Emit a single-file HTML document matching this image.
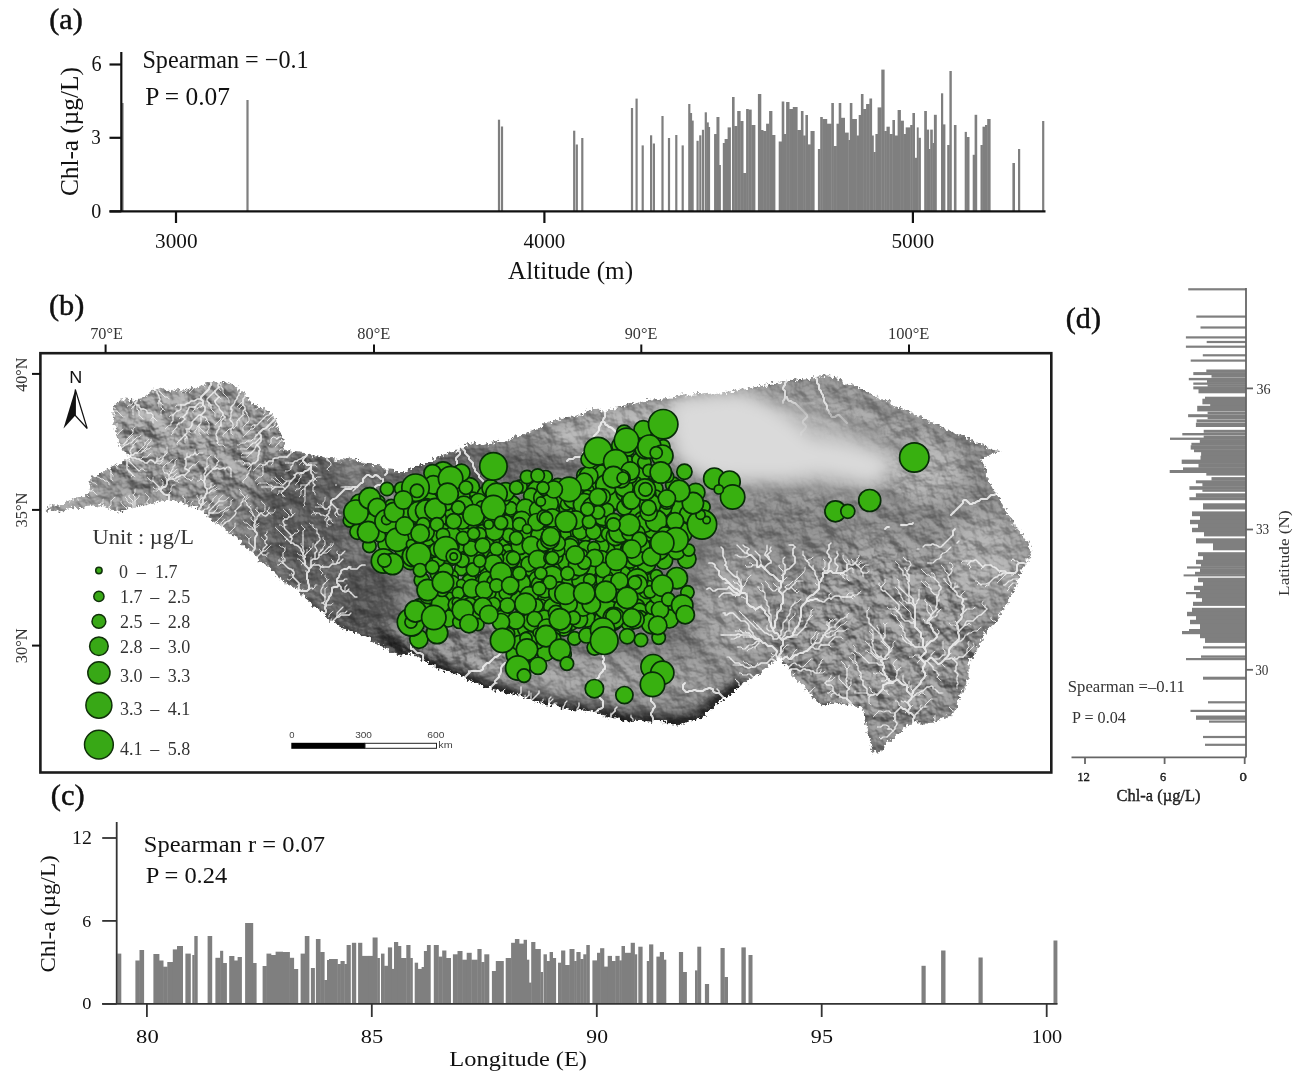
<!DOCTYPE html><html><head><meta charset="utf-8"><title>figure</title><style>html,body{margin:0;padding:0;background:#fff;overflow:hidden;}svg{display:block;will-change:transform;}</style></head><body>
<svg width="1307" height="1080" viewBox="0 0 1307 1080">
<defs>
<filter id="b1" x="-50%" y="-50%" width="200%" height="200%"><feGaussianBlur stdDeviation="1"/></filter>
<filter id="b3" x="-50%" y="-50%" width="200%" height="200%"><feGaussianBlur stdDeviation="3"/></filter>
<filter id="b5" x="-50%" y="-50%" width="200%" height="200%"><feGaussianBlur stdDeviation="5"/></filter>
<filter id="b6" x="-50%" y="-50%" width="200%" height="200%"><feGaussianBlur stdDeviation="6"/></filter>
<filter id="b8" x="-50%" y="-50%" width="200%" height="200%"><feGaussianBlur stdDeviation="8"/></filter>
<filter id="b10" x="-50%" y="-50%" width="200%" height="200%"><feGaussianBlur stdDeviation="10"/></filter>
<filter id="b12" x="-50%" y="-50%" width="200%" height="200%"><feGaussianBlur stdDeviation="12"/></filter>
<filter id="b14" x="-50%" y="-50%" width="200%" height="200%"><feGaussianBlur stdDeviation="14"/></filter>
<filter id="bh" x="-5%" y="-5%" width="110%" height="110%"><feGaussianBlur stdDeviation="0.45"/></filter>
<filter id="relief" x="0" y="0" width="100%" height="100%" color-interpolation-filters="sRGB"><feTurbulence type="fractalNoise" baseFrequency="0.06" numOctaves="4" seed="8" result="n"/><feDiffuseLighting in="n" surfaceScale="6" diffuseConstant="0.9" lighting-color="#fff" result="l"><feDistantLight azimuth="300" elevation="40"/></feDiffuseLighting><feColorMatrix in="l" type="matrix" values="0 0 0 0 0  0 0 0 0 0  0 0 0 0 0  -1.2 0 0 0 0.85"/></filter>
<filter id="hilite" x="0" y="0" width="100%" height="100%" color-interpolation-filters="sRGB"><feTurbulence type="fractalNoise" baseFrequency="0.06" numOctaves="4" seed="8" result="n"/><feDiffuseLighting in="n" surfaceScale="6" diffuseConstant="0.9" lighting-color="#fff" result="l"><feDistantLight azimuth="300" elevation="40"/></feDiffuseLighting><feColorMatrix in="l" type="matrix" values="0 0 0 0 1  0 0 0 0 1  0 0 0 0 1  1.5 0 0 0 -1.0"/></filter>
<filter id="jag" x="-5%" y="-5%" width="110%" height="110%"><feTurbulence type="fractalNoise" baseFrequency="0.06" numOctaves="2" seed="4" result="n"/><feDisplacementMap in="SourceGraphic" in2="n" scale="8" xChannelSelector="R" yChannelSelector="G" result="d1"/><feTurbulence type="fractalNoise" baseFrequency="0.35" numOctaves="2" seed="9" result="n2"/><feDisplacementMap in="d1" in2="n2" scale="7" xChannelSelector="R" yChannelSelector="G"/></filter>
<mask id="mm" maskUnits="userSpaceOnUse" x="0" y="340" width="1100" height="450"><path d="M44.9 509.6 L64.5 502.2 L89 494.9 L91.4 477.7 L103.7 470.4 L120.8 463 L128.1 455.7 L120.8 443.5 L113.5 423.9 L113.5 404.3 L120.8 401.8 L142.8 398.2 L150.2 392 L174.7 388.4 L199.2 385.9 L221.2 381 L235.9 385.9 L248.1 399.4 L265.3 409.2 L277.5 421.4 L281.2 438.6 L284.9 450.8 L304.4 453.3 L328.9 458.1 L353.4 460.6 L382 466 L386 471 L402 473 L413.5 467 L436 459 L465 446 L490.7 441.4 L522.8 435 L538.9 428.6 L555 420.5 L587 412.5 L619.2 406 L651.3 399.6 L683.5 396.4 L715.6 393.2 L747.7 389 L780.3 381.4 L800 378 L825.9 374.7 L840 380 L860.7 389.5 L880 398 L900.9 408.2 L920 418 L941 427 L967.8 437.7 L994.6 449.7 L1000 451 L981.2 459 L988 475 L994.6 488.5 L1000.8 502.2 L1008.8 515.6 L1016.9 529.1 L1027.6 542.5 L1033 555.9 L1022.2 572 L1016.9 582.8 L1011.5 598.9 L995.4 620.4 L982 639.2 L968.5 663.3 L968.5 679.5 L957.8 706.3 L949.7 717 L928.3 722.4 L912.1 722.4 L893.3 738.5 L882.6 749.3 L871.9 752 L866.5 727.8 L861.1 706.3 L842.3 703.6 L820.8 706.3 L802 684.8 L783.2 663.3 L780.6 655.3 L778 658 L747 682.6 L716.6 704 L701 719 L686 722.4 L655 722 L624.8 720 L594.2 713.2 L563.6 708.6 L533 701 L502.4 691.8 L471.8 682.6 L441.2 670.4 L410.6 653.6 L398.9 654.4 L368.3 639.1 L337.7 623.8 L307.1 599.4 L280 579 L268 567 L255 555 L240 541 L225 530 L211.4 519 L199.2 509 L186.9 502.2 L169.8 499.8 L137.9 507.1 L120.8 510.8 L101.2 507.1 L69.4 509.6 L44.9 512 Z" fill="#fff" filter="url(#jag)"/></mask>
<mask id="rm" maskUnits="userSpaceOnUse" x="0" y="340" width="1100" height="450"><rect x="0" y="340" width="1100" height="450" fill="#999"/><g fill="#fff" filter="url(#b14)"><ellipse cx="200" cy="450" rx="110" ry="60"/><ellipse cx="880" cy="640" rx="110" ry="90"/><ellipse cx="420" cy="650" rx="120" ry="25"/></g><g fill="#444" filter="url(#b14)"><ellipse cx="620" cy="540" rx="90" ry="60"/></g><g fill="#000" filter="url(#b8)"><path d="M672 402 L740 394 L767 405 L790 421 L812 440 L840 443 L862 449 L882 456 L893 467 L872 483 L850 478 L820 473 L788 478 L727 478 L700 473 L676 455 Z"/></g></mask>
</defs>
<rect width="1307" height="1080" fill="#fff"/>
<g fill="#7f7f7f">
<rect x="121.4" y="103" width="2.2" height="108"/>
<rect x="246.4" y="100" width="2.2" height="111"/>
<rect x="497.9" y="119.7" width="2.2" height="91.3"/>
<rect x="500.9" y="126.5" width="2.2" height="84.5"/>
<rect x="573.1" y="130.7" width="2.2" height="80.3"/>
<rect x="575.7" y="144.5" width="2.2" height="66.5"/>
<rect x="581.2" y="138" width="2.2" height="73"/>
<rect x="630.9" y="108" width="2.2" height="103"/>
<rect x="635.5" y="98.6" width="2.2" height="112.4"/>
<rect x="641.6" y="145.4" width="2.2" height="65.6"/>
<rect x="650" y="135.3" width="2.2" height="75.7"/>
<rect x="652.8" y="143.5" width="2.2" height="67.5"/>
<rect x="661.4" y="116" width="2.2" height="95"/>
<rect x="667.9" y="138" width="2.2" height="73"/>
<rect x="675.2" y="135" width="2.2" height="76"/>
<rect x="681.6" y="145.4" width="2.2" height="65.6"/>
<rect x="688.2" y="104" width="2.2" height="107"/>
<rect x="689.9" y="113" width="2.2" height="98"/>
<rect x="691.5" y="120.6" width="2.2" height="90.4"/>
<rect x="696.5" y="140.8" width="2.2" height="70.2"/>
<rect x="699.2" y="135.3" width="2.2" height="75.7"/>
<rect x="701.9" y="129.8" width="2.2" height="81.2"/>
<rect x="704.7" y="112.3" width="2.2" height="98.7"/>
<rect x="706.6" y="122.4" width="2.2" height="88.6"/>
<rect x="707.9" y="127" width="2.2" height="84"/>
<rect x="714.3" y="134.4" width="2.2" height="76.6"/>
<rect x="716.9" y="117" width="2.2" height="94"/>
<rect x="1042.1" y="121" width="2.2" height="90"/>
<rect x="714.2" y="134" width="2.7" height="77"/>
<rect x="716.5" y="117" width="2.9" height="94"/>
<rect x="719" y="165" width="1.9" height="46"/>
<rect x="722.8" y="143" width="2.2" height="68"/>
<rect x="724.6" y="139" width="3.4" height="72"/>
<rect x="727.6" y="127.4" width="3.3" height="83.6"/>
<rect x="732" y="97" width="2.6" height="114"/>
<rect x="734.2" y="126" width="3.4" height="85"/>
<rect x="737.2" y="111" width="3.4" height="100"/>
<rect x="740.2" y="121" width="3.3" height="90"/>
<rect x="743.1" y="173" width="3.4" height="38"/>
<rect x="746.1" y="109" width="2.6" height="102"/>
<rect x="748.3" y="109.6" width="3.4" height="101.4"/>
<rect x="751.3" y="125" width="4.1" height="86"/>
<rect x="757.9" y="94" width="3.4" height="117"/>
<rect x="760.9" y="130" width="2.6" height="81"/>
<rect x="763.1" y="131" width="3.4" height="80"/>
<rect x="766.1" y="123.7" width="3.4" height="87.3"/>
<rect x="769.1" y="111" width="3.3" height="100"/>
<rect x="772" y="135" width="3.4" height="76"/>
<rect x="778.7" y="141.5" width="3.4" height="69.5"/>
<rect x="781.7" y="101.5" width="2.6" height="109.5"/>
<rect x="783.9" y="134" width="2.6" height="77"/>
<rect x="786.1" y="102" width="3.4" height="109"/>
<rect x="789.1" y="109" width="4.1" height="102"/>
<rect x="792.8" y="107" width="4.8" height="104"/>
<rect x="797.2" y="130" width="4.1" height="81"/>
<rect x="800.9" y="111" width="2.6" height="100"/>
<rect x="803.1" y="135.5" width="2.7" height="75.5"/>
<rect x="805.4" y="115" width="2.6" height="96"/>
<rect x="807.6" y="144.4" width="3.3" height="66.6"/>
<rect x="810.5" y="131" width="4.1" height="80"/>
<rect x="817.9" y="149" width="2.7" height="62"/>
<rect x="820.2" y="117" width="2.6" height="94"/>
<rect x="822.4" y="119" width="4.8" height="92"/>
<rect x="826.8" y="123.7" width="4.9" height="87.3"/>
<rect x="831.3" y="103" width="2.6" height="108"/>
<rect x="833.5" y="146" width="3.4" height="65"/>
<rect x="836.5" y="123.7" width="2.6" height="87.3"/>
<rect x="838.7" y="103" width="2.6" height="108"/>
<rect x="840.9" y="117.8" width="4.1" height="93.2"/>
<rect x="844.6" y="132.6" width="4.1" height="78.4"/>
<rect x="848.3" y="140" width="1.9" height="71"/>
<rect x="849.8" y="103" width="2.6" height="108"/>
<rect x="852" y="119" width="4.9" height="92"/>
<rect x="856.5" y="135.5" width="2.6" height="75.5"/>
<rect x="858.7" y="115" width="2.6" height="96"/>
<rect x="860.9" y="94" width="2.6" height="117"/>
<rect x="863.1" y="109" width="3.4" height="102"/>
<rect x="866.1" y="104" width="3.7" height="107"/>
<rect x="869.4" y="98.5" width="2.7" height="112.5"/>
<rect x="871.7" y="135.5" width="2.1" height="75.5"/>
<rect x="873.4" y="152" width="2.4" height="59"/>
<rect x="875.4" y="134" width="2.6" height="77"/>
<rect x="877.6" y="107.4" width="4.1" height="103.6"/>
<rect x="881.3" y="69.6" width="3.3" height="141.4"/>
<rect x="884.2" y="131" width="2.7" height="80"/>
<rect x="886.5" y="126.7" width="3.3" height="84.3"/>
<rect x="889.4" y="134" width="3.4" height="77"/>
<rect x="892.4" y="120" width="2.6" height="91"/>
<rect x="894.6" y="135.5" width="3.4" height="75.5"/>
<rect x="897.6" y="110" width="3.3" height="101"/>
<rect x="900.5" y="120.7" width="3.4" height="90.3"/>
<rect x="903.5" y="134" width="2.6" height="77"/>
<rect x="905.7" y="127.4" width="4.9" height="83.6"/>
<rect x="910.2" y="125" width="2.6" height="86"/>
<rect x="912.4" y="113" width="2.6" height="98"/>
<rect x="914.6" y="157.8" width="2.6" height="53.2"/>
<rect x="916.8" y="127.4" width="1.9" height="83.6"/>
<rect x="918.3" y="137.8" width="2.6" height="73.2"/>
<rect x="924.2" y="111" width="2.7" height="100"/>
<rect x="926.5" y="129.6" width="2.6" height="81.4"/>
<rect x="928.7" y="149" width="1.9" height="62"/>
<rect x="930.2" y="129.6" width="2.6" height="81.4"/>
<rect x="932.4" y="143" width="1.9" height="68"/>
<rect x="933.9" y="114.8" width="2.9" height="96.2"/>
<rect x="941" y="93.3" width="2.2" height="117.7"/>
<rect x="942.8" y="124.4" width="2.6" height="86.6"/>
<rect x="947.2" y="145" width="2.6" height="66"/>
<rect x="949.4" y="71" width="2.4" height="140"/>
<rect x="953.9" y="125" width="2.6" height="86"/>
<rect x="964.7" y="131.9" width="2.2" height="79.1"/>
<rect x="966.5" y="137" width="3" height="74"/>
<rect x="972.7" y="154.8" width="2.3" height="56.2"/>
<rect x="974.6" y="114.8" width="2.6" height="96.2"/>
<rect x="980.5" y="145" width="2.4" height="66"/>
<rect x="982.5" y="126.7" width="2.9" height="84.3"/>
<rect x="985" y="125" width="2.6" height="86"/>
<rect x="987.2" y="119" width="3.4" height="92"/>
<rect x="1012.4" y="163" width="2.6" height="48"/>
<rect x="1018" y="149" width="2.2" height="62"/>
</g>
<g stroke="#111" stroke-width="2.2" fill="none">
<path d="M121.3 52 V211.4"/>
<path d="M109.5 211.4 H1045.5"/>
<path d="M109.5 64.5 H121.3"/>
<path d="M109.5 137.8 H121.3"/>
<path d="M109.5 211.4 H121.3"/>
<path d="M176 211.4 V223"/>
<path d="M544.4 211.4 V223"/>
<path d="M912.9 211.4 V223"/>
</g>
<g fill="#111">
<text stroke="currentColor" stroke-width="0.45" x="49.35" y="29.19" font-size="29.34" font-family='"Liberation Serif", serif' textLength="33.41" lengthAdjust="spacingAndGlyphs">(a)</text>
<text x="142.43" y="67.93" font-size="25.45" font-family='"Liberation Serif", serif' textLength="166.16" lengthAdjust="spacingAndGlyphs">Spearman = −0.1</text>
<text x="145.24" y="104.72" font-size="25.44" font-family='"Liberation Serif", serif'>P = 0.07</text>
<text x="91.39" y="71.08" font-size="22.39" font-family='"Liberation Serif", serif' textLength="10.12" lengthAdjust="spacingAndGlyphs">6</text>
<text x="91.14" y="144.29" font-size="20.90" font-family='"Liberation Serif", serif' textLength="9.52" lengthAdjust="spacingAndGlyphs">3</text>
<text x="91.20" y="218.19" font-size="21.48" font-family='"Liberation Serif", serif' textLength="10.00" lengthAdjust="spacingAndGlyphs">0</text>
<text x="155.04" y="247.99" font-size="20.89" font-family='"Liberation Serif", serif' textLength="42.51" lengthAdjust="spacingAndGlyphs">3000</text>
<text x="523.48" y="247.50" font-size="20.44" font-family='"Liberation Serif", serif' textLength="41.86" lengthAdjust="spacingAndGlyphs">4000</text>
<text x="891.42" y="247.50" font-size="20.44" font-family='"Liberation Serif", serif' textLength="42.74" lengthAdjust="spacingAndGlyphs">5000</text>
<text x="508.05" y="279.41" font-size="24.62" font-family='"Liberation Serif", serif' textLength="124.99" lengthAdjust="spacingAndGlyphs">Altitude (m)</text>
<text transform="rotate(-90)" x="-196.01" y="77.97" font-size="25.71" font-family='"Liberation Serif", serif' textLength="128.79" lengthAdjust="spacingAndGlyphs">Chl-a (µg/L)</text>
</g>
<g mask="url(#mm)">
<rect x="40" y="360" width="1012" height="410" fill="#8e8e8e"/>
<g fill="#a4a4a4" filter="url(#b12)"><ellipse cx="200" cy="445" rx="100" ry="55"/></g>
<g fill="#b0b0b0" filter="url(#b10)"><ellipse cx="185" cy="420" rx="70" ry="30"/></g>
<g fill="#acacac" filter="url(#b6)"><ellipse cx="90" cy="500" rx="50" ry="12"/></g>
<g fill="#626262" filter="url(#b12)"><ellipse cx="305" cy="520" rx="50" ry="70"/></g>
<g fill="#585858" filter="url(#b10)"><ellipse cx="365" cy="600" rx="35" ry="45"/></g>
<g fill="#606060" filter="url(#b10)"><ellipse cx="470" cy="468" rx="110" ry="18"/></g>
<g fill="#7a7a7a" filter="url(#b14)"><ellipse cx="620" cy="560" rx="120" ry="110"/></g>
<g fill="#a2a2a2" filter="url(#b8)"><ellipse cx="870" cy="415" rx="100" ry="28"/></g>
<g fill="#b6b6b6" filter="url(#b10)"><ellipse cx="925" cy="470" rx="40" ry="30"/></g>
<g fill="#a2a2a2" filter="url(#b14)"><ellipse cx="880" cy="630" rx="90" ry="90"/></g>
<g fill="#b2b2b2" filter="url(#b12)"><ellipse cx="985" cy="560" rx="40" ry="45"/></g>
<g fill="#8a8a8a" filter="url(#b12)"><ellipse cx="770" cy="520" rx="60" ry="35"/></g>
<g fill="#b4b4b4" filter="url(#b6)"><path d="M540 432 L600 412 L680 400 L720 396 L730 420 L690 440 L620 445 L560 448 Z"/></g>
<g fill="#a4a4a4" filter="url(#b10)"><ellipse cx="735" cy="610" rx="40" ry="60"/></g>
<g fill="#a6a6a6" filter="url(#b10)"><ellipse cx="570" cy="676" rx="150" ry="20"/></g>
<path d="M380 642 L410.6 655 L441.2 672 L471.8 684 L502.4 693.8 L533 703 L563.6 710.6 L594.2 715.2 L624.8 721 L655 723 L686 723 L701 720 L716.6 705 L747 684" fill="none" stroke="#222" stroke-width="18" filter="url(#b5)"/>
<path d="M300 598 L337 627 L368 642 L398 657 L430 672" fill="none" stroke="#484848" stroke-width="10" filter="url(#b5)"/>
<g mask="url(#rm)">
<rect x="40" y="360" width="1012" height="410" filter="url(#relief)" opacity="0.62"/>
<rect x="40" y="360" width="1012" height="410" filter="url(#hilite)" opacity="0.6"/>
</g>
<g fill="none" stroke="#f4f4f4" stroke-linecap="round" stroke-linejoin="round" opacity="0.85" filter="url(#bh)">
<path d="M199 387 L199 387 L199 387 L199 385 L199 385" stroke-width="0.8"/>
<path d="M205 387 L205 387 L205 387 L203 385 L203 385" stroke-width="0.8"/>
<path d="M179 391 L179 391 L179 391 L181 391 L182 391 L183 391 L183 391" stroke-width="0.8"/>
<path d="M183 391 L184 391 L185 391 L187 389 L187 389" stroke-width="1"/>
<path d="M187 389 L187 387" stroke-width="1.1"/>
<path d="M221 391 L221 391 L221 391 L219 389 L219 388 L219 387 L219 387" stroke-width="0.8"/>
<path d="M219 387 L218 386 L218 385 L219 383 L219 383" stroke-width="1.7"/>
<path d="M219 383 L219 381" stroke-width="1.8"/>
<path d="M237 391 L237 391 L237 391 L239 389 L239 389" stroke-width="0.9"/>
<path d="M153 393 L153 393 L153 393 L153 391 L153 391" stroke-width="0.8"/>
<path d="M181 393 L181 393 L181 393 L183 391 L183 391" stroke-width="0.8"/>
<path d="M185 393 L185 393 L185 393 L187 391 L187 391" stroke-width="0.8"/>
<path d="M187 391 L187 389" stroke-width="0.9"/>
<path d="M189 393 L189 393 L189 393 L191 391 L192 390 L193 389 L193 389" stroke-width="0.8"/>
<path d="M193 389 L194 388 L195 387 L195 385 L195 385" stroke-width="0.9"/>
<path d="M147 397 L147 397 L147 397 L145 395 L145 395" stroke-width="0.9"/>
<path d="M169 399 L169 399 L169 399 L167 397 L167 397" stroke-width="0.8"/>
<path d="M167 397 L165 397" stroke-width="0.9"/>
<path d="M165 397 L164 396 L163 395 L161 393 L161 393" stroke-width="1"/>
<path d="M161 393 L160 392 L159 391 L159 389 L159 389" stroke-width="1.1"/>
<path d="M221 399 L221 399 L221 399 L219 397 L219 397" stroke-width="0.8"/>
<path d="M219 397 L218 396 L217 395 L215 393 L215 392 L215 391 L215 391" stroke-width="1.6"/>
<path d="M215 391 L216 390 L217 389 L219 387 L219 387" stroke-width="1.7"/>
<path d="M125 403 L125 403 L125 403 L125 401 L125 401" stroke-width="0.8"/>
<path d="M157 403 L157 403 L157 403 L159 403 L159 403" stroke-width="0.8"/>
<path d="M159 403 L159 401" stroke-width="1.1"/>
<path d="M159 401 L160 400 L160 399 L159 397 L159 396 L158 394 L157 393 L157 391 L157 391" stroke-width="1.4"/>
<path d="M229 403 L229 403 L229 403 L229 401 L229 400 L228 398 L227 397 L227 397" stroke-width="0.8"/>
<path d="M227 397 L225 395" stroke-width="0.9"/>
<path d="M225 395 L224 394 L223 393 L223 391 L223 390 L223 389 L223 389" stroke-width="1"/>
<path d="M223 389 L222 388 L221 387 L221 385 L220 384 L219 383 L219 383" stroke-width="1.1"/>
<path d="M783 403 L783 403 L783 403 L783 401 L784 400 L785 398 L785 397 L785 395 L785 394 L785 392 L785 391 L783 389 L783 388 L784 386 L785 385 L785 383 L786 382 L787 380 L787 379 L787 379" stroke-width="2"/>
<path d="M163 405 L163 405 L163 405 L161 403 L161 403" stroke-width="0.9"/>
<path d="M161 403 L159 401" stroke-width="1.2"/>
<path d="M213 405 L213 405 L213 405 L211 405 L211 405" stroke-width="0.9"/>
<path d="M211 405 L209 403" stroke-width="1.2"/>
<path d="M209 403 L208 402 L207 401 L207 399 L208 398 L210 396 L211 395 L213 393 L213 393" stroke-width="1.3"/>
<path d="M213 393 L215 391" stroke-width="1.4"/>
<path d="M127 407 L127 407 L127 407 L129 405 L130 405 L131 405 L131 405" stroke-width="0.8"/>
<path d="M131 405 L132 404 L133 403 L133 401 L133 400 L133 399 L133 399" stroke-width="0.9"/>
<path d="M159 407 L159 407 L159 407 L159 405 L159 405" stroke-width="0.8"/>
<path d="M159 405 L159 403" stroke-width="0.9"/>
<path d="M175 407 L175 407 L175 407 L177 405 L177 405" stroke-width="0.8"/>
<path d="M177 405 L178 405 L179 405 L181 405 L181 405" stroke-width="0.9"/>
<path d="M181 405 L182 405 L183 405 L185 405 L186 404 L188 403 L189 403 L189 403" stroke-width="1.4"/>
<path d="M189 403 L190 402 L191 401 L193 401 L194 401 L196 400 L197 399 L199 399 L200 399 L201 399 L201 399" stroke-width="1.5"/>
<path d="M201 399 L201 398 L201 397 L203 395 L204 394 L206 392 L207 391 L209 389 L209 388 L210 386 L211 385 L211 383 L211 383" stroke-width="2"/>
<path d="M209 407 L209 407 L209 407 L209 405 L209 405" stroke-width="0.8"/>
<path d="M209 405 L209 403" stroke-width="0.9"/>
<path d="M237 407 L237 407 L237 407 L239 405 L240 404 L241 403 L241 403" stroke-width="0.8"/>
<path d="M241 403 L243 401" stroke-width="0.9"/>
<path d="M243 401 L243 400 L243 399 L245 397 L245 396 L245 395 L245 395" stroke-width="1.5"/>
<path d="M131 409 L131 409 L131 409 L133 407 L133 407" stroke-width="0.8"/>
<path d="M133 407 L134 406 L135 405 L135 403 L135 403" stroke-width="1.1"/>
<path d="M135 403 L136 402 L137 401 L137 399 L137 399" stroke-width="1.6"/>
<path d="M197 409 L197 409 L197 409 L199 407 L200 407 L201 407 L201 407" stroke-width="0.8"/>
<path d="M201 407 L203 405" stroke-width="1"/>
<path d="M203 405 L203 403" stroke-width="1.8"/>
<path d="M203 403 L203 402 L203 401 L201 399 L201 399" stroke-width="1.9"/>
<path d="M239 409 L239 409 L239 409 L241 407 L241 407" stroke-width="0.8"/>
<path d="M241 407 L243 405" stroke-width="0.9"/>
<path d="M243 405 L243 404 L243 403 L243 401 L243 401" stroke-width="1.5"/>
<path d="M255 409 L255 409 L255 409 L257 409 L257 409" stroke-width="0.8"/>
<path d="M257 409 L258 408 L259 407 L259 405 L259 405" stroke-width="1"/>
<path d="M141 411 L141 411 L141 411 L141 409 L141 409" stroke-width="0.8"/>
<path d="M141 409 L140 408 L139 407 L139 405 L138 405 L137 405 L137 405" stroke-width="1.4"/>
<path d="M137 405 L135 403" stroke-width="1.5"/>
<path d="M165 411 L165 411 L165 411 L163 409 L163 409" stroke-width="0.8"/>
<path d="M163 409 L161 407" stroke-width="1"/>
<path d="M161 407 L161 406 L161 405 L161 403 L161 403" stroke-width="1.1"/>
<path d="M193 413 L193 413 L193 413 L193 411 L193 411" stroke-width="0.8"/>
<path d="M193 411 L194 410 L195 409 L195 407 L195 407" stroke-width="0.9"/>
<path d="M195 407 L196 406 L197 405 L199 403 L200 403 L202 403 L203 403 L203 403" stroke-width="1.5"/>
<path d="M133 415 L133 415 L133 415 L133 413 L133 412 L133 411 L133 411" stroke-width="0.9"/>
<path d="M133 411 L133 410 L133 409 L133 407 L133 407" stroke-width="1"/>
<path d="M161 415 L161 415 L161 415 L161 413 L161 412 L161 411 L161 411" stroke-width="0.8"/>
<path d="M161 411 L163 409" stroke-width="0.9"/>
<path d="M245 415 L245 415 L245 415 L243 413 L243 413" stroke-width="0.8"/>
<path d="M243 413 L243 412 L243 411 L245 409 L245 409" stroke-width="1.2"/>
<path d="M245 409 L245 408 L245 407 L243 405 L243 405" stroke-width="1.4"/>
<path d="M263 415 L263 415 L263 415 L265 413 L265 412 L265 411 L265 411" stroke-width="0.8"/>
<path d="M265 411 L265 409" stroke-width="0.9"/>
<path d="M125 417 L125 417 L125 417 L123 417 L122 416 L121 415 L121 415" stroke-width="0.8"/>
<path d="M121 415 L120 414 L119 413 L117 411 L117 411" stroke-width="0.9"/>
<path d="M117 411 L116 411 L115 411 L113 411 L113 411" stroke-width="1"/>
<path d="M169 417 L169 417 L169 417 L171 415 L172 415 L173 415 L173 415" stroke-width="0.8"/>
<path d="M173 415 L174 414 L175 413 L177 411 L178 411 L180 410 L181 409 L181 407 L181 406 L181 405 L181 405" stroke-width="1.3"/>
<path d="M215 417 L215 417 L215 417 L215 415 L215 415" stroke-width="0.8"/>
<path d="M215 415 L215 414 L215 413 L213 411 L213 411" stroke-width="0.9"/>
<path d="M213 411 L212 410 L211 409 L211 407 L211 407" stroke-width="1"/>
<path d="M211 407 L211 405" stroke-width="1.1"/>
<path d="M143 419 L143 419 L143 419 L141 417 L140 416 L139 415 L139 415" stroke-width="0.9"/>
<path d="M139 415 L139 414 L139 413 L139 411 L138 410 L137 409 L137 409" stroke-width="1"/>
<path d="M137 409 L137 408 L137 407 L137 405 L137 405" stroke-width="1.1"/>
<path d="M179 419 L179 419 L179 419 L181 417 L181 417" stroke-width="0.8"/>
<path d="M181 417 L183 417" stroke-width="0.9"/>
<path d="M183 417 L185 415" stroke-width="1.3"/>
<path d="M185 415 L186 414 L187 413 L187 411 L188 410 L189 408 L189 407 L191 407 L192 407 L194 407 L195 407 L195 407" stroke-width="1.4"/>
<path d="M151 421 L151 421 L151 421 L151 419 L152 418 L153 417 L153 417" stroke-width="0.8"/>
<path d="M153 417 L153 416 L153 415 L151 413 L150 413 L148 413 L147 413 L147 411 L146 410 L144 409 L143 409 L143 409" stroke-width="1.3"/>
<path d="M143 409 L141 409" stroke-width="1.4"/>
<path d="M157 421 L157 421 L157 421 L155 419 L154 418 L153 417 L153 417" stroke-width="1"/>
<path d="M205 421 L205 421 L205 421 L207 419 L207 419" stroke-width="0.8"/>
<path d="M207 419 L206 418 L205 417 L203 417 L203 417" stroke-width="1.1"/>
<path d="M203 417 L201 415" stroke-width="1.2"/>
<path d="M201 415 L202 414 L203 413 L205 411 L205 410 L205 408 L205 407 L203 405 L203 405" stroke-width="1.7"/>
<path d="M225 421 L225 421 L225 421 L225 419 L225 418 L225 417 L225 417" stroke-width="0.9"/>
<path d="M225 417 L223 415" stroke-width="1.4"/>
<path d="M223 415 L223 414 L223 413 L221 411 L220 410 L219 408 L219 407 L217 405 L216 404 L215 402 L215 401 L215 401" stroke-width="1.5"/>
<path d="M215 401 L216 400 L217 399 L219 397 L219 397" stroke-width="1.6"/>
<path d="M239 421 L239 421 L239 421 L239 419 L239 419" stroke-width="0.9"/>
<path d="M239 419 L240 418 L241 417 L243 415 L243 415" stroke-width="1.1"/>
<path d="M243 415 L243 413" stroke-width="1.2"/>
<path d="M267 421 L267 421 L267 421 L269 419 L270 418 L271 417 L271 417" stroke-width="0.8"/>
<path d="M271 417 L273 415" stroke-width="0.9"/>
<path d="M117 423 L117 423 L117 423 L117 425 L117 426 L117 427 L117 427" stroke-width="0.8"/>
<path d="M117 427 L115 429" stroke-width="0.9"/>
<path d="M153 423 L153 423 L153 423 L153 421 L153 421" stroke-width="0.8"/>
<path d="M153 421 L153 420 L153 419 L153 417 L153 417" stroke-width="0.9"/>
<path d="M847 423 L847 423 L847 423 L845 421 L844 420 L842 418 L841 417 L839 415 L838 415 L836 416 L835 417 L833 417 L832 417 L831 416 L831 415 L829 413 L829 412 L828 410 L827 409 L827 407 L827 406 L826 404 L825 403 L824 401 L824 400 L824 398 L823 397 L823 395 L822 394 L821 392 L821 391 L819 389 L819 388 L819 386 L819 385 L817 383 L817 382 L817 380 L817 379 L815 377 L815 376 L815 375 L815 375" stroke-width="2"/>
<path d="M179 425 L179 425 L179 425 L179 423 L179 423" stroke-width="0.8"/>
<path d="M179 423 L180 423 L181 423 L183 421 L184 420 L185 419 L185 419" stroke-width="1.2"/>
<path d="M185 419 L183 417" stroke-width="1.3"/>
<path d="M215 425 L215 425 L215 425 L217 423 L217 423" stroke-width="0.8"/>
<path d="M217 423 L219 421" stroke-width="0.9"/>
<path d="M219 421 L220 420 L221 419 L221 417 L222 416 L223 415 L223 415" stroke-width="1"/>
<path d="M135 427 L135 427 L135 427 L133 429 L133 430 L133 431 L133 431" stroke-width="0.8"/>
<path d="M133 431 L133 432 L133 433 L131 435 L130 436 L128 438 L127 439 L127 439" stroke-width="1"/>
<path d="M127 439 L127 441" stroke-width="1.1"/>
<path d="M127 441 L126 442 L125 443 L123 445 L122 445 L121 445 L121 445" stroke-width="1.2"/>
<path d="M221 427 L221 427 L221 427 L221 425 L221 425" stroke-width="0.8"/>
<path d="M221 425 L221 424 L221 423 L221 421 L222 420 L223 419 L223 419" stroke-width="1.3"/>
<path d="M223 419 L225 417" stroke-width="1.4"/>
<path d="M251 427 L251 427 L251 427 L253 425 L254 425 L255 425 L255 425" stroke-width="0.8"/>
<path d="M255 425 L256 425 L257 425 L259 423 L260 422 L262 420 L263 419 L265 417 L266 416 L268 415 L269 415 L269 415" stroke-width="1.2"/>
<path d="M269 415 L271 413" stroke-width="1.3"/>
<path d="M123 429 L123 429 L123 429 L121 431 L121 431" stroke-width="0.8"/>
<path d="M121 431 L119 433" stroke-width="0.9"/>
<path d="M119 433 L117 435" stroke-width="1"/>
<path d="M131 429 L131 429 L131 429 L133 431 L133 431" stroke-width="0.8"/>
<path d="M165 429 L165 429 L165 429 L167 427 L168 426 L170 425 L171 425 L171 425" stroke-width="0.9"/>
<path d="M171 425 L171 424 L171 423 L173 421 L173 420 L173 419 L173 419" stroke-width="1.1"/>
<path d="M173 419 L173 418 L173 417 L173 415 L173 415" stroke-width="1.2"/>
<path d="M185 429 L185 429 L185 429 L187 429 L187 429" stroke-width="0.8"/>
<path d="M187 429 L189 429" stroke-width="1.4"/>
<path d="M189 429 L190 428 L191 427 L192 425 L192 424 L192 422 L193 421 L195 419 L196 418 L198 416 L199 415 L201 415 L201 415" stroke-width="1.5"/>
<path d="M233 429 L233 429 L233 429 L235 427 L236 426 L237 425 L237 425" stroke-width="0.8"/>
<path d="M237 425 L237 423" stroke-width="0.9"/>
<path d="M237 423 L237 422 L237 421 L239 419 L239 419" stroke-width="1"/>
<path d="M277 429 L277 429 L277 429 L279 427 L279 427" stroke-width="0.8"/>
<path d="M119 431 L119 431 L119 431 L119 433 L119 433" stroke-width="0.8"/>
<path d="M243 431 L243 431 L243 431 L243 429 L243 429" stroke-width="0.8"/>
<path d="M243 429 L243 428 L243 427 L245 425 L246 424 L247 423 L247 423" stroke-width="0.9"/>
<path d="M247 423 L248 422 L249 421 L249 419 L249 418 L248 416 L247 415 L247 413 L247 413" stroke-width="1"/>
<path d="M247 413 L246 412 L245 411 L245 409 L245 409" stroke-width="1.1"/>
<path d="M269 431 L269 431 L269 431 L269 429 L269 429" stroke-width="0.8"/>
<path d="M269 429 L270 428 L271 427 L273 427 L273 427" stroke-width="0.9"/>
<path d="M273 427 L274 426 L275 425 L275 423 L276 422 L277 420 L277 419 L277 419" stroke-width="1"/>
<path d="M189 433 L189 433 L189 433 L189 431 L189 431" stroke-width="0.8"/>
<path d="M189 431 L189 429" stroke-width="1"/>
<path d="M191 433 L191 433 L191 433 L189 431 L189 431" stroke-width="0.8"/>
<path d="M195 433 L195 433 L195 433 L195 431 L195 431" stroke-width="0.8"/>
<path d="M195 431 L196 430 L197 429 L197 427 L198 426 L199 425 L199 425" stroke-width="0.9"/>
<path d="M199 425 L200 424 L201 423 L201 421 L201 420 L201 419 L201 419" stroke-width="1.2"/>
<path d="M201 419 L201 418 L201 417 L201 415 L201 415" stroke-width="1.3"/>
<path d="M205 433 L205 433 L205 433 L203 431 L202 430 L201 429 L201 429" stroke-width="0.8"/>
<path d="M201 429 L199 427" stroke-width="0.9"/>
<path d="M199 427 L199 425" stroke-width="1.1"/>
<path d="M133 435 L133 435 L133 435 L131 437 L130 438 L128 440 L127 441 L127 441" stroke-width="0.8"/>
<path d="M141 435 L141 435 L141 435 L139 437 L138 437 L137 437 L137 437" stroke-width="0.9"/>
<path d="M137 437 L136 438 L135 439 L133 441 L133 441" stroke-width="1"/>
<path d="M133 441 L132 442 L131 443 L129 443 L128 444 L126 445 L125 445 L123 447 L123 447" stroke-width="1.1"/>
<path d="M123 447 L121 447" stroke-width="1.2"/>
<path d="M171 435 L171 435 L171 435 L173 433 L173 433" stroke-width="0.8"/>
<path d="M173 433 L173 431" stroke-width="0.9"/>
<path d="M173 431 L175 429" stroke-width="1"/>
<path d="M175 429 L176 428 L177 427 L177 425 L178 424 L179 423 L179 423" stroke-width="1.1"/>
<path d="M201 435 L201 435 L201 435 L199 433 L199 432 L199 430 L199 429 L199 429" stroke-width="0.8"/>
<path d="M199 429 L199 427" stroke-width="0.9"/>
<path d="M209 435 L209 435 L209 435 L207 433 L207 432 L208 430 L209 429 L209 429" stroke-width="0.8"/>
<path d="M209 429 L209 428 L209 427 L209 425 L209 424 L209 423 L209 423" stroke-width="0.9"/>
<path d="M209 423 L208 422 L207 421 L207 419 L207 419" stroke-width="1"/>
<path d="M233 435 L233 435 L233 435 L231 433 L231 433" stroke-width="0.8"/>
<path d="M231 433 L231 432 L231 431 L231 429 L231 429" stroke-width="0.9"/>
<path d="M231 429 L232 428 L233 427 L233 425 L233 424 L232 422 L231 421 L231 421" stroke-width="1.2"/>
<path d="M231 421 L230 420 L230 419 L231 417 L231 416 L231 414 L231 413 L232 411 L232 410 L231 409 L231 409" stroke-width="1.3"/>
<path d="M231 409 L231 408 L231 407 L233 405 L234 404 L235 402 L235 401 L237 399 L237 398 L238 396 L239 395 L239 393 L240 392 L241 391 L241 391" stroke-width="1.4"/>
<path d="M255 435 L255 435 L255 435 L257 435 L257 435" stroke-width="0.8"/>
<path d="M257 435 L259 433" stroke-width="1.2"/>
<path d="M259 433 L260 432 L261 431 L263 429 L264 429 L266 428 L267 427 L269 425 L270 424 L272 422 L273 421 L275 419 L275 418 L275 417 L275 417" stroke-width="1.8"/>
<path d="M801 435 L801 435 L801 435 L801 433 L802 432 L804 430 L805 429 L806 427 L806 426 L804 424 L803 423 L803 421 L804 420 L806 418 L807 417 L807 415 L806 414 L804 412 L803 411 L801 409 L800 408 L798 406 L797 405 L795 403 L794 403 L792 402 L791 401 L789 401 L788 400 L787 398 L787 397 L785 397 L785 397" stroke-width="2"/>
<path d="M223 437 L223 437 L223 437 L223 435 L223 435" stroke-width="0.8"/>
<path d="M223 435 L225 433" stroke-width="0.9"/>
<path d="M225 433 L226 432 L227 431 L229 429 L230 429 L231 429 L231 429" stroke-width="1"/>
<path d="M243 437 L243 437 L243 437 L245 435 L246 434 L247 433 L247 433" stroke-width="0.8"/>
<path d="M247 433 L248 432 L249 431 L251 429 L251 429" stroke-width="0.9"/>
<path d="M251 429 L252 429 L253 429 L255 427 L255 426 L255 425 L255 425" stroke-width="1"/>
<path d="M133 439 L133 439 L133 439 L133 441 L133 441" stroke-width="0.8"/>
<path d="M149 439 L149 439 L149 439 L147 441 L146 442 L145 443 L145 443" stroke-width="0.8"/>
<path d="M145 443 L145 444 L145 445 L143 447 L142 448 L140 450 L139 451 L139 451" stroke-width="0.9"/>
<path d="M139 451 L137 453" stroke-width="1"/>
<path d="M137 453 L136 453 L135 453 L133 455 L133 455" stroke-width="1.3"/>
<path d="M133 455 L131 455" stroke-width="1.4"/>
<path d="M131 455 L129 457" stroke-width="1.5"/>
<path d="M129 457 L127 455" stroke-width="1.8"/>
<path d="M151 439 L151 439 L151 439 L151 441 L151 441" stroke-width="0.8"/>
<path d="M151 441 L150 442 L149 443 L147 445 L147 446 L147 447 L147 447" stroke-width="0.9"/>
<path d="M147 447 L146 448 L145 449 L143 451 L143 451" stroke-width="1"/>
<path d="M143 451 L142 452 L141 453 L139 453 L138 453 L137 453 L137 453" stroke-width="1.2"/>
<path d="M187 439 L187 439 L187 439 L187 437 L187 437" stroke-width="0.9"/>
<path d="M187 437 L185 435" stroke-width="1.1"/>
<path d="M185 435 L186 434 L187 433 L187 431 L187 430 L187 429 L187 429" stroke-width="1.4"/>
<path d="M141 441 L141 441 L141 441 L139 441 L138 441 L137 441 L137 441" stroke-width="0.8"/>
<path d="M137 441 L136 442 L135 443 L133 445 L133 445" stroke-width="0.9"/>
<path d="M133 445 L133 447" stroke-width="1"/>
<path d="M133 447 L132 448 L131 449 L130 451 L130 452 L131 453 L131 453" stroke-width="1.1"/>
<path d="M131 453 L131 455" stroke-width="1.2"/>
<path d="M279 441 L279 441 L279 441 L281 441 L281 441" stroke-width="0.8"/>
<path d="M281 441 L283 441" stroke-width="1"/>
<path d="M185 443 L185 443 L185 443 L185 441 L185 440 L185 439 L185 439" stroke-width="0.8"/>
<path d="M185 439 L187 437" stroke-width="0.9"/>
<path d="M177 445 L177 445 L177 445 L177 443 L178 442 L179 441 L179 441" stroke-width="1"/>
<path d="M179 441 L181 439" stroke-width="1.1"/>
<path d="M181 439 L182 438 L183 437 L185 435 L185 435" stroke-width="1.2"/>
<path d="M237 445 L237 445 L237 445 L239 445 L240 444 L242 443 L243 443 L243 443" stroke-width="0.8"/>
<path d="M243 443 L244 443 L245 443 L247 441 L248 441 L249 441 L249 441" stroke-width="0.9"/>
<path d="M249 441 L250 441 L251 441 L253 439 L254 439 L255 439 L255 439" stroke-width="1"/>
<path d="M255 439 L255 438 L255 437 L257 435 L257 435" stroke-width="1.1"/>
<path d="M269 445 L269 445 L269 445 L271 443 L271 442 L271 441 L271 441" stroke-width="0.9"/>
<path d="M271 441 L271 440 L271 439 L273 437 L274 437 L276 438 L277 439 L277 439" stroke-width="1"/>
<path d="M277 439 L278 438 L279 437 L281 437 L281 437" stroke-width="1.1"/>
<path d="M135 447 L135 447 L135 447 L133 447 L133 447" stroke-width="0.8"/>
<path d="M151 447 L151 447 L151 447 L149 449 L148 449 L147 449 L147 449" stroke-width="0.8"/>
<path d="M147 449 L146 450 L145 451 L143 451 L143 451" stroke-width="0.9"/>
<path d="M167 447 L167 447 L167 447 L167 449 L167 450 L167 452 L167 453 L167 453" stroke-width="0.8"/>
<path d="M167 453 L165 455" stroke-width="1"/>
<path d="M165 455 L164 456 L163 457 L163 459 L163 459" stroke-width="1.1"/>
<path d="M163 459 L162 460 L161 461 L159 461 L158 461 L157 461 L157 461" stroke-width="1.2"/>
<path d="M157 461 L155 463" stroke-width="1.3"/>
<path d="M155 463 L154 462 L153 461 L151 460 L150 460 L148 462 L147 463 L147 463" stroke-width="1.4"/>
<path d="M147 463 L146 463 L145 463 L143 461 L142 461 L140 460 L139 459 L139 459" stroke-width="1.5"/>
<path d="M139 459 L138 459 L137 459 L135 458 L134 458 L132 458 L131 457 L129 457 L129 457" stroke-width="1.6"/>
<path d="M225 447 L225 447 L225 447 L223 445 L222 445 L220 445 L219 445 L219 445" stroke-width="0.9"/>
<path d="M219 445 L217 443" stroke-width="1"/>
<path d="M217 443 L218 442 L218 441 L217 439 L217 439" stroke-width="1.1"/>
<path d="M217 439 L217 438 L217 437 L216 435 L216 434 L217 432 L217 431 L217 431" stroke-width="1.2"/>
<path d="M217 431 L218 430 L219 429 L219 427 L220 426 L221 425 L221 425" stroke-width="1.3"/>
<path d="M275 447 L275 447 L275 447 L277 445 L277 445" stroke-width="0.8"/>
<path d="M277 445 L278 444 L279 443 L281 441 L281 441" stroke-width="0.9"/>
<path d="M195 449 L195 449 L195 449 L195 451 L195 452 L195 453 L195 453" stroke-width="0.8"/>
<path d="M195 453 L194 454 L193 455 L191 455 L190 456 L189 457 L189 457" stroke-width="1.2"/>
<path d="M189 457 L188 457 L187 457 L185 459 L185 459" stroke-width="1.3"/>
<path d="M185 459 L186 460 L186 461 L186 463 L186 464 L186 466 L185 467 L185 469 L186 469 L188 470 L189 471 L189 471" stroke-width="1.4"/>
<path d="M189 471 L188 472 L187 473 L185 475 L185 475" stroke-width="1.5"/>
<path d="M185 475 L184 475 L183 475 L181 475 L180 476 L178 477 L177 477 L175 479 L174 479 L173 479 L173 479" stroke-width="1.6"/>
<path d="M173 479 L172 479 L171 479 L169 479 L169 479" stroke-width="1.7"/>
<path d="M169 479 L168 480 L167 481 L167 483 L167 484 L166 486 L165 487 L163 487 L162 488 L161 489 L161 489" stroke-width="1.8"/>
<path d="M161 489 L161 490 L161 491 L163 493 L164 494 L166 495 L167 495 L169 495 L169 495" stroke-width="1.9"/>
<path d="M169 495 L169 496 L169 497 L169 499 L169 500 L169 501 L169 501" stroke-width="2"/>
<path d="M237 449 L237 449 L237 449 L239 449 L240 449 L241 449 L241 449" stroke-width="0.8"/>
<path d="M241 449 L242 449 L243 449 L245 449 L246 449 L247 449 L247 449" stroke-width="0.9"/>
<path d="M247 449 L248 448 L249 447 L251 445 L251 445" stroke-width="1"/>
<path d="M251 445 L252 444 L253 443 L255 443 L256 442 L258 440 L259 439 L261 437 L261 437" stroke-width="1.1"/>
<path d="M261 437 L261 436 L261 435 L259 433 L259 433" stroke-width="1.7"/>
<path d="M165 451 L165 451 L165 451 L165 453 L165 454 L165 455 L165 455" stroke-width="0.8"/>
<path d="M279 451 L279 451 L279 451 L281 449 L282 449 L284 449 L285 449 L285 449" stroke-width="0.8"/>
<path d="M283 451 L283 451 L283 451 L285 449 L285 449" stroke-width="0.8"/>
<path d="M151 453 L151 453 L151 453 L149 455 L149 455" stroke-width="0.8"/>
<path d="M149 455 L148 456 L147 457 L145 457 L144 457 L143 457 L143 457" stroke-width="0.9"/>
<path d="M143 457 L141 459" stroke-width="1"/>
<path d="M141 459 L139 459" stroke-width="1.1"/>
<path d="M187 453 L187 453 L187 453 L187 455 L187 455" stroke-width="0.8"/>
<path d="M187 455 L187 457" stroke-width="0.9"/>
<path d="M203 453 L203 453 L203 453 L201 453 L200 453 L199 453 L199 453" stroke-width="0.9"/>
<path d="M199 453 L197 455" stroke-width="1"/>
<path d="M197 455 L195 453" stroke-width="1.1"/>
<path d="M211 455 L211 455 L211 455 L209 457 L209 457" stroke-width="0.8"/>
<path d="M209 457 L208 458 L207 459 L207 461 L207 462 L207 464 L207 465 L207 467 L207 467" stroke-width="0.9"/>
<path d="M207 467 L205 469" stroke-width="1.1"/>
<path d="M205 469 L206 470 L206 471 L205 473 L205 473" stroke-width="1.2"/>
<path d="M205 473 L204 474 L204 475 L205 477 L205 477" stroke-width="1.3"/>
<path d="M205 477 L205 478 L205 479 L204 481 L204 482 L205 484 L205 485 L205 487 L206 488 L207 489 L207 489" stroke-width="1.7"/>
<path d="M207 489 L207 490 L207 491 L207 493 L206 494 L205 496 L205 497 L203 499 L203 500 L203 502 L203 503 L201 505 L201 505" stroke-width="1.8"/>
<path d="M201 505 L201 506 L201 507 L199 509 L199 509" stroke-width="1.9"/>
<path d="M215 455 L215 455 L215 455 L215 457 L215 457" stroke-width="0.8"/>
<path d="M215 457 L216 458 L217 459 L219 461 L219 461" stroke-width="0.9"/>
<path d="M219 461 L218 462 L217 463 L217 465 L217 465" stroke-width="1.1"/>
<path d="M217 465 L216 466 L215 467 L213 469 L213 469" stroke-width="1.2"/>
<path d="M213 469 L211 471" stroke-width="1.5"/>
<path d="M211 471 L210 472 L209 473 L207 475 L206 476 L205 477 L205 477" stroke-width="1.6"/>
<path d="M241 455 L241 455 L241 455 L243 453 L243 453" stroke-width="0.8"/>
<path d="M243 453 L244 453 L245 453 L247 453 L248 453 L249 453 L249 453" stroke-width="0.9"/>
<path d="M249 453 L251 453" stroke-width="1"/>
<path d="M251 453 L252 452 L253 451 L255 449 L255 448 L256 446 L257 445 L257 445" stroke-width="1.2"/>
<path d="M257 445 L258 444 L259 443 L261 441 L261 440 L261 438 L261 437 L261 437" stroke-width="1.7"/>
<path d="M157 457 L157 457 L157 457 L157 459 L157 459" stroke-width="0.8"/>
<path d="M157 459 L157 461" stroke-width="1"/>
<path d="M161 457 L161 457 L161 457 L159 459 L159 459" stroke-width="0.8"/>
<path d="M159 459 L157 459" stroke-width="0.9"/>
<path d="M241 457 L241 457 L241 457 L243 457 L244 457 L246 457 L247 457 L247 457" stroke-width="0.8"/>
<path d="M247 457 L248 456 L249 455 L251 453 L251 453" stroke-width="0.9"/>
<path d="M315 457 L315 457 L315 457 L315 455 L315 455" stroke-width="0.8"/>
<path d="M173 459 L173 459 L173 459 L171 461 L171 461" stroke-width="0.8"/>
<path d="M171 461 L170 462 L169 463 L167 463 L166 464 L165 465 L165 465" stroke-width="0.9"/>
<path d="M165 465 L164 466 L163 467 L163 469 L163 470 L164 472 L165 473 L165 473" stroke-width="1"/>
<path d="M165 473 L166 473 L167 473 L169 475 L169 475" stroke-width="1.1"/>
<path d="M169 475 L169 476 L169 477 L169 479 L169 479" stroke-width="1.4"/>
<path d="M177 459 L177 459 L177 459 L175 461 L175 462 L175 463 L175 463" stroke-width="0.9"/>
<path d="M175 463 L175 465" stroke-width="1"/>
<path d="M175 465 L174 466 L173 467 L173 469 L172 470 L171 472 L171 473 L171 473" stroke-width="1.1"/>
<path d="M171 473 L169 475" stroke-width="1.3"/>
<path d="M133 461 L133 461 L133 461 L133 459 L133 459" stroke-width="0.8"/>
<path d="M163 461 L163 461 L163 461 L161 463 L161 463" stroke-width="0.8"/>
<path d="M161 463 L160 464 L159 464 L157 463 L156 463 L155 463 L155 463" stroke-width="0.9"/>
<path d="M199 461 L199 461 L199 461 L197 463 L196 464 L195 465 L195 465" stroke-width="0.8"/>
<path d="M195 465 L193 465" stroke-width="0.9"/>
<path d="M193 465 L191 467" stroke-width="1"/>
<path d="M191 467 L190 468 L189 469 L189 471 L189 471" stroke-width="1.1"/>
<path d="M235 461 L235 461 L235 461 L237 461 L238 461 L239 461 L239 461" stroke-width="0.8"/>
<path d="M239 461 L240 461 L241 461 L243 461 L243 461" stroke-width="0.9"/>
<path d="M243 461 L245 463" stroke-width="1"/>
<path d="M245 463 L247 463" stroke-width="1.1"/>
<path d="M247 463 L248 463 L249 463 L251 465 L251 465" stroke-width="1.2"/>
<path d="M251 465 L252 464 L253 463 L255 463 L256 462 L258 460 L258 459 L258 457 L258 456 L259 454 L259 453 L259 451 L259 451" stroke-width="1.5"/>
<path d="M259 451 L260 450 L260 449 L259 447 L258 446 L257 445 L257 445" stroke-width="1.6"/>
<path d="M265 461 L265 461 L265 461 L265 463 L266 463 L267 463 L267 463" stroke-width="0.8"/>
<path d="M267 463 L268 462 L269 461 L271 461 L272 461 L273 461 L273 461" stroke-width="1.4"/>
<path d="M273 461 L273 460 L273 459 L275 458 L276 458 L278 458 L279 457 L281 457 L282 457 L284 457 L285 457 L287 457 L287 457" stroke-width="1.5"/>
<path d="M287 457 L288 456 L289 455 L291 453 L291 452 L291 451 L291 451" stroke-width="1.6"/>
<path d="M327 461 L327 461 L327 461 L327 459 L327 459" stroke-width="0.8"/>
<path d="M327 459 L327 457" stroke-width="1.2"/>
<path d="M567 461 L567 461 L567 461 L569 459 L570 459 L572 459 L573 459 L575 457 L576 457 L578 457 L579 457 L581 457 L582 456 L583 454 L583 453 L585 451 L586 450 L588 448 L589 447 L591 445 L591 444 L591 442 L591 441 L593 439 L593 438 L594 436 L595 435 L597 433 L598 432 L599 430 L599 429 L599 427 L600 426 L601 424 L601 423 L603 421 L603 420 L604 418 L605 417 L605 415 L605 414 L605 412 L605 411 L603 409 L603 409" stroke-width="2"/>
<path d="M285 463 L285 463 L285 463 L287 463 L288 463 L289 463 L289 463" stroke-width="0.8"/>
<path d="M289 463 L291 463" stroke-width="0.9"/>
<path d="M291 463 L293 463" stroke-width="1"/>
<path d="M293 463 L294 462 L295 461 L297 461 L298 460 L300 459 L301 459 L303 457 L304 457 L305 457 L305 457" stroke-width="1.3"/>
<path d="M305 457 L306 456 L307 455 L307 453 L307 453" stroke-width="2"/>
<path d="M317 463 L317 463 L317 463 L315 463 L314 463 L312 463 L311 463 L311 463" stroke-width="0.8"/>
<path d="M311 463 L310 463 L309 463 L307 465 L307 465" stroke-width="0.9"/>
<path d="M307 465 L306 464 L305 463 L303 461 L303 460 L304 458 L305 457 L305 457" stroke-width="2"/>
<path d="M209 465 L209 465 L209 465 L207 467 L207 467" stroke-width="0.8"/>
<path d="M243 465 L243 465 L243 465 L245 463 L245 463" stroke-width="0.9"/>
<path d="M247 465 L247 465 L247 465 L249 465 L250 465 L251 465 L251 465" stroke-width="0.8"/>
<path d="M267 465 L267 465 L267 465 L267 463 L267 463" stroke-width="0.8"/>
<path d="M271 465 L271 465 L271 465 L273 463 L273 463" stroke-width="0.8"/>
<path d="M273 463 L273 461" stroke-width="0.9"/>
<path d="M299 465 L299 465 L299 465 L301 463 L301 463" stroke-width="0.8"/>
<path d="M301 463 L303 461" stroke-width="0.9"/>
<path d="M303 465 L303 465 L303 465 L305 463 L305 463" stroke-width="0.8"/>
<path d="M129 467 L129 467 L129 467 L127 465 L127 465" stroke-width="0.8"/>
<path d="M127 465 L127 464 L127 463 L127 461 L127 460 L126 458 L125 457 L125 457" stroke-width="1.4"/>
<path d="M205 467 L205 467 L205 467 L205 469 L205 469" stroke-width="0.8"/>
<path d="M209 467 L209 467 L209 467 L207 467 L207 467" stroke-width="0.8"/>
<path d="M261 467 L261 467 L261 467 L263 465 L263 465" stroke-width="0.8"/>
<path d="M263 465 L264 465 L265 465 L267 463 L267 463" stroke-width="1.3"/>
<path d="M317 467 L317 467 L317 467 L315 465 L315 465" stroke-width="0.8"/>
<path d="M315 465 L314 465 L313 465 L311 465 L311 465" stroke-width="0.9"/>
<path d="M311 465 L310 465 L309 465 L307 465 L307 465" stroke-width="2"/>
<path d="M117 469 L117 469 L117 469 L117 467 L117 467" stroke-width="0.8"/>
<path d="M117 467 L115 465" stroke-width="0.9"/>
<path d="M177 469 L177 469 L177 469 L175 471 L174 472 L172 473 L171 473 L171 473" stroke-width="0.8"/>
<path d="M247 469 L247 469 L247 469 L249 467 L249 467" stroke-width="0.9"/>
<path d="M249 467 L251 465" stroke-width="1"/>
<path d="M141 471 L141 471 L141 471 L139 471 L139 471" stroke-width="0.8"/>
<path d="M139 471 L138 470 L137 469 L135 467 L134 466 L132 464 L131 463 L129 461 L129 461" stroke-width="1.1"/>
<path d="M129 461 L129 460 L129 459 L127 457 L127 456 L127 455 L127 455" stroke-width="1.2"/>
<path d="M147 471 L147 471 L147 471 L145 471 L144 470 L143 469 L143 469" stroke-width="0.8"/>
<path d="M143 469 L142 469 L141 469 L139 471 L139 471" stroke-width="0.9"/>
<path d="M169 471 L169 471 L169 471 L171 473 L171 473" stroke-width="0.8"/>
<path d="M253 471 L253 471 L253 471 L255 469 L256 468 L258 466 L259 465 L259 465" stroke-width="0.8"/>
<path d="M259 465 L260 464 L261 464 L263 465 L263 465" stroke-width="1"/>
<path d="M285 471 L285 471 L285 471 L287 471 L288 471 L290 470 L291 469 L291 469" stroke-width="0.9"/>
<path d="M291 469 L291 467" stroke-width="1"/>
<path d="M291 467 L292 466 L293 465 L293 463 L293 463" stroke-width="1.1"/>
<path d="M329 471 L329 471 L329 471 L327 469 L327 469" stroke-width="0.8"/>
<path d="M327 469 L328 468 L329 467 L331 465 L331 465" stroke-width="0.9"/>
<path d="M331 465 L331 464 L331 463 L329 461 L329 461" stroke-width="1"/>
<path d="M329 461 L327 459" stroke-width="1.1"/>
<path d="M129 473 L129 473 L129 473 L129 471 L129 471" stroke-width="0.8"/>
<path d="M129 471 L128 470 L127 469 L127 467 L127 466 L127 465 L127 465" stroke-width="1.3"/>
<path d="M177 473 L177 473 L177 473 L175 475 L175 475" stroke-width="0.8"/>
<path d="M175 475 L173 477" stroke-width="0.9"/>
<path d="M173 477 L172 477 L171 477 L169 479 L169 479" stroke-width="1"/>
<path d="M317 473 L317 473 L317 473 L315 473 L314 472 L312 470 L311 469 L311 469" stroke-width="0.8"/>
<path d="M311 469 L311 467" stroke-width="1.7"/>
<path d="M311 467 L311 465" stroke-width="2"/>
<path d="M201 475 L201 475 L201 475 L201 477 L201 478 L201 479 L201 479" stroke-width="0.8"/>
<path d="M201 479 L203 481" stroke-width="1"/>
<path d="M293 475 L293 475 L293 475 L295 475 L295 475" stroke-width="0.9"/>
<path d="M295 475 L296 474 L297 473 L299 473 L300 473 L301 473 L301 473" stroke-width="1.7"/>
<path d="M301 473 L302 473 L303 473 L305 471 L306 471 L308 470 L309 469 L311 467 L311 467" stroke-width="1.8"/>
<path d="M299 475 L299 475 L299 475 L301 473 L301 473" stroke-width="0.8"/>
<path d="M385 475 L385 475 L385 475 L387 473 L387 472 L387 471 L387 471" stroke-width="2"/>
<path d="M95 477 L95 477 L95 477 L95 475 L95 475" stroke-width="0.8"/>
<path d="M113 477 L113 477 L113 477 L113 475 L113 475" stroke-width="0.8"/>
<path d="M113 475 L111 473" stroke-width="1"/>
<path d="M111 473 L111 471" stroke-width="1.2"/>
<path d="M111 471 L110 470 L109 469 L109 467 L109 467" stroke-width="1.3"/>
<path d="M131 477 L131 477 L131 477 L133 475 L133 475" stroke-width="0.9"/>
<path d="M133 475 L132 474 L131 473 L129 471 L129 471" stroke-width="1.2"/>
<path d="M135 477 L135 477 L135 477 L133 475 L133 475" stroke-width="1"/>
<path d="M147 477 L147 477 L147 477 L149 479 L149 479" stroke-width="0.8"/>
<path d="M149 479 L150 480 L151 481 L153 481 L153 481" stroke-width="0.9"/>
<path d="M153 481 L154 482 L155 483 L157 485 L158 486 L159 487 L159 487" stroke-width="1.1"/>
<path d="M159 487 L159 489" stroke-width="1.2"/>
<path d="M159 489 L161 491" stroke-width="1.4"/>
<path d="M153 477 L153 477 L153 477 L153 479 L153 480 L153 481 L153 481" stroke-width="0.8"/>
<path d="M165 477 L165 477 L165 477 L167 479 L167 479" stroke-width="0.8"/>
<path d="M167 479 L167 481" stroke-width="0.9"/>
<path d="M193 477 L193 477 L193 477 L193 479 L192 480 L191 481 L191 481" stroke-width="0.8"/>
<path d="M191 481 L190 480 L189 479 L187 479 L186 478 L185 477 L185 477" stroke-width="1"/>
<path d="M185 477 L183 475" stroke-width="1.1"/>
<path d="M207 477 L207 477 L207 477 L205 477 L205 477" stroke-width="0.8"/>
<path d="M231 477 L231 477 L231 477 L231 475 L231 474 L231 473 L231 473" stroke-width="1"/>
<path d="M231 473 L231 472 L231 471 L231 469 L231 469" stroke-width="1.1"/>
<path d="M231 469 L230 468 L229 467 L227 467 L226 468 L225 469 L225 469" stroke-width="1.2"/>
<path d="M225 469 L224 468 L223 468 L221 469 L220 469 L219 469 L219 469" stroke-width="1.3"/>
<path d="M219 469 L218 468 L217 468 L215 469 L214 469 L213 469 L213 469" stroke-width="1.4"/>
<path d="M275 477 L275 477 L275 477 L277 479 L277 479" stroke-width="0.8"/>
<path d="M277 479 L278 480 L279 481 L281 483 L282 484 L283 485 L283 485" stroke-width="0.9"/>
<path d="M283 485 L285 483" stroke-width="1.1"/>
<path d="M285 483 L286 482 L287 481 L289 481 L290 481 L291 481 L291 481" stroke-width="1.2"/>
<path d="M291 481 L292 480 L293 479 L295 477 L295 476 L295 475 L295 475" stroke-width="1.7"/>
<path d="M281 477 L281 477 L281 477 L283 479 L284 480 L286 481 L287 481 L287 481" stroke-width="0.8"/>
<path d="M321 477 L321 477 L321 477 L319 477 L319 477" stroke-width="0.8"/>
<path d="M319 477 L318 477 L317 477 L315 479 L315 479" stroke-width="0.9"/>
<path d="M315 479 L313 477" stroke-width="1.4"/>
<path d="M313 477 L313 476 L313 475 L311 473 L311 472 L311 470 L311 469 L311 469" stroke-width="1.7"/>
<path d="M161 479 L161 479 L161 479 L163 481 L163 482 L163 483 L163 483" stroke-width="0.8"/>
<path d="M163 483 L163 484 L163 485 L161 487 L161 488 L161 489 L161 489" stroke-width="0.9"/>
<path d="M179 479 L179 479 L179 479 L177 481 L177 481" stroke-width="0.8"/>
<path d="M177 481 L176 481 L175 481 L173 479 L173 479" stroke-width="1"/>
<path d="M271 479 L271 479 L271 479 L273 479 L274 480 L276 482 L277 483 L277 483" stroke-width="0.8"/>
<path d="M277 483 L278 483 L279 483 L281 485 L281 485" stroke-width="0.9"/>
<path d="M281 485 L283 485" stroke-width="1"/>
<path d="M113 481 L113 481 L113 481 L111 479 L111 479" stroke-width="0.9"/>
<path d="M111 479 L111 478 L111 477 L111 475 L111 474 L111 473 L111 473" stroke-width="1"/>
<path d="M197 481 L197 481 L197 481 L199 481 L200 480 L201 479 L201 479" stroke-width="0.9"/>
<path d="M255 481 L255 481 L255 481 L257 479 L258 478 L259 477 L259 477" stroke-width="0.8"/>
<path d="M259 477 L260 477 L261 477 L263 475 L263 474 L263 473 L263 473" stroke-width="0.9"/>
<path d="M263 473 L263 472 L263 471 L263 469 L263 469" stroke-width="1"/>
<path d="M263 469 L263 468 L263 467 L263 465 L263 465" stroke-width="1.1"/>
<path d="M309 481 L309 481 L309 481 L311 481 L311 481" stroke-width="0.8"/>
<path d="M311 481 L312 480 L313 479 L313 477 L313 477" stroke-width="1.5"/>
<path d="M317 481 L317 481 L317 481 L315 479 L315 479" stroke-width="0.8"/>
<path d="M457 481 L457 481 L457 481 L459 479 L459 478 L458 476 L457 475 L457 473 L457 472 L456 470 L456 469 L457 467 L457 466 L457 464 L457 463 L457 461 L456 460 L456 458 L457 457 L459 455 L460 454 L460 452 L459 451 L457 449 L457 449" stroke-width="2"/>
<path d="M179 483 L179 483 L179 483 L177 481 L177 481" stroke-width="0.8"/>
<path d="M213 483 L213 483 L213 483 L211 483 L211 483" stroke-width="0.8"/>
<path d="M211 483 L211 484 L211 485 L211 487 L211 487" stroke-width="0.9"/>
<path d="M211 487 L210 488 L209 489 L207 489 L207 489" stroke-width="1.1"/>
<path d="M243 483 L243 483 L243 483 L243 481 L243 481" stroke-width="0.9"/>
<path d="M243 481 L244 480 L245 479 L247 477 L247 476 L247 475 L247 475" stroke-width="1"/>
<path d="M247 475 L248 474 L249 473 L249 471 L250 470 L251 468 L251 467 L251 465 L251 465" stroke-width="1.1"/>
<path d="M97 485 L97 485 L97 485 L95 483 L94 483 L92 482 L91 481 L91 481" stroke-width="0.8"/>
<path d="M91 481 L91 479" stroke-width="0.9"/>
<path d="M109 485 L109 485 L109 485 L109 483 L108 482 L107 481 L107 481" stroke-width="0.8"/>
<path d="M107 481 L105 481" stroke-width="0.9"/>
<path d="M105 481 L104 480 L103 479 L101 479 L100 478 L98 477 L97 477 L95 475 L95 475" stroke-width="1"/>
<path d="M175 485 L175 485 L175 485 L173 485 L172 486 L171 488 L171 489 L171 489" stroke-width="0.8"/>
<path d="M171 489 L171 491" stroke-width="0.9"/>
<path d="M171 491 L170 492 L169 493 L169 495 L169 495" stroke-width="1"/>
<path d="M215 485 L215 485 L215 485 L213 487 L212 487 L211 487 L211 487" stroke-width="0.9"/>
<path d="M257 485 L257 485 L257 485 L259 483 L260 483 L261 483 L261 483" stroke-width="0.8"/>
<path d="M261 483 L262 483 L263 483 L265 483 L266 483 L267 483 L267 483" stroke-width="0.9"/>
<path d="M267 483 L269 485" stroke-width="1"/>
<path d="M269 485 L270 485 L271 485 L273 487 L274 487 L275 487 L275 487" stroke-width="1.1"/>
<path d="M275 487 L276 487 L277 487 L279 487 L280 487 L282 487 L283 487 L285 489 L285 489" stroke-width="1.4"/>
<path d="M285 489 L286 488 L287 487 L289 485 L289 484 L290 482 L291 481 L291 481" stroke-width="1.6"/>
<path d="M295 485 L295 485 L295 485 L297 483 L297 483" stroke-width="0.8"/>
<path d="M297 483 L298 482 L299 481 L299 479 L300 478 L301 477 L301 477" stroke-width="0.9"/>
<path d="M301 477 L301 476 L301 475 L301 473 L301 473" stroke-width="1"/>
<path d="M309 485 L309 485 L309 485 L309 483 L309 483" stroke-width="0.8"/>
<path d="M309 483 L311 481" stroke-width="1.5"/>
<path d="M335 485 L335 485 L335 485 L337 485 L337 485" stroke-width="0.9"/>
<path d="M153 487 L153 487 L153 487 L155 489 L156 489 L157 489 L157 489" stroke-width="0.9"/>
<path d="M157 489 L159 489" stroke-width="1"/>
<path d="M217 487 L217 487 L217 487 L215 489 L214 489 L212 490 L211 491 L211 491" stroke-width="0.8"/>
<path d="M211 491 L210 492 L209 493 L207 493 L207 493" stroke-width="1.1"/>
<path d="M261 487 L261 487 L261 487 L263 487 L263 487" stroke-width="0.8"/>
<path d="M263 487 L264 487 L265 487 L267 487 L267 487" stroke-width="0.9"/>
<path d="M267 487 L268 487 L269 487 L271 487 L272 488 L273 489 L273 489" stroke-width="1"/>
<path d="M273 489 L275 487" stroke-width="1.2"/>
<path d="M341 487 L341 487 L341 487 L343 487 L343 487" stroke-width="1.1"/>
<path d="M343 487 L345 487" stroke-width="1.2"/>
<path d="M345 487 L346 487 L347 487 L349 487 L349 487" stroke-width="1.3"/>
<path d="M349 487 L350 487 L351 487 L353 487 L353 487" stroke-width="1.4"/>
<path d="M353 487 L354 487 L355 487 L357 487 L357 487" stroke-width="1.9"/>
<path d="M357 487 L358 486 L359 485 L361 483 L362 483 L363 482 L363 481 L363 479 L364 478 L366 476 L367 475 L369 475 L370 476 L372 477 L373 477 L375 475 L376 475 L378 476 L379 477 L381 479 L381 479" stroke-width="2"/>
<path d="M93 489 L93 489 L93 489 L91 491 L91 491" stroke-width="0.8"/>
<path d="M91 491 L89 491" stroke-width="1.1"/>
<path d="M135 489 L135 489 L135 489 L135 491 L135 491" stroke-width="0.8"/>
<path d="M135 491 L135 492 L135 493 L133 495 L133 495" stroke-width="0.9"/>
<path d="M133 495 L134 496 L135 497 L135 499 L135 500 L135 501 L135 501" stroke-width="1"/>
<path d="M135 501 L135 502 L135 503 L135 505 L135 506 L135 508 L135 509 L135 509" stroke-width="1.2"/>
<path d="M219 489 L219 489 L219 489 L217 489 L216 490 L214 491 L213 491 L211 491 L211 491" stroke-width="0.9"/>
<path d="M239 489 L239 489 L239 489 L241 491 L241 492 L241 493 L241 493" stroke-width="0.8"/>
<path d="M241 493 L242 494 L243 495 L245 497 L245 497" stroke-width="0.9"/>
<path d="M245 497 L243 499" stroke-width="1"/>
<path d="M243 499 L243 500 L243 501 L241 503 L241 503" stroke-width="1.1"/>
<path d="M241 503 L241 504 L241 505 L239 507 L238 508 L236 510 L235 511 L235 511" stroke-width="1.2"/>
<path d="M235 511 L236 512 L236 513 L235 515 L234 516 L232 518 L231 519 L229 521 L228 521 L226 522 L225 523 L225 523" stroke-width="1.3"/>
<path d="M225 523 L224 524 L223 525 L221 527 L221 527" stroke-width="1.4"/>
<path d="M271 489 L271 489 L271 489 L273 489 L273 489" stroke-width="0.9"/>
<path d="M495 489 L495 489 L495 489 L495 487 L494 486 L492 484 L491 483 L489 483 L488 484 L486 484 L485 483 L483 481 L482 480 L480 478 L479 477 L479 475 L478 474 L476 472 L475 471 L475 469 L474 468 L473 466 L473 465 L473 463 L472 462 L470 460 L469 459 L469 457 L468 456 L466 454 L465 453 L465 451 L464 450 L462 448 L461 447 L461 447" stroke-width="2"/>
<path d="M153 491 L153 491 L153 491 L155 491 L156 491 L157 491 L157 491" stroke-width="0.8"/>
<path d="M157 491 L159 489" stroke-width="0.9"/>
<path d="M271 491 L271 491 L271 491 L273 489 L273 489" stroke-width="0.8"/>
<path d="M295 491 L295 491 L295 491 L297 489 L297 489" stroke-width="0.8"/>
<path d="M297 489 L298 489 L299 489 L301 487 L301 486 L301 485 L301 485" stroke-width="0.9"/>
<path d="M301 485 L302 485 L303 485 L305 485 L306 485 L307 485 L307 485" stroke-width="1"/>
<path d="M307 485 L309 483" stroke-width="1.4"/>
<path d="M315 491 L315 491 L315 491 L313 491 L313 491" stroke-width="0.8"/>
<path d="M313 491 L313 490 L313 489 L313 487 L314 486 L315 485 L315 485" stroke-width="1.1"/>
<path d="M315 485 L314 484 L313 483 L313 481 L314 480 L315 479 L315 479" stroke-width="1.2"/>
<path d="M353 491 L353 491 L353 491 L355 489 L355 489" stroke-width="1.3"/>
<path d="M355 489 L357 487" stroke-width="1.4"/>
<path d="M145 493 L145 493 L145 493 L147 495 L147 495" stroke-width="0.8"/>
<path d="M147 495 L148 496 L149 497 L149 499 L149 499" stroke-width="0.9"/>
<path d="M149 499 L148 500 L147 501 L147 503 L147 503" stroke-width="1"/>
<path d="M147 503 L149 505" stroke-width="1.1"/>
<path d="M97 495 L97 495 L97 495 L95 493 L95 493" stroke-width="0.8"/>
<path d="M95 493 L94 492 L93 491 L91 491 L91 491" stroke-width="0.9"/>
<path d="M129 495 L129 495 L129 495 L129 497 L129 497" stroke-width="0.9"/>
<path d="M129 497 L130 498 L131 499 L133 501 L133 502 L133 503 L133 503" stroke-width="1"/>
<path d="M133 503 L133 505" stroke-width="1.1"/>
<path d="M133 505 L133 506 L133 507 L133 509 L133 509" stroke-width="1.2"/>
<path d="M139 495 L139 495 L139 495 L139 497 L138 498 L137 499 L137 499" stroke-width="0.8"/>
<path d="M137 499 L135 501" stroke-width="0.9"/>
<path d="M171 495 L171 495 L171 495 L169 495 L169 495" stroke-width="0.8"/>
<path d="M183 495 L183 495 L183 495 L183 497 L183 497" stroke-width="0.8"/>
<path d="M183 497 L185 499" stroke-width="0.9"/>
<path d="M185 499 L185 501" stroke-width="1"/>
<path d="M185 501 L185 503" stroke-width="1.1"/>
<path d="M197 495 L197 495 L197 495 L197 497 L198 498 L199 499 L199 499" stroke-width="0.8"/>
<path d="M199 499 L199 501" stroke-width="0.9"/>
<path d="M199 501 L199 503" stroke-width="1.1"/>
<path d="M199 503 L201 505" stroke-width="1.2"/>
<path d="M201 495 L201 495 L201 495 L201 497 L201 498 L201 499 L201 499" stroke-width="0.9"/>
<path d="M201 499 L199 501" stroke-width="1"/>
<path d="M217 495 L217 495 L217 495 L215 497 L214 498 L213 499 L213 499" stroke-width="0.8"/>
<path d="M213 499 L213 500 L213 501 L211 503 L210 504 L209 505 L209 505" stroke-width="0.9"/>
<path d="M209 505 L209 507" stroke-width="1"/>
<path d="M209 507 L208 508 L207 509 L205 509 L204 510 L202 511 L201 511 L201 511" stroke-width="1.1"/>
<path d="M223 495 L223 495 L223 495 L221 497 L220 498 L219 499 L219 499" stroke-width="0.8"/>
<path d="M219 499 L219 501" stroke-width="0.9"/>
<path d="M219 501 L218 502 L217 503 L215 505 L214 506 L213 507 L213 507" stroke-width="1.1"/>
<path d="M213 507 L212 508 L211 509 L209 511 L209 512 L209 513 L209 513" stroke-width="1.2"/>
<path d="M209 513 L209 514 L209 515 L207 517 L207 517" stroke-width="1.5"/>
<path d="M247 495 L247 495 L247 495 L247 497 L246 498 L245 500 L245 501 L245 501" stroke-width="0.8"/>
<path d="M245 501 L246 502 L247 503 L247 505 L247 505" stroke-width="1"/>
<path d="M247 505 L249 507" stroke-width="1.1"/>
<path d="M249 507 L250 508 L251 509 L251 511 L252 512 L253 514 L253 515 L253 515" stroke-width="1.2"/>
<path d="M253 515 L254 516 L255 517 L255 519 L255 520 L255 521 L255 521" stroke-width="1.3"/>
<path d="M255 521 L255 522 L255 523 L254 525 L254 526 L255 528 L255 529 L255 531 L255 531" stroke-width="1.7"/>
<path d="M255 531 L256 532 L257 533 L257 535 L256 536 L255 538 L255 539 L255 541 L255 542 L255 544 L255 545 L255 547 L255 548 L254 550 L253 551 L251 553 L251 553" stroke-width="1.8"/>
<path d="M277 495 L277 495 L277 495 L279 493 L279 493" stroke-width="0.8"/>
<path d="M279 493 L279 491" stroke-width="0.9"/>
<path d="M279 491 L280 491 L281 491 L283 491 L283 491" stroke-width="1"/>
<path d="M283 491 L285 489" stroke-width="1.3"/>
<path d="M315 495 L315 495 L315 495 L315 493 L315 493" stroke-width="0.8"/>
<path d="M315 493 L313 491" stroke-width="0.9"/>
<path d="M89 497 L89 497 L89 497 L87 495 L87 495" stroke-width="0.9"/>
<path d="M115 497 L115 497 L115 497 L113 499 L112 500 L111 501 L111 501" stroke-width="0.9"/>
<path d="M111 501 L111 502 L111 503 L111 505 L110 506 L109 507 L109 507" stroke-width="1"/>
<path d="M109 507 L109 509" stroke-width="1.1"/>
<path d="M125 497 L125 497 L125 497 L127 499 L127 500 L127 501 L127 501" stroke-width="0.8"/>
<path d="M127 501 L128 502 L129 503 L131 503 L131 503" stroke-width="0.9"/>
<path d="M131 503 L133 505" stroke-width="1"/>
<path d="M203 497 L203 497 L203 497 L201 499 L201 499" stroke-width="0.8"/>
<path d="M229 497 L229 497 L229 497 L227 499 L226 500 L224 501 L223 501 L223 501" stroke-width="0.8"/>
<path d="M223 501 L221 501" stroke-width="0.9"/>
<path d="M221 501 L219 501" stroke-width="1"/>
<path d="M249 497 L249 497 L249 497 L247 499 L246 500 L245 501 L245 501" stroke-width="0.8"/>
<path d="M283 497 L283 497 L283 497 L283 495 L283 495" stroke-width="0.8"/>
<path d="M283 495 L281 493" stroke-width="1"/>
<path d="M281 493 L283 491" stroke-width="1.1"/>
<path d="M285 497 L285 497 L285 497 L283 495 L283 495" stroke-width="0.8"/>
<path d="M299 497 L299 497 L299 497 L301 495 L301 494 L301 493 L301 493" stroke-width="0.8"/>
<path d="M301 493 L301 491" stroke-width="0.9"/>
<path d="M301 491 L302 490 L303 489 L305 489 L305 489" stroke-width="1"/>
<path d="M305 489 L305 488 L305 487 L307 485 L307 485" stroke-width="1.3"/>
<path d="M303 497 L303 497 L303 497 L305 495 L305 495" stroke-width="0.8"/>
<path d="M305 495 L305 493" stroke-width="1.1"/>
<path d="M305 493 L305 492 L305 491 L305 489 L305 489" stroke-width="1.2"/>
<path d="M325 497 L325 497 L325 497 L325 499 L325 500 L324 502 L323 503 L323 503" stroke-width="0.8"/>
<path d="M323 503 L323 504 L323 505 L323 507 L323 507" stroke-width="1"/>
<path d="M323 507 L325 509" stroke-width="1.2"/>
<path d="M325 509 L326 509 L327 509 L329 507 L329 507" stroke-width="1.3"/>
<path d="M329 507 L330 506 L331 505 L331 503 L331 503" stroke-width="1.7"/>
<path d="M331 503 L331 502 L331 501 L333 499 L334 499 L336 498 L337 497 L339 495 L340 494 L342 492 L343 491 L345 489 L346 489 L348 489 L349 489 L351 489 L352 488 L353 487 L353 487" stroke-width="1.8"/>
<path d="M103 499 L103 499 L103 499 L103 501 L103 502 L103 503 L103 503" stroke-width="0.8"/>
<path d="M103 503 L102 503 L101 503 L99 505 L99 506 L99 508 L99 509 L99 509" stroke-width="0.9"/>
<path d="M233 499 L233 499 L233 499 L231 501 L231 501" stroke-width="0.8"/>
<path d="M231 501 L231 502 L231 503 L231 505 L230 506 L229 507 L229 507" stroke-width="0.9"/>
<path d="M229 507 L228 507 L227 507 L225 509 L224 510 L222 511 L221 511 L219 513 L218 513 L217 513 L217 513" stroke-width="1"/>
<path d="M217 513 L216 513 L215 513 L213 513 L213 513" stroke-width="1.1"/>
<path d="M213 513 L212 513 L211 513 L209 513 L209 513" stroke-width="1.3"/>
<path d="M615 499 L615 499 L615 499 L617 497 L618 496 L619 494 L619 493 L619 491 L618 490 L616 489 L615 489 L613 487 L612 486 L611 484 L611 483 L613 481 L613 480 L614 478 L615 477 L617 477 L618 476 L620 474 L621 474 L623 474 L624 474 L625 472 L625 471 L625 469 L626 469 L627 468 L627 467 L627 465 L626 464 L626 462 L627 461 L627 459 L627 458 L626 456 L625 455 L623 453 L622 452 L620 450 L620 449 L620 447 L620 446 L620 444 L621 443 L621 441 L621 440 L620 438 L619 437 L619 435 L618 434 L616 432 L615 431 L613 429 L612 428 L610 427 L609 427 L607 425 L606 425 L605 424 L605 423 L603 421 L603 421" stroke-width="2"/>
<path d="M121 501 L121 501 L121 501 L121 503 L122 504 L123 505 L123 505" stroke-width="0.8"/>
<path d="M123 505 L124 506 L125 507 L127 509 L127 510 L127 511 L127 511" stroke-width="0.9"/>
<path d="M189 501 L189 501 L189 501 L187 503 L187 503" stroke-width="0.8"/>
<path d="M193 501 L193 501 L193 501 L191 503 L191 504 L191 505 L191 505" stroke-width="0.8"/>
<path d="M207 501 L207 501 L207 501 L205 503 L205 503" stroke-width="0.8"/>
<path d="M205 503 L204 504 L203 505 L201 507 L201 507" stroke-width="0.9"/>
<path d="M261 501 L261 501 L261 501 L263 503 L263 503" stroke-width="0.8"/>
<path d="M263 503 L264 504 L265 505 L265 507 L265 508 L265 509 L265 509" stroke-width="0.9"/>
<path d="M265 509 L265 510 L265 511 L263 513 L262 513 L261 513 L261 513" stroke-width="1"/>
<path d="M261 513 L259 515" stroke-width="1.4"/>
<path d="M259 515 L258 516 L257 517 L257 519 L256 520 L255 521 L255 521" stroke-width="1.5"/>
<path d="M145 503 L145 503 L145 503 L145 505 L145 506 L145 507 L145 507" stroke-width="0.8"/>
<path d="M317 503 L317 503 L317 503 L319 505 L320 505 L321 505 L321 505" stroke-width="0.8"/>
<path d="M321 505 L323 507" stroke-width="0.9"/>
<path d="M93 505 L93 505 L93 505 L93 507 L93 507" stroke-width="0.8"/>
<path d="M93 507 L93 509" stroke-width="0.9"/>
<path d="M223 505 L223 505 L223 505 L221 505 L220 505 L219 505 L219 505" stroke-width="0.8"/>
<path d="M219 505 L218 506 L217 507 L217 509 L217 509" stroke-width="0.9"/>
<path d="M217 509 L215 511" stroke-width="1"/>
<path d="M215 511 L213 513" stroke-width="1.1"/>
<path d="M251 505 L251 505 L251 505 L249 507 L249 507" stroke-width="0.8"/>
<path d="M117 507 L117 507 L117 507 L117 509 L117 509" stroke-width="0.8"/>
<path d="M117 509 L117 511" stroke-width="0.9"/>
<path d="M257 507 L257 507 L257 507 L257 509 L257 510 L257 511 L257 511" stroke-width="0.8"/>
<path d="M257 511 L259 513" stroke-width="1"/>
<path d="M259 513 L259 515" stroke-width="1.1"/>
<path d="M269 507 L269 507 L269 507 L269 509 L269 509" stroke-width="0.8"/>
<path d="M269 509 L267 511" stroke-width="0.9"/>
<path d="M267 511 L269 513" stroke-width="1"/>
<path d="M269 513 L267 515" stroke-width="1.2"/>
<path d="M267 515 L266 516 L265 516 L263 515 L262 514 L261 513 L261 513" stroke-width="1.3"/>
<path d="M303 507 L303 507 L303 507 L305 505 L305 505" stroke-width="0.8"/>
<path d="M305 505 L304 504 L304 503 L305 501 L305 501" stroke-width="0.9"/>
<path d="M305 501 L305 500 L305 499 L305 497 L305 496 L305 495 L305 495" stroke-width="1"/>
<path d="M315 507 L315 507 L315 507 L317 507 L318 507 L319 507 L319 507" stroke-width="0.8"/>
<path d="M319 507 L320 507 L321 507 L323 507 L323 507" stroke-width="0.9"/>
<path d="M229 509 L229 509 L229 509 L227 511 L226 511 L225 511 L225 511" stroke-width="0.8"/>
<path d="M225 511 L224 512 L223 513 L223 515 L222 516 L220 518 L219 519 L219 519" stroke-width="0.9"/>
<path d="M219 519 L218 520 L217 521 L215 523 L215 523" stroke-width="1"/>
<path d="M255 509 L255 509 L255 509 L257 511 L257 511" stroke-width="0.9"/>
<path d="M275 509 L275 509 L275 509 L275 511 L274 512 L273 513 L273 513" stroke-width="0.8"/>
<path d="M273 513 L272 513 L271 513 L269 513 L269 513" stroke-width="0.9"/>
<path d="M283 509 L283 509 L283 509 L285 511 L285 511" stroke-width="0.8"/>
<path d="M285 511 L287 513" stroke-width="0.9"/>
<path d="M287 513 L288 514 L289 515 L289 517 L289 517" stroke-width="1"/>
<path d="M289 517 L287 519" stroke-width="1.3"/>
<path d="M287 519 L286 519 L285 519 L283 521 L283 522 L284 524 L285 525 L285 525" stroke-width="1.4"/>
<path d="M285 525 L284 526 L284 527 L285 529 L286 530 L288 532 L289 533 L291 535 L291 536 L291 537 L291 537" stroke-width="1.5"/>
<path d="M291 537 L292 538 L292 539 L291 541 L291 542 L291 543 L291 543" stroke-width="1.6"/>
<path d="M291 543 L292 543 L293 543 L295 545 L296 545 L298 546 L299 547 L301 549 L301 550 L302 552 L303 553 L303 553" stroke-width="1.7"/>
<path d="M303 553 L303 554 L303 555 L305 557 L305 557" stroke-width="1.8"/>
<path d="M305 557 L304 558 L304 559 L305 561 L305 562 L305 564 L305 565 L307 567 L308 568 L309 569 L309 569" stroke-width="1.9"/>
<path d="M309 569 L309 570 L309 571 L307 573 L307 574 L307 576 L307 577 L307 579 L308 580 L308 582 L308 583 L309 585 L309 586 L309 588 L309 589 L307 591 L306 591 L304 591 L303 591 L301 591 L300 590 L298 590 L297 591 L295 591 L295 591" stroke-width="2"/>
<path d="M289 509 L289 509 L289 509 L291 511 L291 511" stroke-width="0.8"/>
<path d="M291 511 L291 512 L291 513 L293 515 L293 515" stroke-width="1"/>
<path d="M293 515 L292 516 L291 517 L289 517 L289 517" stroke-width="1.2"/>
<path d="M291 509 L291 509 L291 509 L291 511 L291 511" stroke-width="0.8"/>
<path d="M339 509 L339 509 L339 509 L337 509 L337 509" stroke-width="1"/>
<path d="M337 509 L336 508 L335 507 L333 505 L332 504 L331 503 L331 503" stroke-width="1.4"/>
<path d="M249 511 L249 511 L249 511 L251 513 L252 514 L253 515 L253 515" stroke-width="0.8"/>
<path d="M313 511 L313 511 L313 511 L315 513 L315 513" stroke-width="0.8"/>
<path d="M315 513 L317 513" stroke-width="1"/>
<path d="M317 513 L318 513 L319 513 L321 515 L321 515" stroke-width="1.1"/>
<path d="M321 515 L322 515 L323 515 L325 516 L326 516 L327 515 L327 515" stroke-width="1.2"/>
<path d="M327 515 L328 514 L329 513 L329 511 L330 510 L330 508 L329 507 L329 507" stroke-width="1.5"/>
<path d="M295 513 L295 513 L295 513 L293 515 L293 515" stroke-width="0.8"/>
<path d="M271 515 L271 515 L271 515 L269 513 L269 513" stroke-width="0.8"/>
<path d="M311 515 L311 515 L311 515 L313 513 L314 513 L315 513 L315 513" stroke-width="0.8"/>
<path d="M315 515 L315 515 L315 515 L317 513 L317 513" stroke-width="0.8"/>
<path d="M341 515 L341 515 L341 515 L339 515 L338 514 L337 512 L337 511 L337 511" stroke-width="1.1"/>
<path d="M337 511 L337 509" stroke-width="1.3"/>
<path d="M951 515 L951 515 L951 515 L953 513 L954 512 L956 510 L957 509 L959 507 L960 506 L962 504 L963 503 L963 501 L964 500 L966 500 L967 501 L969 503 L970 504 L972 504 L973 503 L975 503 L976 502 L978 501 L979 501 L981 499 L982 499 L984 499 L985 499 L987 499 L988 498 L990 496 L991 495 L993 495 L994 495 L996 494 L997 493 L997 493" stroke-width="2"/>
<path d="M251 517 L251 517 L251 517 L251 519 L252 520 L254 522 L255 523 L255 523" stroke-width="0.9"/>
<path d="M283 517 L283 517 L283 517 L285 519 L285 519" stroke-width="0.8"/>
<path d="M337 517 L337 517 L337 517 L335 515 L335 514 L335 513 L335 513" stroke-width="1"/>
<path d="M335 513 L337 511" stroke-width="1.1"/>
<path d="M225 519 L225 519 L225 519 L223 521 L223 521" stroke-width="0.8"/>
<path d="M223 521 L222 522 L221 523 L221 525 L221 525" stroke-width="0.9"/>
<path d="M221 525 L221 527" stroke-width="1"/>
<path d="M243 521 L243 521 L243 521 L245 523 L246 523 L247 523 L247 523" stroke-width="0.8"/>
<path d="M247 523 L248 524 L249 525 L251 527 L252 527 L253 528 L253 529 L253 529" stroke-width="0.9"/>
<path d="M253 529 L255 531" stroke-width="1.1"/>
<path d="M325 521 L325 521 L325 521 L325 519 L325 519" stroke-width="0.8"/>
<path d="M325 519 L326 518 L327 517 L327 515 L327 515" stroke-width="0.9"/>
<path d="M375 521 L375 521 L375 521 L373 519 L372 518 L370 516 L370 515 L371 513 L371 512 L372 510 L373 509 L373 509" stroke-width="1.9"/>
<path d="M373 509 L373 508 L373 507 L373 505 L374 504 L375 502 L375 501 L375 499 L375 498 L374 496 L373 495 L373 493 L373 492 L374 490 L375 489 L375 487 L376 486 L378 485 L379 485 L381 485 L382 484 L383 482 L383 481 L383 479 L383 479" stroke-width="2"/>
<path d="M235 523 L235 523 L235 523 L235 525 L235 526 L235 527 L235 527" stroke-width="0.9"/>
<path d="M235 527 L234 528 L233 529 L231 531 L230 532 L229 533 L229 533" stroke-width="1"/>
<path d="M259 523 L259 523 L259 523 L257 525 L256 525 L255 526 L255 527 L255 527" stroke-width="0.8"/>
<path d="M309 523 L309 523 L309 523 L311 525 L312 525 L313 525 L313 525" stroke-width="0.8"/>
<path d="M313 525 L313 527" stroke-width="0.9"/>
<path d="M313 527 L314 528 L315 529 L317 529 L317 529" stroke-width="1"/>
<path d="M317 529 L317 530 L317 531 L317 533 L317 533" stroke-width="1.1"/>
<path d="M317 533 L318 534 L319 535 L319 537 L320 538 L320 540 L319 541 L317 543 L317 543" stroke-width="1.2"/>
<path d="M317 543 L316 544 L315 545 L315 547 L316 548 L317 550 L317 551 L315 553 L315 553" stroke-width="1.3"/>
<path d="M315 553 L315 554 L315 555 L315 557 L315 558 L315 559 L315 559" stroke-width="1.4"/>
<path d="M315 559 L314 559 L313 559 L311 561 L311 562 L311 564 L311 565 L311 567 L311 567" stroke-width="1.7"/>
<path d="M311 567 L309 569" stroke-width="1.9"/>
<path d="M333 523 L333 523 L333 523 L331 521 L331 520 L331 519 L331 519" stroke-width="0.9"/>
<path d="M331 519 L329 519" stroke-width="1"/>
<path d="M329 519 L329 518 L329 517 L327 515 L327 515" stroke-width="1.3"/>
<path d="M259 525 L259 525 L259 525 L257 527 L257 527" stroke-width="0.8"/>
<path d="M257 527 L255 527" stroke-width="0.9"/>
<path d="M279 525 L279 525 L279 525 L281 525 L282 526 L283 527 L283 527" stroke-width="0.8"/>
<path d="M287 525 L287 525 L287 525 L285 525 L285 525" stroke-width="0.8"/>
<path d="M301 525 L301 525 L301 525 L303 527 L303 527" stroke-width="0.8"/>
<path d="M303 527 L305 529" stroke-width="0.9"/>
<path d="M305 529 L303 531" stroke-width="1"/>
<path d="M303 531 L303 532 L303 533 L303 535 L303 535" stroke-width="1.1"/>
<path d="M303 535 L303 536 L303 537 L303 539 L303 540 L303 542 L303 543 L303 545 L303 546 L303 547 L303 547" stroke-width="1.2"/>
<path d="M303 547 L303 548 L303 549 L304 551 L304 552 L303 553 L303 553" stroke-width="1.3"/>
<path d="M331 525 L331 525 L331 525 L329 525 L329 525" stroke-width="0.8"/>
<path d="M329 525 L327 523" stroke-width="0.9"/>
<path d="M327 523 L327 522 L327 521 L329 519 L329 519" stroke-width="1.1"/>
<path d="M901 525 L901 525 L901 525 L903 525 L904 525 L906 525 L907 525 L909 524 L910 524 L912 524 L913 523 L913 523" stroke-width="1.9"/>
<path d="M247 527 L247 527 L247 527 L249 529 L250 529 L252 529 L253 529 L253 529" stroke-width="0.8"/>
<path d="M275 527 L275 527 L275 527 L277 529 L277 529" stroke-width="0.8"/>
<path d="M277 529 L279 531" stroke-width="0.9"/>
<path d="M279 531 L280 532 L281 533 L283 535 L284 536 L285 537 L285 537" stroke-width="1"/>
<path d="M285 537 L287 539" stroke-width="1.1"/>
<path d="M287 539 L288 540 L289 541 L291 543 L291 543" stroke-width="1.2"/>
<path d="M327 527 L327 527 L327 527 L327 525 L327 524 L327 523 L327 523" stroke-width="0.9"/>
<path d="M297 529 L297 529 L297 529 L299 531 L299 531" stroke-width="0.8"/>
<path d="M299 531 L298 532 L297 533 L295 533 L295 533" stroke-width="0.9"/>
<path d="M295 533 L293 535" stroke-width="1"/>
<path d="M293 535 L291 537" stroke-width="1.1"/>
<path d="M885 529 L885 529 L885 529 L887 527 L888 527 L889 527 L889 527" stroke-width="1.8"/>
<path d="M267 531 L267 531 L267 531 L267 533 L267 533" stroke-width="0.8"/>
<path d="M267 533 L265 535" stroke-width="1"/>
<path d="M265 535 L266 536 L267 537 L267 539 L266 540 L265 541 L265 541" stroke-width="1.1"/>
<path d="M265 541 L265 542 L265 543 L267 545 L267 545" stroke-width="1.2"/>
<path d="M267 545 L266 546 L265 547 L263 549 L263 550 L263 551 L263 551" stroke-width="1.3"/>
<path d="M263 551 L261 553" stroke-width="1.4"/>
<path d="M261 553 L260 554 L259 555 L257 557 L257 557" stroke-width="1.5"/>
<path d="M233 533 L233 533 L233 533 L231 535 L231 535" stroke-width="0.8"/>
<path d="M245 535 L245 535 L245 535 L247 537 L248 538 L249 539 L249 539" stroke-width="0.8"/>
<path d="M249 539 L249 540 L249 541 L249 543 L249 543" stroke-width="1"/>
<path d="M249 543 L250 544 L251 545 L253 547 L254 548 L255 549 L255 549" stroke-width="1.1"/>
<path d="M237 537 L237 537 L237 537 L237 539 L237 539" stroke-width="0.8"/>
<path d="M251 537 L251 537 L251 537 L249 539 L249 539" stroke-width="0.8"/>
<path d="M261 537 L261 537 L261 537 L263 539 L264 540 L265 541 L265 541" stroke-width="0.8"/>
<path d="M289 537 L289 537 L289 537 L291 537 L291 537" stroke-width="0.8"/>
<path d="M323 537 L323 537 L323 537 L323 539 L324 540 L325 541 L325 541" stroke-width="0.8"/>
<path d="M325 541 L325 543" stroke-width="0.9"/>
<path d="M325 543 L325 544 L325 545 L323 547 L323 548 L323 549 L323 549" stroke-width="1"/>
<path d="M323 549 L321 551" stroke-width="1.1"/>
<path d="M321 551 L320 552 L319 553 L319 555 L319 555" stroke-width="1.2"/>
<path d="M319 555 L319 556 L319 557 L317 559 L316 559 L315 559 L315 559" stroke-width="1.5"/>
<path d="M285 541 L285 541 L285 541 L287 539 L287 539" stroke-width="0.8"/>
<path d="M317 541 L317 541 L317 541 L317 543 L317 543" stroke-width="0.8"/>
<path d="M301 543 L301 543 L301 543 L301 545 L302 546 L303 547 L303 547" stroke-width="0.8"/>
<path d="M313 543 L313 543 L313 543 L313 545 L313 546 L312 548 L311 549 L311 549" stroke-width="0.8"/>
<path d="M311 549 L310 550 L309 551 L307 553 L307 553" stroke-width="1"/>
<path d="M307 553 L306 554 L305 555 L305 557 L305 557" stroke-width="1.1"/>
<path d="M331 543 L331 543 L331 543 L331 545 L330 546 L329 547 L329 547" stroke-width="0.8"/>
<path d="M329 547 L328 548 L327 549 L325 551 L324 552 L323 553 L323 553" stroke-width="1.1"/>
<path d="M323 553 L322 554 L321 555 L319 555 L319 555" stroke-width="1.3"/>
<path d="M333 543 L333 543 L333 543 L333 545 L333 545" stroke-width="0.9"/>
<path d="M333 545 L332 546 L331 547 L329 547 L329 547" stroke-width="1"/>
<path d="M831 543 L831 543 L831 543 L829 545 L829 545" stroke-width="1.5"/>
<path d="M829 545 L829 546 L829 547 L829 549 L828 550 L827 552 L827 553 L829 555 L829 556 L829 557 L829 557" stroke-width="1.6"/>
<path d="M829 557 L830 558 L831 559 L831 561 L830 562 L829 564 L829 565 L829 567 L829 568 L828 570 L827 571 L825 571 L824 572 L823 573 L823 573" stroke-width="1.7"/>
<path d="M823 573 L823 574 L823 575 L823 577 L822 578 L821 580 L821 581 L819 583 L819 584 L819 586 L819 587 L819 589 L818 590 L816 592 L815 593 L813 595 L812 595 L810 596 L809 597 L807 599 L807 600 L806 602 L805 603 L803 605 L802 606 L801 608 L801 609 L801 611 L801 612 L801 614 L801 615 L801 617 L800 618 L800 620 L800 621 L799 623 L799 624 L798 626 L797 627 L795 629 L795 630 L794 632 L793 633 L793 635 L792 636 L790 637 L789 637 L787 637 L786 638 L784 639 L783 639 L783 641 L783 642 L783 644 L783 645 L781 647 L781 648 L781 650 L781 651 L781 653 L780 654 L779 656 L779 657 L779 657" stroke-width="2"/>
<path d="M957 543 L957 543 L957 543 L959 541 L959 541" stroke-width="1.4"/>
<path d="M271 545 L271 545 L271 545 L269 547 L269 547" stroke-width="0.8"/>
<path d="M269 547 L268 548 L267 549 L265 551 L265 551" stroke-width="0.9"/>
<path d="M265 551 L263 551" stroke-width="1"/>
<path d="M279 545 L279 545 L279 545 L281 547 L282 547 L283 547 L283 547" stroke-width="0.8"/>
<path d="M283 547 L285 549" stroke-width="0.9"/>
<path d="M285 549 L285 550 L285 551 L283 553 L283 553" stroke-width="1"/>
<path d="M283 553 L283 554 L283 555 L283 557 L284 558 L285 559 L285 559" stroke-width="1.1"/>
<path d="M285 559 L285 560 L285 561 L283 561 L283 561" stroke-width="1.2"/>
<path d="M283 561 L283 563" stroke-width="1.3"/>
<path d="M283 563 L284 564 L285 565 L287 567 L288 568 L290 569 L291 569 L293 571 L294 572 L294 574 L293 575 L293 575" stroke-width="1.5"/>
<path d="M293 575 L293 576 L293 577 L295 579 L296 580 L298 582 L299 583 L299 585 L299 585" stroke-width="1.6"/>
<path d="M299 585 L299 586 L299 587 L299 589 L299 589" stroke-width="1.7"/>
<path d="M737 545 L737 545 L737 545 L739 547 L740 548 L742 550 L743 551 L743 551" stroke-width="1.3"/>
<path d="M743 551 L744 552 L745 553 L747 553 L747 553" stroke-width="1.4"/>
<path d="M747 553 L749 555" stroke-width="1.7"/>
<path d="M749 555 L750 555 L751 555 L753 557 L754 558 L756 560 L757 561 L757 563 L757 564 L757 566 L757 567 L759 567 L760 566 L761 565 L761 565" stroke-width="1.8"/>
<path d="M761 565 L762 566 L763 567 L765 569 L765 569" stroke-width="1.9"/>
<path d="M765 569 L766 570 L767 571 L769 573 L770 574 L772 575 L773 575 L775 577 L776 578 L778 580 L779 581 L781 581 L781 582 L781 584 L781 585 L781 587 L780 588 L779 590 L779 591 L781 593 L782 594 L783 596 L783 597 L783 599 L783 600 L783 602 L783 603 L781 605 L781 606 L781 608 L781 609 L779 611 L778 612 L777 614 L777 615 L777 617 L777 618 L776 620 L775 621 L775 623 L775 624 L775 626 L775 627 L773 629 L773 630 L774 632 L775 633 L777 633 L778 634 L779 636 L779 637 L781 639 L782 640 L783 641 L783 641" stroke-width="2"/>
<path d="M743 545 L743 545 L743 545 L745 547 L746 547 L748 548 L749 549 L749 549" stroke-width="1.3"/>
<path d="M749 549 L748 550 L747 551 L747 553 L747 553" stroke-width="1.5"/>
<path d="M767 545 L767 545 L767 545 L767 547 L767 547" stroke-width="1.2"/>
<path d="M767 547 L767 548 L767 549 L767 551 L766 552 L765 554 L765 555 L765 555" stroke-width="1.3"/>
<path d="M765 555 L766 556 L767 557 L769 559 L769 559" stroke-width="1.4"/>
<path d="M769 559 L770 560 L771 561 L771 563 L770 563 L768 564 L767 565 L765 567 L765 568 L765 569 L765 569" stroke-width="1.7"/>
<path d="M789 545 L789 545 L789 545 L791 545 L791 545" stroke-width="1.3"/>
<path d="M791 545 L793 545" stroke-width="1.4"/>
<path d="M793 545 L795 547" stroke-width="1.5"/>
<path d="M795 547 L794 548 L793 549 L793 551 L793 552 L793 553 L793 553" stroke-width="1.6"/>
<path d="M793 553 L793 554 L793 555 L795 557 L795 558 L795 560 L795 561 L795 563 L794 564 L792 566 L791 567 L789 569 L788 569 L786 570 L785 571 L785 571" stroke-width="1.7"/>
<path d="M785 571 L785 572 L785 573 L783 575 L783 576 L783 577 L783 577" stroke-width="1.8"/>
<path d="M783 577 L783 578 L783 579 L783 581 L782 582 L781 583 L781 583" stroke-width="1.9"/>
<path d="M285 547 L285 547 L285 547 L285 549 L285 549" stroke-width="0.8"/>
<path d="M309 547 L309 547 L309 547 L311 549 L311 549" stroke-width="0.8"/>
<path d="M721 547 L721 547 L721 547 L723 549 L723 550 L723 552 L723 553 L723 555 L723 556 L724 558 L725 559 L725 561 L726 562 L726 564 L725 565 L725 565" stroke-width="1.6"/>
<path d="M725 565 L726 566 L727 567 L727 569 L728 570 L730 572 L731 573 L733 575 L734 576 L736 577 L737 577 L737 577" stroke-width="1.7"/>
<path d="M737 577 L738 578 L739 579 L739 581 L740 582 L741 584 L741 585 L742 587 L742 588 L741 590 L741 591 L741 591" stroke-width="1.8"/>
<path d="M741 591 L741 593" stroke-width="1.9"/>
<path d="M741 593 L742 593 L743 593 L745 593 L746 594 L747 596 L747 597 L747 599 L747 600 L747 602 L747 603 L749 605 L750 606 L752 607 L753 607 L755 609 L756 609 L758 608 L759 607 L761 607 L762 608 L764 610 L765 611 L765 613 L766 614 L768 616 L769 617 L769 619 L769 620 L770 622 L771 623 L771 625 L771 626 L772 628 L773 629 L773 629" stroke-width="2"/>
<path d="M771 547 L771 547 L771 547 L770 549 L770 550 L771 551 L771 551" stroke-width="1.3"/>
<path d="M771 551 L770 552 L769 553 L767 555 L767 555" stroke-width="1.4"/>
<path d="M767 555 L768 556 L769 557 L769 559 L769 559" stroke-width="1.5"/>
<path d="M923 547 L923 547 L923 547 L925 545 L926 545 L928 545 L929 545 L931 545 L931 545" stroke-width="1.3"/>
<path d="M931 545 L932 544 L933 544 L935 545 L936 545 L938 546 L939 547 L941 547 L942 546 L943 545 L943 545" stroke-width="1.4"/>
<path d="M943 545 L944 544 L945 543 L947 541 L948 540 L950 538 L951 537 L951 537" stroke-width="1.5"/>
<path d="M951 537 L953 535" stroke-width="1.6"/>
<path d="M953 535 L953 534 L953 533 L953 531 L954 530 L955 529 L955 529" stroke-width="1.8"/>
<path d="M259 549 L259 549 L259 549 L261 551 L261 552 L261 553 L261 553" stroke-width="0.8"/>
<path d="M307 549 L307 549 L307 549 L307 551 L307 552 L307 553 L307 553" stroke-width="0.8"/>
<path d="M321 549 L321 549 L321 549 L321 551 L321 551" stroke-width="0.8"/>
<path d="M331 549 L331 549 L331 549 L329 551 L329 551" stroke-width="0.8"/>
<path d="M329 551 L328 552 L327 553 L325 553 L325 553" stroke-width="0.9"/>
<path d="M325 553 L323 553" stroke-width="1"/>
<path d="M917 549 L917 549 L917 549 L919 549 L919 549" stroke-width="1.1"/>
<path d="M337 551 L337 551 L337 551 L337 553 L337 553" stroke-width="0.9"/>
<path d="M337 553 L339 555" stroke-width="1"/>
<path d="M339 555 L339 556 L339 557 L339 559 L338 560 L337 562 L337 563 L337 563" stroke-width="1.4"/>
<path d="M337 563 L336 564 L335 564 L333 564 L332 564 L330 566 L329 567 L327 567 L326 567 L324 567 L323 567 L323 567" stroke-width="1.6"/>
<path d="M323 567 L322 567 L321 567 L319 565 L318 565 L316 565 L315 565 L313 565 L312 566 L311 567 L311 567" stroke-width="1.7"/>
<path d="M345 551 L345 551 L345 551 L343 553 L343 553" stroke-width="1.1"/>
<path d="M343 553 L342 554 L341 555 L339 555 L339 555" stroke-width="1.2"/>
<path d="M755 551 L755 551 L755 551 L757 553 L758 554 L759 555 L759 555" stroke-width="1.1"/>
<path d="M759 555 L760 556 L760 557 L760 559 L760 560 L761 562 L761 563 L761 565 L761 565" stroke-width="1.2"/>
<path d="M803 551 L803 551 L803 551 L803 553 L803 554 L803 555 L803 555" stroke-width="1.1"/>
<path d="M803 555 L804 556 L805 557 L805 559 L806 560 L807 561 L807 561" stroke-width="1.2"/>
<path d="M807 561 L808 562 L809 563 L809 565 L810 566 L812 568 L813 569 L813 569" stroke-width="1.4"/>
<path d="M813 569 L814 570 L815 571 L815 573 L815 574 L816 576 L817 577 L817 579 L818 580 L819 582 L819 583 L819 583" stroke-width="1.5"/>
<path d="M837 551 L837 551 L837 551 L837 553 L837 553" stroke-width="1.1"/>
<path d="M837 553 L838 554 L838 555 L837 557 L836 558 L835 559 L835 559" stroke-width="1.3"/>
<path d="M835 559 L835 560 L835 561 L835 563 L836 564 L838 566 L838 567 L837 569 L837 570 L836 572 L835 573 L835 573" stroke-width="1.4"/>
<path d="M835 573 L834 573 L833 573 L831 571 L830 571 L828 572 L827 573 L825 573 L824 573 L823 573 L823 573" stroke-width="2"/>
<path d="M269 553 L269 553 L269 553 L267 553 L267 554 L267 555 L267 555" stroke-width="0.8"/>
<path d="M267 555 L265 555" stroke-width="0.9"/>
<path d="M265 555 L263 555" stroke-width="1"/>
<path d="M263 555 L261 553" stroke-width="1.1"/>
<path d="M297 553 L297 553 L297 553 L299 555 L300 555 L301 555 L301 555" stroke-width="0.8"/>
<path d="M301 555 L302 556 L303 557 L303 559 L303 559" stroke-width="0.9"/>
<path d="M735 555 L735 555 L735 555 L737 555 L738 556 L740 557 L741 557 L741 557" stroke-width="1.1"/>
<path d="M741 557 L742 557 L743 557 L745 557 L746 557 L748 556 L749 555 L749 555" stroke-width="1.2"/>
<path d="M843 555 L843 555 L843 555 L843 557 L843 558 L844 560 L845 561 L845 561" stroke-width="1"/>
<path d="M845 561 L846 562 L847 563 L847 565 L847 565" stroke-width="1.1"/>
<path d="M847 565 L847 566 L847 567 L847 569 L847 570 L846 571 L845 571 L843 573 L843 573" stroke-width="1.8"/>
<path d="M843 573 L842 573 L841 573 L839 573 L838 573 L836 573 L835 573 L835 573" stroke-width="1.9"/>
<path d="M859 555 L859 555 L859 555 L859 557 L858 558 L857 559 L857 559" stroke-width="1"/>
<path d="M857 559 L857 561" stroke-width="1.1"/>
<path d="M857 561 L855 563" stroke-width="1.2"/>
<path d="M855 563 L854 564 L853 565 L851 565 L850 564 L848 564 L847 565 L847 565" stroke-width="1.7"/>
<path d="M267 557 L267 557 L267 557 L265 555 L265 555" stroke-width="0.8"/>
<path d="M281 557 L281 557 L281 557 L283 559 L283 560 L283 561 L283 561" stroke-width="0.9"/>
<path d="M311 557 L311 557 L311 557 L311 559 L311 560 L311 561 L311 561" stroke-width="0.8"/>
<path d="M785 557 L785 557 L785 557 L783 559 L783 560 L783 561 L783 561" stroke-width="1.1"/>
<path d="M783 561 L783 562 L783 563 L785 565 L785 565" stroke-width="1.2"/>
<path d="M785 565 L785 566 L785 567 L785 569 L785 570 L785 571 L785 571" stroke-width="1.3"/>
<path d="M813 557 L813 557 L813 557 L811 559 L810 559 L808 560 L807 561 L807 561" stroke-width="1"/>
<path d="M903 557 L903 557 L903 557 L905 559 L905 559" stroke-width="1"/>
<path d="M905 559 L906 560 L907 561 L909 561 L910 562 L911 564 L911 565 L909 567 L909 567" stroke-width="1.1"/>
<path d="M909 567 L909 568 L909 569 L907 571 L907 571" stroke-width="1.2"/>
<path d="M907 571 L907 572 L907 573 L909 575 L909 575" stroke-width="1.3"/>
<path d="M909 575 L909 576 L909 577 L909 579 L909 580 L909 581 L909 581" stroke-width="1.4"/>
<path d="M909 581 L908 582 L908 583 L909 585 L909 586 L909 588 L909 589 L909 591 L909 592 L909 594 L909 595 L911 597 L911 597" stroke-width="1.6"/>
<path d="M911 597 L912 598 L913 599 L913 601 L913 602 L914 604 L915 605 L915 607 L915 607" stroke-width="1.7"/>
<path d="M915 607 L915 609" stroke-width="1.8"/>
<path d="M915 609 L915 610 L915 611 L915 613 L915 614 L915 616 L915 617 L915 619 L915 620 L915 622 L915 623 L915 623" stroke-width="1.9"/>
<path d="M915 623 L915 624 L915 625 L915 627 L916 628 L918 630 L919 631 L921 633 L921 634 L921 636 L921 637 L923 639 L923 640 L923 642 L923 643 L923 645 L923 646 L924 648 L925 649 L926 651 L926 652 L924 654 L923 655 L921 657 L921 658 L922 660 L923 661 L925 663 L925 664 L924 666 L923 667 L923 669 L923 670 L924 672 L925 673 L925 675 L925 676 L924 678 L923 679 L921 681 L921 682 L920 684 L919 685 L917 687 L916 688 L914 690 L913 691 L913 693 L912 694 L912 696 L912 697 L911 699 L910 700 L908 702 L908 703 L909 705 L910 706 L910 708 L909 709 L908 711 L908 712 L910 713 L911 713 L913 715 L914 716 L914 718 L913 719 L913 721 L913 722 L913 723 L913 723" stroke-width="2"/>
<path d="M279 559 L279 559 L279 559 L279 561 L279 561" stroke-width="0.8"/>
<path d="M279 561 L280 561 L281 561 L283 563 L283 563" stroke-width="0.9"/>
<path d="M297 559 L297 559 L297 559 L299 559 L300 560 L301 561 L301 561" stroke-width="0.8"/>
<path d="M301 561 L303 563" stroke-width="0.9"/>
<path d="M303 563 L305 565" stroke-width="1.1"/>
<path d="M331 559 L331 559 L331 559 L333 561 L333 561" stroke-width="0.8"/>
<path d="M333 561 L333 563" stroke-width="1"/>
<path d="M343 559 L343 559 L343 559 L341 561 L340 562 L339 563 L339 563" stroke-width="1.2"/>
<path d="M339 563 L337 563" stroke-width="1.3"/>
<path d="M823 559 L823 559 L823 559 L825 561 L825 562 L825 563 L825 563" stroke-width="0.9"/>
<path d="M825 563 L825 564 L825 565 L825 567 L824 568 L823 569 L823 569" stroke-width="1"/>
<path d="M823 569 L825 571" stroke-width="1.1"/>
<path d="M847 559 L847 559 L847 559 L849 561 L849 561" stroke-width="0.9"/>
<path d="M849 561 L849 563" stroke-width="1"/>
<path d="M851 559 L851 559 L851 559 L853 561 L853 561" stroke-width="0.9"/>
<path d="M853 561 L853 562 L853 563 L853 565 L853 565" stroke-width="1"/>
<path d="M1025 559 L1025 559 L1025 559 L1027 559 L1028 559 L1030 559 L1031 559 L1031 559" stroke-width="0.9"/>
<path d="M861 561 L861 561 L861 561 L859 563 L859 564 L859 565 L859 565" stroke-width="1"/>
<path d="M859 565 L857 565" stroke-width="1.2"/>
<path d="M857 565 L855 563" stroke-width="1.6"/>
<path d="M895 561 L895 561 L895 561 L897 563 L898 564 L899 565 L899 565" stroke-width="0.9"/>
<path d="M899 565 L899 567" stroke-width="1"/>
<path d="M899 567 L900 568 L901 569 L903 571 L903 571" stroke-width="1.1"/>
<path d="M903 571 L903 573" stroke-width="1.2"/>
<path d="M903 573 L903 574 L903 575 L905 575 L905 575" stroke-width="1.3"/>
<path d="M905 575 L906 576 L907 577 L907 579 L908 580 L909 581 L909 581" stroke-width="1.4"/>
<path d="M1011 561 L1011 561 L1011 561 L1013 559 L1013 559" stroke-width="1"/>
<path d="M1013 559 L1014 560 L1015 561 L1017 561 L1018 562 L1019 563 L1019 563" stroke-width="1.1"/>
<path d="M1019 563 L1020 563 L1021 563 L1023 563 L1024 563 L1026 564 L1027 565 L1027 565" stroke-width="1.9"/>
<path d="M315 563 L315 563 L315 563 L313 565 L313 565" stroke-width="0.8"/>
<path d="M709 563 L709 563 L709 563 L711 563 L712 563 L714 564 L715 565 L715 567 L716 568 L718 570 L719 571 L719 571" stroke-width="1.7"/>
<path d="M719 571 L719 572 L719 573 L719 575 L720 576 L722 578 L723 579 L725 579 L726 580 L728 582 L729 583 L729 583" stroke-width="1.8"/>
<path d="M729 583 L730 584 L731 585 L733 587 L734 588 L736 589 L737 589 L739 591 L740 592 L741 593 L741 593" stroke-width="1.9"/>
<path d="M749 563 L749 563 L749 563 L751 563 L752 564 L753 565 L753 565" stroke-width="0.9"/>
<path d="M753 565 L754 565 L755 565 L757 565 L757 565" stroke-width="1.2"/>
<path d="M863 563 L863 563 L863 563 L861 563 L860 564 L859 565 L859 565" stroke-width="0.9"/>
<path d="M927 563 L927 563 L927 563 L929 563 L929 563" stroke-width="0.9"/>
<path d="M929 563 L931 563" stroke-width="1"/>
<path d="M931 563 L932 563 L933 563 L935 561 L936 560 L938 559 L939 559 L941 557 L941 557" stroke-width="1.1"/>
<path d="M941 557 L941 556 L941 555 L943 553 L944 553 L946 552 L947 551 L949 549 L950 548 L951 547 L951 547" stroke-width="1.2"/>
<path d="M949 563 L949 563 L949 563 L951 563 L952 564 L953 566 L953 567 L951 569 L951 569" stroke-width="1"/>
<path d="M951 569 L952 570 L952 571 L951 573 L951 573" stroke-width="1.1"/>
<path d="M951 573 L949 575" stroke-width="1.2"/>
<path d="M949 575 L948 576 L948 577 L949 579 L949 580 L950 582 L951 583 L951 585 L951 586 L951 587 L951 587" stroke-width="1.4"/>
<path d="M951 587 L953 589" stroke-width="1.5"/>
<path d="M953 589 L955 591" stroke-width="1.6"/>
<path d="M955 591 L956 592 L957 593 L957 595 L958 596 L960 597 L961 597 L963 599 L963 599" stroke-width="1.7"/>
<path d="M963 599 L963 600 L963 601 L962 603 L962 604 L964 606 L964 607 L963 609 L963 610 L963 612 L963 613 L961 615 L961 615" stroke-width="1.8"/>
<path d="M961 615 L962 616 L962 617 L961 619 L960 620 L958 622 L957 623 L957 625 L958 626 L958 628 L958 629 L959 631 L959 631" stroke-width="1.9"/>
<path d="M959 631 L958 632 L958 633 L959 635 L959 636 L959 638 L959 639 L957 641 L956 642 L954 644 L953 645 L951 647 L950 648 L949 650 L949 651 L949 653 L949 654 L948 656 L947 657 L945 659 L944 660 L942 662 L941 663 L939 664 L938 664 L936 662 L935 661 L933 659 L932 658 L930 658 L929 659 L927 661 L926 661 L925 662 L925 663 L925 663" stroke-width="2"/>
<path d="M961 563 L961 563 L961 563 L963 561 L963 561" stroke-width="0.9"/>
<path d="M963 561 L964 561 L965 561 L967 561 L967 561" stroke-width="1"/>
<path d="M967 561 L968 561 L969 561 L971 561 L971 561" stroke-width="1.1"/>
<path d="M971 561 L972 561 L973 561 L975 560 L976 560 L978 562 L979 563 L979 563" stroke-width="1.4"/>
<path d="M979 563 L980 564 L981 565 L983 567 L983 567" stroke-width="1.5"/>
<path d="M983 567 L984 566 L985 565 L987 565 L988 565 L990 565 L991 565 L993 567 L994 567 L996 568 L997 569 L999 571 L1000 571 L1001 571 L1001 571" stroke-width="1.6"/>
<path d="M1001 571 L1002 571 L1003 571 L1005 571 L1006 572 L1007 573 L1007 573" stroke-width="1.7"/>
<path d="M1007 573 L1008 573 L1009 573 L1011 573 L1012 573 L1014 573 L1015 573 L1015 573" stroke-width="1.8"/>
<path d="M1015 573 L1016 572 L1017 571 L1017 569 L1017 568 L1017 566 L1017 565 L1019 563 L1019 563" stroke-width="1.9"/>
<path d="M277 565 L277 565 L277 565 L279 565 L279 565" stroke-width="0.8"/>
<path d="M279 565 L280 564 L281 563 L283 563 L283 563" stroke-width="1"/>
<path d="M301 565 L301 565 L301 565 L303 563 L303 563" stroke-width="0.8"/>
<path d="M323 565 L323 565 L323 565 L321 567 L321 567" stroke-width="0.8"/>
<path d="M365 565 L365 565 L365 565 L363 565 L362 565 L360 566 L359 567 L357 569 L356 569 L354 569 L353 569 L351 569 L350 568 L349 567 L349 567" stroke-width="1.7"/>
<path d="M349 567 L348 568 L347 569 L345 569 L344 569 L342 570 L341 571 L341 573 L340 574 L339 576 L339 577 L337 579 L337 580 L337 581 L337 581" stroke-width="1.8"/>
<path d="M337 581 L337 582 L337 583 L339 585 L339 585" stroke-width="1.9"/>
<path d="M339 585 L338 586 L337 587 L335 587 L334 587 L332 588 L332 589 L332 591 L332 592 L331 594 L331 595 L329 597 L329 598 L328 600 L327 601 L326 603 L326 604 L326 606 L325 607 L325 609 L326 610 L326 612 L325 613 L323 613 L323 613" stroke-width="2"/>
<path d="M745 565 L745 565 L745 565 L747 567 L747 567" stroke-width="0.9"/>
<path d="M747 567 L749 567" stroke-width="1"/>
<path d="M749 567 L750 567 L751 567 L753 565 L753 565" stroke-width="1.1"/>
<path d="M779 565 L779 565 L779 565 L779 567 L780 568 L781 569 L781 569" stroke-width="0.9"/>
<path d="M781 569 L782 570 L783 571 L783 573 L783 574 L783 575 L783 575" stroke-width="1"/>
<path d="M813 565 L813 565 L813 565 L813 567 L813 567" stroke-width="0.9"/>
<path d="M813 567 L813 569" stroke-width="1"/>
<path d="M869 565 L869 565 L869 565 L867 565 L867 565" stroke-width="0.9"/>
<path d="M867 565 L866 565 L865 565 L863 567 L863 567" stroke-width="1"/>
<path d="M863 567 L861 569" stroke-width="1.1"/>
<path d="M861 569 L860 568 L859 567 L857 565 L857 565" stroke-width="1.5"/>
<path d="M941 565 L941 565 L941 565 L943 567 L944 568 L945 570 L945 571 L945 571" stroke-width="0.9"/>
<path d="M945 571 L947 573" stroke-width="1"/>
<path d="M947 573 L949 575" stroke-width="1.1"/>
<path d="M967 565 L967 565 L967 565 L969 563 L969 563" stroke-width="1"/>
<path d="M969 563 L971 561" stroke-width="1.2"/>
<path d="M351 567 L351 567 L351 567 L349 567 L349 567" stroke-width="1.3"/>
<path d="M805 567 L805 567 L805 567 L805 569 L805 570 L804 572 L803 573 L803 573" stroke-width="0.9"/>
<path d="M803 573 L802 574 L801 575 L799 577 L798 578 L797 579 L797 579" stroke-width="1"/>
<path d="M797 579 L796 580 L795 581 L795 583 L795 583" stroke-width="1.1"/>
<path d="M795 583 L794 584 L793 585 L791 587 L791 587" stroke-width="1.3"/>
<path d="M791 587 L790 588 L789 589 L787 589 L787 589" stroke-width="1.5"/>
<path d="M787 589 L786 590 L785 591 L783 593 L783 594 L783 595 L783 595" stroke-width="1.6"/>
<path d="M905 567 L905 567 L905 567 L905 569 L905 569" stroke-width="0.9"/>
<path d="M905 569 L907 571" stroke-width="1"/>
<path d="M293 569 L293 569 L293 569 L293 571 L293 571" stroke-width="0.8"/>
<path d="M921 569 L921 569 L921 569 L923 571 L924 572 L926 574 L927 575 L929 575 L930 576 L931 577 L931 577" stroke-width="1"/>
<path d="M931 577 L932 577 L933 577 L935 579 L935 579" stroke-width="1.1"/>
<path d="M935 579 L936 580 L937 581 L939 583 L939 584 L939 585 L939 585" stroke-width="1.2"/>
<path d="M939 585 L940 586 L941 587 L941 589 L941 589" stroke-width="1.3"/>
<path d="M941 589 L940 590 L939 591 L939 593 L939 594 L938 596 L937 597 L937 597" stroke-width="1.4"/>
<path d="M937 597 L937 598 L937 599 L937 601 L937 602 L937 604 L937 605 L936 607 L936 608 L937 609 L937 609" stroke-width="1.6"/>
<path d="M937 609 L936 610 L935 611 L933 613 L932 614 L931 615 L931 615" stroke-width="1.7"/>
<path d="M931 615 L931 616 L931 617 L929 619 L928 620 L927 622 L927 623 L929 623 L929 623" stroke-width="1.8"/>
<path d="M929 623 L930 624 L931 625 L931 627 L932 628 L933 630 L933 631 L935 633 L936 634 L937 636 L937 637 L935 639 L934 640 L932 641 L931 641 L929 643 L928 644 L926 646 L925 647 L925 649 L925 649" stroke-width="1.9"/>
<path d="M969 569 L969 569 L969 569 L971 567 L971 567" stroke-width="0.9"/>
<path d="M971 567 L970 566 L969 565 L969 563 L969 563" stroke-width="1"/>
<path d="M981 569 L981 569 L981 569 L983 567 L983 567" stroke-width="0.9"/>
<path d="M305 571 L305 571 L305 571 L307 571 L307 572 L307 573 L307 573" stroke-width="0.8"/>
<path d="M737 571 L737 571 L737 571 L737 573 L737 574 L737 575 L737 575" stroke-width="1"/>
<path d="M737 575 L737 577" stroke-width="1.1"/>
<path d="M869 571 L869 571 L869 571 L867 573 L867 573" stroke-width="0.9"/>
<path d="M867 573 L866 573 L865 573 L863 573 L863 573" stroke-width="1.1"/>
<path d="M863 573 L862 572 L861 571 L861 569 L861 569" stroke-width="1.4"/>
<path d="M291 573 L291 573 L291 573 L293 575 L293 575" stroke-width="0.8"/>
<path d="M853 573 L853 573 L853 573 L853 571 L853 570 L853 569 L853 569" stroke-width="0.9"/>
<path d="M853 569 L852 568 L851 568 L849 569 L849 569" stroke-width="1"/>
<path d="M849 569 L847 571" stroke-width="1.1"/>
<path d="M931 573 L931 573 L931 573 L933 573 L934 574 L935 576 L935 577 L935 577" stroke-width="0.9"/>
<path d="M935 577 L935 579" stroke-width="1"/>
<path d="M999 573 L999 573 L999 573 L1001 571 L1001 571" stroke-width="0.9"/>
<path d="M289 575 L289 575 L289 575 L291 575 L292 575 L293 575 L293 575" stroke-width="0.8"/>
<path d="M321 575 L321 575 L321 575 L323 573 L323 573" stroke-width="0.8"/>
<path d="M323 573 L321 571" stroke-width="0.9"/>
<path d="M321 571 L320 570 L320 569 L321 567 L321 567" stroke-width="1"/>
<path d="M325 575 L325 575 L325 575 L325 577 L326 578 L327 579 L327 579" stroke-width="0.8"/>
<path d="M327 579 L327 581" stroke-width="0.9"/>
<path d="M327 581 L325 583" stroke-width="1"/>
<path d="M325 583 L324 584 L323 585 L323 587 L322 588 L321 590 L321 591 L321 593 L322 594 L323 595 L323 595" stroke-width="1.1"/>
<path d="M323 595 L325 597" stroke-width="1.2"/>
<path d="M325 597 L325 598 L325 599 L325 601 L324 602 L323 603 L323 603" stroke-width="1.3"/>
<path d="M323 603 L324 604 L325 605 L325 607 L325 607" stroke-width="1.4"/>
<path d="M751 575 L751 575 L751 575 L749 577 L749 577" stroke-width="0.9"/>
<path d="M749 577 L748 578 L747 579 L747 581 L746 582 L745 584 L745 585 L743 587 L743 587" stroke-width="1"/>
<path d="M781 575 L781 575 L781 575 L783 577 L783 577" stroke-width="1"/>
<path d="M1011 575 L1011 575 L1011 575 L1013 575 L1013 575" stroke-width="0.9"/>
<path d="M1013 575 L1015 573" stroke-width="1"/>
<path d="M787 577 L787 577 L787 577 L785 579 L784 580 L783 581 L783 581" stroke-width="0.9"/>
<path d="M863 577 L863 577 L863 577 L863 575 L863 575" stroke-width="1"/>
<path d="M863 575 L863 573" stroke-width="1.1"/>
<path d="M287 579 L287 579 L287 579 L289 580 L290 580 L291 579 L291 579" stroke-width="0.8"/>
<path d="M291 579 L293 577" stroke-width="0.9"/>
<path d="M329 579 L329 579 L329 579 L327 581 L327 581" stroke-width="0.8"/>
<path d="M347 579 L347 579 L347 579 L345 579 L344 580 L343 581 L343 581" stroke-width="1.2"/>
<path d="M343 581 L342 581 L341 581 L339 581 L338 581 L337 581 L337 581" stroke-width="1.3"/>
<path d="M741 579 L741 579 L741 579 L741 581 L741 581" stroke-width="0.9"/>
<path d="M741 581 L741 583" stroke-width="1"/>
<path d="M845 579 L845 579 L845 579 L843 577 L843 577" stroke-width="0.9"/>
<path d="M843 577 L843 576 L843 575 L841 575 L840 574 L839 573 L839 573" stroke-width="1"/>
<path d="M885 579 L885 579 L885 579 L885 581 L885 582 L885 583 L885 583" stroke-width="0.9"/>
<path d="M885 583 L883 585" stroke-width="1"/>
<path d="M883 585 L881 587" stroke-width="1.1"/>
<path d="M881 587 L881 588 L881 589 L883 591 L884 591 L885 591 L885 591" stroke-width="1.3"/>
<path d="M885 591 L886 592 L887 593 L889 595 L890 596 L892 598 L893 599 L895 601 L896 602 L898 604 L899 605 L899 607 L899 608 L899 609 L899 609" stroke-width="1.4"/>
<path d="M899 609 L897 611" stroke-width="1.5"/>
<path d="M897 611 L898 612 L899 613 L901 615 L901 616 L902 618 L903 619 L905 621 L906 621 L908 621 L909 621 L911 623 L912 623 L914 623 L915 623 L915 623" stroke-width="1.6"/>
<path d="M897 579 L897 579 L897 579 L899 581 L899 582 L899 583 L899 583" stroke-width="0.9"/>
<path d="M899 583 L899 584 L899 585 L899 587 L899 587" stroke-width="1"/>
<path d="M899 587 L900 588 L901 589 L903 591 L904 592 L906 594 L907 595 L907 595" stroke-width="1.1"/>
<path d="M907 595 L908 596 L909 597 L909 599 L909 600 L909 601 L909 601" stroke-width="1.2"/>
<path d="M909 601 L909 603" stroke-width="1.3"/>
<path d="M909 603 L911 603" stroke-width="1.4"/>
<path d="M911 603 L912 604 L913 605 L915 607 L915 607" stroke-width="1.5"/>
<path d="M943 579 L943 579 L943 579 L945 579 L945 579" stroke-width="0.9"/>
<path d="M945 579 L945 580 L945 581 L947 583 L948 584 L950 586 L951 587 L951 587" stroke-width="1"/>
<path d="M733 581 L733 581 L733 581 L735 583 L735 583" stroke-width="1"/>
<path d="M735 583 L736 583 L737 583 L739 585 L740 586 L741 588 L741 589 L741 589" stroke-width="1.1"/>
<path d="M765 581 L765 581 L765 581 L767 583 L768 584 L769 586 L769 587 L769 587" stroke-width="0.9"/>
<path d="M769 587 L771 589" stroke-width="1"/>
<path d="M771 589 L772 590 L773 591 L775 591 L776 590 L777 589 L777 589" stroke-width="1.1"/>
<path d="M777 589 L779 589" stroke-width="1.2"/>
<path d="M793 581 L793 581 L793 581 L791 583 L790 584 L789 585 L789 585" stroke-width="0.9"/>
<path d="M789 585 L788 585 L787 585 L785 587 L785 587" stroke-width="1"/>
<path d="M785 587 L787 589" stroke-width="1.1"/>
<path d="M803 581 L803 581 L803 581 L801 581 L800 581 L799 581 L799 581" stroke-width="0.9"/>
<path d="M799 581 L798 581 L797 581 L795 583 L795 583" stroke-width="1"/>
<path d="M849 581 L849 581 L849 581 L847 579 L847 578 L847 576 L847 575 L847 575" stroke-width="1"/>
<path d="M847 575 L846 575 L845 575 L843 573 L843 573" stroke-width="1.1"/>
<path d="M921 581 L921 581 L921 581 L923 583 L924 584 L926 586 L927 587 L929 587 L929 587" stroke-width="0.9"/>
<path d="M929 587 L931 589" stroke-width="1.1"/>
<path d="M931 589 L931 590 L931 591 L933 593 L934 594 L936 595 L937 595 L937 595" stroke-width="1.2"/>
<path d="M937 595 L937 597" stroke-width="1.3"/>
<path d="M925 581 L925 581 L925 581 L927 583 L928 584 L929 585 L929 585" stroke-width="0.9"/>
<path d="M929 585 L929 587" stroke-width="1"/>
<path d="M975 581 L975 581 L975 581 L977 581 L978 582 L979 583 L979 583" stroke-width="0.9"/>
<path d="M979 583 L981 585" stroke-width="1.1"/>
<path d="M981 585 L982 584 L983 584 L985 584 L986 584 L988 583 L989 583 L989 583" stroke-width="1.2"/>
<path d="M989 583 L990 582 L991 581 L993 579 L994 578 L996 577 L997 577 L999 575 L999 575" stroke-width="1.4"/>
<path d="M999 575 L1000 575 L1001 575 L1003 573 L1004 573 L1006 573 L1007 573 L1007 573" stroke-width="1.5"/>
<path d="M301 583 L301 583 L301 583 L299 585 L299 585" stroke-width="0.8"/>
<path d="M725 583 L725 583 L725 583 L727 583 L728 583 L729 583 L729 583" stroke-width="1.3"/>
<path d="M761 583 L761 583 L761 583 L763 585 L763 586 L763 588 L763 589 L763 591 L763 591" stroke-width="0.9"/>
<path d="M763 591 L764 592 L765 593 L765 595 L765 596 L765 597 L765 597" stroke-width="1.2"/>
<path d="M765 597 L765 598 L765 599 L767 601 L767 602 L767 604 L767 605 L769 607 L769 608 L769 610 L769 611 L769 611" stroke-width="1.3"/>
<path d="M769 611 L769 612 L769 613 L771 615 L771 616 L771 618 L771 619 L771 621 L771 622 L771 623 L771 623" stroke-width="1.4"/>
<path d="M773 583 L773 583 L773 583 L775 585 L775 585" stroke-width="0.9"/>
<path d="M775 585 L776 586 L777 587 L779 587 L779 587" stroke-width="1"/>
<path d="M779 587 L779 589" stroke-width="1.1"/>
<path d="M815 583 L815 583 L815 583 L817 585 L817 585" stroke-width="0.9"/>
<path d="M817 585 L819 585" stroke-width="1"/>
<path d="M879 583 L879 583 L879 583 L879 585 L879 585" stroke-width="0.9"/>
<path d="M879 585 L881 587" stroke-width="1"/>
<path d="M955 583 L955 583 L955 583 L955 585 L955 586 L955 587 L955 587" stroke-width="1"/>
<path d="M955 587 L953 589" stroke-width="1.2"/>
<path d="M997 583 L997 583 L997 583 L999 581 L1000 580 L1001 579 L1001 579" stroke-width="0.9"/>
<path d="M1001 579 L1002 578 L1003 577 L1005 575 L1005 575" stroke-width="1"/>
<path d="M1005 575 L1007 573" stroke-width="1.1"/>
<path d="M297 585 L297 585 L297 585 L299 587 L299 587" stroke-width="0.8"/>
<path d="M317 585 L317 585 L317 585 L315 585 L315 586 L315 587 L315 587" stroke-width="0.9"/>
<path d="M315 587 L313 589" stroke-width="1"/>
<path d="M313 589 L312 588 L311 588 L309 589 L309 589" stroke-width="1.1"/>
<path d="M347 585 L347 585 L347 585 L345 587 L345 588 L345 590 L345 591 L343 591 L343 591" stroke-width="1.2"/>
<path d="M343 591 L342 590 L341 589 L341 587 L340 586 L339 585 L339 585" stroke-width="1.7"/>
<path d="M957 585 L957 585 L957 585 L957 587 L957 587" stroke-width="0.9"/>
<path d="M957 587 L955 587" stroke-width="1.1"/>
<path d="M977 585 L977 585 L977 585 L979 583 L979 583" stroke-width="0.9"/>
<path d="M1003 585 L1003 585 L1003 585 L1005 585 L1005 585" stroke-width="0.9"/>
<path d="M1005 585 L1006 584 L1007 583 L1009 581 L1010 581 L1012 580 L1013 579 L1015 579 L1016 579 L1017 579 L1017 579" stroke-width="1.1"/>
<path d="M1017 579 L1019 579" stroke-width="1.2"/>
<path d="M327 587 L327 587 L327 587 L325 589 L325 589" stroke-width="0.8"/>
<path d="M325 589 L325 590 L325 591 L325 593 L325 594 L325 595 L325 595" stroke-width="0.9"/>
<path d="M325 595 L325 597" stroke-width="1"/>
<path d="M757 587 L757 587 L757 587 L759 587 L759 587" stroke-width="0.9"/>
<path d="M759 587 L759 588 L759 589 L761 591 L762 591 L763 591 L763 591" stroke-width="1"/>
<path d="M895 587 L895 587 L895 587 L897 589 L898 590 L899 592 L899 593 L899 593" stroke-width="0.9"/>
<path d="M899 593 L900 594 L901 595 L901 597 L902 598 L903 600 L903 601 L905 601 L906 602 L907 603 L907 603" stroke-width="1.1"/>
<path d="M907 603 L909 603" stroke-width="1.2"/>
<path d="M959 587 L959 587 L959 587 L957 587 L957 587" stroke-width="0.9"/>
<path d="M985 587 L985 587 L985 587 L987 585 L988 585 L989 585 L989 585" stroke-width="1"/>
<path d="M989 585 L989 583" stroke-width="1.1"/>
<path d="M303 589 L303 589 L303 589 L301 591 L301 591" stroke-width="0.8"/>
<path d="M349 589 L349 589 L349 589 L347 591 L347 591" stroke-width="1.2"/>
<path d="M347 591 L346 592 L345 592 L343 591 L343 591" stroke-width="1.6"/>
<path d="M707 589 L707 589 L707 589 L709 588 L710 588 L712 590 L713 591 L715 591 L716 590 L718 589 L719 589 L721 589 L722 589 L724 589 L725 589 L727 589 L728 588 L729 587 L729 587" stroke-width="1.7"/>
<path d="M729 587 L730 588 L731 589 L733 591 L734 592 L736 593 L737 593 L739 595 L739 595" stroke-width="1.8"/>
<path d="M739 595 L741 593" stroke-width="1.9"/>
<path d="M797 589 L797 589 L797 589 L795 591 L795 591" stroke-width="0.9"/>
<path d="M795 591 L794 590 L793 589 L791 587 L791 587" stroke-width="1.2"/>
<path d="M919 589 L919 589 L919 589 L919 591 L919 592 L919 594 L919 595 L919 595" stroke-width="0.9"/>
<path d="M919 595 L919 596 L919 597 L919 599 L919 599" stroke-width="1"/>
<path d="M919 599 L918 600 L917 601 L917 603 L916 604 L915 605 L915 605" stroke-width="1.1"/>
<path d="M799 591 L799 591 L799 591 L797 593 L797 593" stroke-width="0.9"/>
<path d="M797 593 L795 591" stroke-width="1"/>
<path d="M861 591 L861 591 L861 591 L859 593 L859 593" stroke-width="1"/>
<path d="M859 593 L858 594 L857 595 L855 595 L854 595 L853 595 L853 595" stroke-width="1.2"/>
<path d="M853 595 L851 597" stroke-width="1.3"/>
<path d="M851 597 L850 597 L849 597 L847 597 L847 597" stroke-width="1.4"/>
<path d="M847 597 L846 597 L845 597 L843 597 L843 597" stroke-width="1.5"/>
<path d="M843 597 L842 597 L841 597 L839 596 L838 596 L836 596 L835 596 L833 597 L832 598 L831 599 L831 599" stroke-width="1.6"/>
<path d="M831 599 L830 598 L829 598 L827 599 L826 600 L824 602 L823 602 L821 601 L820 601 L818 600 L817 599 L817 599" stroke-width="1.7"/>
<path d="M817 599 L816 599 L815 599 L813 600 L812 600 L810 600 L809 601 L807 601 L807 601" stroke-width="1.8"/>
<path d="M965 591 L965 591 L965 591 L963 593 L963 593" stroke-width="0.9"/>
<path d="M963 593 L961 595" stroke-width="1"/>
<path d="M961 595 L961 597" stroke-width="1.1"/>
<path d="M1007 591 L1007 591 L1007 591 L1009 589 L1009 588 L1009 587 L1009 587" stroke-width="0.9"/>
<path d="M1009 587 L1011 585" stroke-width="1"/>
<path d="M1011 585 L1012 584 L1013 583 L1015 583 L1016 583 L1017 583 L1017 583" stroke-width="1.1"/>
<path d="M747 593 L747 593 L747 593 L747 595 L747 595" stroke-width="0.9"/>
<path d="M831 593 L831 593 L831 593 L829 595 L829 595" stroke-width="1"/>
<path d="M829 595 L829 597" stroke-width="1.1"/>
<path d="M853 593 L853 593 L853 593 L851 593 L850 593 L849 593 L849 593" stroke-width="0.9"/>
<path d="M849 593 L848 594 L847 595 L847 597 L847 597" stroke-width="1"/>
<path d="M861 593 L861 593 L861 593 L859 593 L859 593" stroke-width="0.9"/>
<path d="M357 597 L357 597 L357 597 L355 597 L354 596 L352 594 L351 593 L351 593" stroke-width="1.4"/>
<path d="M351 593 L350 592 L349 591 L347 591 L347 591" stroke-width="1.5"/>
<path d="M719 597 L719 597 L719 597 L721 595 L722 594 L724 593 L725 593 L727 593 L728 593 L730 593 L731 593 L733 595 L734 595 L736 595 L737 595 L737 595" stroke-width="1.4"/>
<path d="M737 595 L739 595" stroke-width="1.5"/>
<path d="M735 597 L735 597 L735 597 L737 595 L737 595" stroke-width="1"/>
<path d="M741 597 L741 597 L741 597 L743 597 L744 598 L746 599 L747 599 L747 599" stroke-width="0.9"/>
<path d="M855 597 L855 597 L855 597 L853 595 L853 595" stroke-width="1"/>
<path d="M801 599 L801 599 L801 599 L799 601 L798 602 L796 603 L795 603 L795 603" stroke-width="0.9"/>
<path d="M795 603 L793 605" stroke-width="1.1"/>
<path d="M793 605 L792 606 L791 607 L791 609 L790 610 L790 612 L790 613 L789 615 L789 615" stroke-width="1.2"/>
<path d="M789 615 L788 616 L787 617 L787 619 L786 620 L784 622 L783 623 L783 625 L783 626 L783 628 L783 629 L781 631 L781 631" stroke-width="1.3"/>
<path d="M781 631 L781 632 L781 633 L781 635 L780 636 L779 637 L779 637" stroke-width="1.4"/>
<path d="M841 599 L841 599 L841 599 L841 597 L841 597" stroke-width="0.9"/>
<path d="M853 599 L853 599 L853 599 L851 597 L851 597" stroke-width="1"/>
<path d="M925 599 L925 599 L925 599 L925 601 L925 601" stroke-width="0.9"/>
<path d="M925 601 L926 602 L927 603 L927 605 L927 605" stroke-width="1"/>
<path d="M927 605 L927 606 L927 607 L927 609 L927 610 L928 612 L929 613 L929 613" stroke-width="1.1"/>
<path d="M929 613 L931 615" stroke-width="1.2"/>
<path d="M939 599 L939 599 L939 599 L939 601 L939 601" stroke-width="0.9"/>
<path d="M939 601 L937 601" stroke-width="1"/>
<path d="M967 599 L967 599 L967 599 L965 599 L965 599" stroke-width="0.9"/>
<path d="M965 599 L963 599" stroke-width="1"/>
<path d="M795 601 L795 601 L795 601 L795 603 L795 603" stroke-width="0.9"/>
<path d="M899 601 L899 601 L899 601 L901 603 L902 604 L904 606 L905 607 L905 607" stroke-width="0.9"/>
<path d="M905 607 L906 608 L907 609 L909 611 L910 612 L911 614 L911 615 L911 615" stroke-width="1"/>
<path d="M911 615 L911 616 L911 617 L913 619 L914 620 L915 621 L915 621" stroke-width="1.1"/>
<path d="M983 601 L983 601 L983 601 L982 603 L982 604 L984 606 L985 607 L985 607" stroke-width="0.9"/>
<path d="M985 607 L987 609" stroke-width="1.1"/>
<path d="M987 609 L985 611" stroke-width="1.2"/>
<path d="M985 611 L984 612 L983 613 L981 615 L980 615 L978 616 L977 617 L977 617" stroke-width="1.3"/>
<path d="M977 617 L976 618 L975 619 L973 621 L972 621 L970 621 L969 621 L967 621 L966 622 L965 624 L965 625 L965 625" stroke-width="1.4"/>
<path d="M965 625 L964 626 L963 627 L961 629 L960 630 L959 631 L959 631" stroke-width="1.5"/>
<path d="M321 603 L321 603 L321 603 L323 603 L323 603" stroke-width="0.9"/>
<path d="M333 603 L333 603 L333 603 L331 605 L331 605" stroke-width="0.8"/>
<path d="M331 605 L329 605" stroke-width="0.9"/>
<path d="M329 605 L327 605" stroke-width="1"/>
<path d="M761 605 L761 605 L761 605 L761 607 L761 607" stroke-width="1"/>
<path d="M929 605 L929 605 L929 605 L931 607 L931 608 L932 610 L933 611 L933 611" stroke-width="1"/>
<path d="M933 611 L933 613" stroke-width="1.1"/>
<path d="M985 605 L985 605 L985 605 L985 607 L985 607" stroke-width="0.9"/>
<path d="M343 607 L343 607 L343 607 L341 609 L340 610 L338 612 L337 613 L337 615 L337 616 L337 617 L337 617" stroke-width="1.2"/>
<path d="M337 617 L336 618 L335 619 L333 621 L333 621" stroke-width="1.6"/>
<path d="M869 607 L869 607 L869 607 L869 609 L868 610 L867 611 L867 611" stroke-width="0.9"/>
<path d="M867 611 L867 612 L867 613 L867 615 L867 615" stroke-width="1.1"/>
<path d="M867 615 L867 616 L867 617 L869 619 L869 619" stroke-width="1.2"/>
<path d="M869 619 L869 620 L869 621 L869 623 L870 624 L871 625 L871 625" stroke-width="1.3"/>
<path d="M871 625 L872 626 L873 627 L875 629 L876 630 L878 632 L879 633 L879 633" stroke-width="1.4"/>
<path d="M879 633 L880 634 L881 635 L881 637 L882 638 L883 639 L883 639" stroke-width="1.5"/>
<path d="M883 639 L883 640 L883 641 L885 643 L886 644 L888 646 L889 647 L889 647" stroke-width="1.6"/>
<path d="M889 647 L889 648 L889 649 L889 651 L889 652 L888 654 L887 655 L885 657 L885 658 L885 659 L885 659" stroke-width="1.7"/>
<path d="M885 659 L883 659" stroke-width="1.8"/>
<path d="M883 659 L881 661" stroke-width="1.9"/>
<path d="M881 661 L882 662 L883 663 L883 665 L884 666 L884 668 L883 669 L883 671 L884 672 L885 674 L885 675 L887 677 L887 678 L888 679 L889 679 L889 681 L890 681 L892 682 L893 682 L895 681 L896 680 L898 680 L899 681 L901 683 L902 684 L904 685 L905 685 L907 685 L907 686 L907 688 L907 689 L907 691 L908 692 L910 694 L911 695 L911 695" stroke-width="2"/>
<path d="M887 607 L887 607 L887 607 L889 609 L890 609 L891 609 L891 609" stroke-width="0.9"/>
<path d="M891 609 L893 609" stroke-width="1"/>
<path d="M893 609 L894 609 L895 609 L897 611 L897 611" stroke-width="1.1"/>
<path d="M895 607 L895 607 L895 607 L897 609 L897 610 L897 611 L897 611" stroke-width="0.9"/>
<path d="M975 607 L975 607 L975 607 L973 609 L972 609 L970 609 L969 609 L969 609" stroke-width="1"/>
<path d="M969 609 L968 609 L967 609 L965 611 L964 612 L963 613 L963 613" stroke-width="1.1"/>
<path d="M777 609 L777 609 L777 609 L777 611 L777 612 L777 613 L777 613" stroke-width="0.9"/>
<path d="M813 609 L813 609 L813 609 L811 611 L811 611" stroke-width="1"/>
<path d="M811 611 L811 612 L811 613 L811 615 L810 616 L809 618 L809 619 L809 619" stroke-width="1.1"/>
<path d="M809 619 L808 620 L807 621 L807 623 L806 624 L805 626 L805 627 L805 627" stroke-width="1.3"/>
<path d="M805 627 L804 628 L803 629 L801 631 L800 632 L798 634 L797 635 L797 635" stroke-width="1.4"/>
<path d="M797 635 L796 635 L795 635 L793 635 L793 635" stroke-width="1.5"/>
<path d="M941 609 L941 609 L941 609 L939 611 L939 611" stroke-width="1"/>
<path d="M939 611 L938 612 L937 613 L937 615 L937 615" stroke-width="1.1"/>
<path d="M937 615 L936 616 L935 617 L933 617 L932 618 L930 620 L929 621 L929 623 L929 623" stroke-width="1.2"/>
<path d="M961 609 L961 609 L961 609 L963 609 L963 609" stroke-width="0.9"/>
<path d="M333 611 L333 611 L333 611 L331 613 L331 613" stroke-width="0.8"/>
<path d="M331 613 L330 614 L329 615 L329 617 L329 617" stroke-width="0.9"/>
<path d="M347 611 L347 611 L347 611 L345 613 L344 613 L343 613 L343 613" stroke-width="1.1"/>
<path d="M343 613 L342 613 L341 613 L339 615 L338 616 L337 617 L337 617" stroke-width="1.2"/>
<path d="M739 611 L739 611 L739 611 L741 613 L742 614 L743 615 L743 615" stroke-width="1"/>
<path d="M743 615 L744 616 L745 617 L747 619 L748 620 L750 622 L751 623 L753 625 L754 626 L756 628 L757 629 L757 629" stroke-width="1.1"/>
<path d="M757 629 L758 629 L759 629 L761 629 L761 629" stroke-width="1.2"/>
<path d="M761 629 L762 630 L763 631 L765 633 L766 633 L768 634 L769 635 L771 635 L771 635" stroke-width="1.4"/>
<path d="M771 635 L772 636 L773 637 L773 639 L774 639 L776 639 L777 639 L779 637 L779 637" stroke-width="1.5"/>
<path d="M755 611 L755 611 L755 611 L757 609 L757 609" stroke-width="0.9"/>
<path d="M783 611 L783 611 L783 611 L781 611 L780 611 L779 611 L779 611" stroke-width="1"/>
<path d="M351 613 L351 613 L351 613 L349 615 L349 615" stroke-width="1.2"/>
<path d="M349 615 L348 615 L347 615 L345 615 L344 615 L342 615 L341 615 L339 617 L338 617 L337 617 L337 617" stroke-width="1.3"/>
<path d="M723 613 L723 613 L723 613 L725 613 L725 613" stroke-width="1.3"/>
<path d="M725 613 L725 614 L725 615 L727 615 L728 614 L730 613 L731 613 L733 613 L734 614 L736 616 L737 617 L737 617" stroke-width="1.4"/>
<path d="M737 617 L738 618 L739 619 L741 621 L742 621 L744 621 L745 621 L747 623 L748 624 L749 626 L749 627 L749 629 L750 630 L752 632 L753 633 L753 635 L754 636 L756 638 L757 639 L757 639" stroke-width="1.5"/>
<path d="M757 639 L758 639 L759 639 L761 641 L761 641" stroke-width="1.9"/>
<path d="M761 641 L762 642 L763 643 L765 643 L766 644 L768 646 L769 646 L771 646 L772 646 L774 648 L775 649 L777 651 L777 652 L776 654 L776 655 L777 657 L778 657 L779 657 L779 657" stroke-width="2"/>
<path d="M795 613 L795 613 L795 613 L795 615 L794 616 L793 617 L793 617" stroke-width="0.9"/>
<path d="M793 617 L792 618 L791 619 L789 621 L789 622 L789 623 L789 623" stroke-width="1"/>
<path d="M789 623 L789 624 L789 625 L789 627 L789 628 L789 629 L789 629" stroke-width="1.1"/>
<path d="M789 629 L789 630 L789 631 L787 631 L787 631" stroke-width="1.2"/>
<path d="M787 631 L786 632 L785 633 L785 635 L784 636 L782 638 L781 639 L781 639" stroke-width="1.3"/>
<path d="M849 613 L849 613 L849 613 L847 615 L847 615" stroke-width="0.9"/>
<path d="M847 615 L847 616 L847 617 L845 617 L844 618 L842 619 L841 619 L839 621 L838 622 L836 624 L835 625 L835 625" stroke-width="1.1"/>
<path d="M835 625 L835 626 L835 627 L833 627 L832 627 L830 628 L829 629 L829 629" stroke-width="1.2"/>
<path d="M829 629 L828 630 L827 631 L825 633 L825 634 L825 635 L825 635" stroke-width="1.5"/>
<path d="M825 635 L824 635 L823 635 L823 637 L822 638 L821 640 L821 641 L819 643 L818 643 L816 643 L815 643 L815 643" stroke-width="1.7"/>
<path d="M815 643 L814 644 L813 645 L811 647 L811 647" stroke-width="1.8"/>
<path d="M811 647 L810 648 L809 649 L807 651 L806 651 L804 652 L803 653 L801 653 L800 653 L798 654 L797 655 L795 655 L794 656 L792 658 L791 659 L789 659 L788 658 L787 657 L787 657" stroke-width="1.9"/>
<path d="M787 657 L786 657 L785 657 L783 659 L782 659 L781 659 L781 659" stroke-width="2"/>
<path d="M891 613 L891 613 L891 613 L893 615 L894 615 L895 615 L895 615" stroke-width="0.9"/>
<path d="M895 615 L896 616 L897 617 L897 619 L898 620 L900 622 L901 623 L901 623" stroke-width="1"/>
<path d="M901 623 L901 624 L901 625 L903 627 L903 628 L903 629 L903 629" stroke-width="1.1"/>
<path d="M903 629 L903 630 L903 631 L905 633 L905 634 L905 636 L905 637 L907 639 L908 640 L910 642 L911 643 L911 643" stroke-width="1.3"/>
<path d="M911 643 L913 645" stroke-width="1.4"/>
<path d="M913 645 L914 646 L915 647 L917 647 L918 647 L920 647 L921 647 L923 647 L923 647" stroke-width="1.6"/>
<path d="M813 615 L813 615 L813 615 L811 617 L810 618 L809 619 L809 619" stroke-width="0.9"/>
<path d="M991 617 L991 617 L991 617 L991 619 L991 619" stroke-width="0.9"/>
<path d="M991 619 L992 620 L993 621 L995 621 L995 621" stroke-width="1"/>
<path d="M829 619 L829 619 L829 619 L831 621 L831 621" stroke-width="0.9"/>
<path d="M831 621 L829 623" stroke-width="1.2"/>
<path d="M829 623 L829 624 L829 625 L829 627 L829 627" stroke-width="1.3"/>
<path d="M829 627 L829 629" stroke-width="1.4"/>
<path d="M833 619 L833 619 L833 619 L831 621 L831 621" stroke-width="0.9"/>
<path d="M837 619 L837 619 L837 619 L835 619 L834 620 L833 621 L833 621" stroke-width="0.9"/>
<path d="M833 621 L831 621" stroke-width="1"/>
<path d="M923 619 L923 619 L923 619 L925 621 L925 621" stroke-width="1"/>
<path d="M925 621 L925 622 L925 623 L927 623 L927 623" stroke-width="1.1"/>
<path d="M753 621 L753 621 L753 621 L755 623 L756 624 L757 625 L757 625" stroke-width="0.9"/>
<path d="M757 625 L758 626 L759 627 L761 629 L761 629" stroke-width="1.1"/>
<path d="M803 621 L803 621 L803 621 L801 621 L801 621" stroke-width="0.9"/>
<path d="M827 621 L827 621 L827 621 L827 623 L827 624 L827 625 L827 625" stroke-width="0.9"/>
<path d="M827 625 L829 627" stroke-width="1"/>
<path d="M847 621 L847 621 L847 621 L845 623 L844 624 L842 625 L841 625 L841 625" stroke-width="0.9"/>
<path d="M841 625 L840 626 L839 627 L837 629 L836 630 L834 631 L833 631 L833 631" stroke-width="1"/>
<path d="M833 631 L832 631 L831 631 L829 633 L828 633 L826 634 L825 635 L825 635" stroke-width="1.1"/>
<path d="M913 621 L913 621 L913 621 L915 623 L915 623" stroke-width="0.9"/>
<path d="M955 621 L955 621 L955 621 L957 623 L957 623" stroke-width="0.9"/>
<path d="M883 623 L883 623 L883 623 L885 625 L885 625" stroke-width="0.9"/>
<path d="M885 625 L885 626 L885 627 L885 629 L885 630 L885 632 L885 633 L885 633" stroke-width="1.1"/>
<path d="M885 633 L885 635" stroke-width="1.2"/>
<path d="M885 635 L885 636 L885 637 L883 639 L883 639" stroke-width="1.3"/>
<path d="M887 623 L887 623 L887 623 L885 625 L885 625" stroke-width="0.9"/>
<path d="M949 623 L949 623 L949 623 L951 625 L951 625" stroke-width="0.9"/>
<path d="M951 625 L952 625 L953 625 L955 625 L956 626 L957 628 L957 629 L957 629" stroke-width="1"/>
<path d="M767 625 L767 625 L767 625 L767 627 L767 628 L767 629 L767 629" stroke-width="0.9"/>
<path d="M767 629 L768 630 L769 631 L771 631 L772 631 L773 631 L773 631" stroke-width="1.1"/>
<path d="M877 625 L877 625 L877 625 L877 627 L878 628 L879 630 L879 631 L879 633 L879 633" stroke-width="0.9"/>
<path d="M899 625 L899 625 L899 625 L901 627 L902 628 L903 629 L903 629" stroke-width="0.9"/>
<path d="M971 625 L971 625 L971 625 L969 623 L969 623" stroke-width="0.9"/>
<path d="M969 623 L968 624 L967 625 L965 625 L965 625" stroke-width="1"/>
<path d="M807 627 L807 627 L807 627 L805 627 L805 627" stroke-width="0.9"/>
<path d="M981 627 L981 627 L981 627 L979 629 L979 629" stroke-width="0.9"/>
<path d="M979 629 L978 630 L977 631 L975 631 L974 631 L972 632 L971 633 L971 633" stroke-width="1"/>
<path d="M971 633 L969 633" stroke-width="1.1"/>
<path d="M969 633 L968 634 L967 635 L965 635 L965 636 L964 638 L963 639 L963 639" stroke-width="1.2"/>
<path d="M963 639 L962 640 L961 641 L959 641 L958 642 L956 644 L955 645 L953 645 L953 645" stroke-width="1.3"/>
<path d="M739 629 L739 629 L739 629 L741 631 L741 631" stroke-width="0.9"/>
<path d="M741 631 L743 633" stroke-width="1.2"/>
<path d="M743 633 L744 633 L745 633 L747 633 L748 633 L749 633 L749 633" stroke-width="1.3"/>
<path d="M749 633 L750 634 L751 635 L753 637 L753 637" stroke-width="1.4"/>
<path d="M753 637 L754 638 L755 639 L757 639 L757 639" stroke-width="1.8"/>
<path d="M849 629 L849 629 L849 629 L847 629 L846 630 L844 631 L843 631 L843 631" stroke-width="0.9"/>
<path d="M843 631 L842 631 L841 631 L839 631 L838 631 L836 632 L835 633 L835 633" stroke-width="1.1"/>
<path d="M835 633 L835 634 L835 635 L833 635 L832 636 L830 637 L829 637 L829 637" stroke-width="1.2"/>
<path d="M829 637 L828 637 L827 637 L825 635 L825 635" stroke-width="1.3"/>
<path d="M871 629 L871 629 L871 629 L873 631 L873 631" stroke-width="0.9"/>
<path d="M873 631 L873 632 L873 633 L873 635 L873 635" stroke-width="1"/>
<path d="M873 635 L873 636 L873 637 L873 639 L873 640 L873 641 L873 641" stroke-width="1.2"/>
<path d="M873 641 L872 642 L872 643 L873 645 L873 646 L873 648 L873 649 L875 651 L875 652 L876 654 L877 655 L877 655" stroke-width="1.3"/>
<path d="M877 655 L879 657" stroke-width="1.4"/>
<path d="M879 657 L881 657" stroke-width="1.5"/>
<path d="M881 657 L883 659" stroke-width="1.6"/>
<path d="M937 629 L937 629 L937 629 L939 631 L939 631" stroke-width="0.9"/>
<path d="M939 631 L939 632 L939 633 L937 635 L937 635" stroke-width="1.1"/>
<path d="M413 631 L413 631 L413 631 L415 633 L415 634 L414 636 L414 637 L415 639 L415 640 L414 642 L413 643 L411 645 L411 646 L411 648 L411 649 L413 649 L414 650 L416 652 L417 653 L419 653 L420 653 L422 654 L423 655 L423 657 L423 658 L423 660 L423 661 L423 661" stroke-width="2"/>
<path d="M735 631 L735 631 L735 631 L737 631 L738 631 L739 631 L739 631" stroke-width="1"/>
<path d="M739 631 L741 631" stroke-width="1.1"/>
<path d="M745 631 L745 631 L745 631 L747 633 L747 633" stroke-width="0.9"/>
<path d="M791 631 L791 631 L791 631 L789 631 L789 631" stroke-width="0.9"/>
<path d="M817 631 L817 631 L817 631 L815 633 L815 634 L815 635 L815 635" stroke-width="0.9"/>
<path d="M815 635 L814 636 L813 637 L811 639 L811 639" stroke-width="1"/>
<path d="M811 639 L811 640 L811 641 L811 643 L812 644 L813 645 L813 645" stroke-width="1.1"/>
<path d="M869 631 L869 631 L869 631 L871 633 L872 634 L873 635 L873 635" stroke-width="0.9"/>
<path d="M507 633 L507 633 L507 633 L505 635 L505 636 L505 638 L505 639 L507 639 L507 640 L507 642 L507 643 L505 643 L504 644 L504 646 L504 647 L503 649 L503 650 L502 652 L501 653 L499 655 L498 656 L496 657 L495 657 L493 659 L492 660 L490 662 L489 663 L487 663 L486 664 L484 666 L483 667 L483 669 L482 670 L480 671 L479 671 L477 671 L476 671 L474 671 L473 671 L471 671 L470 672 L468 674 L467 675 L465 677 L465 678 L465 680 L465 681 L465 681" stroke-width="2"/>
<path d="M819 633 L819 633 L819 633 L817 635 L817 636 L817 637 L817 637" stroke-width="0.9"/>
<path d="M817 637 L817 638 L817 639 L815 641 L815 642 L815 643 L815 643" stroke-width="1"/>
<path d="M883 633 L883 633 L883 633 L885 635 L885 635" stroke-width="0.9"/>
<path d="M721 635 L721 635 L721 635 L723 635 L723 635" stroke-width="1.3"/>
<path d="M723 635 L724 635 L725 635 L727 635 L728 635 L730 635 L731 635 L731 635" stroke-width="1.4"/>
<path d="M731 635 L732 635 L733 635 L735 635 L736 635 L738 634 L739 634 L741 635 L741 635" stroke-width="1.5"/>
<path d="M741 635 L742 635 L743 635 L745 635 L746 635 L748 635 L749 635 L751 637 L751 637" stroke-width="1.6"/>
<path d="M751 637 L753 637" stroke-width="1.7"/>
<path d="M901 635 L901 635 L901 635 L903 637 L903 637" stroke-width="1"/>
<path d="M903 637 L903 639" stroke-width="1.1"/>
<path d="M903 639 L904 640 L905 641 L907 643 L908 643 L910 644 L911 645 L911 645" stroke-width="1.2"/>
<path d="M911 645 L913 645" stroke-width="1.3"/>
<path d="M743 637 L743 637 L743 637 L745 637 L746 637 L747 637 L747 637" stroke-width="0.9"/>
<path d="M747 637 L748 637 L749 637 L751 637 L751 637" stroke-width="1"/>
<path d="M797 637 L797 637 L797 637 L795 637 L794 637 L793 637 L793 637" stroke-width="0.9"/>
<path d="M793 637 L791 637" stroke-width="1"/>
<path d="M529 639 L529 639 L529 639 L527 641 L526 642 L525 644 L525 645 L525 647 L524 648 L522 650 L521 651 L521 653 L520 653 L518 654 L517 655 L515 657 L514 658 L512 660 L511 661 L509 661 L508 662 L506 663 L505 663 L503 665 L502 666 L501 668 L501 669 L501 671 L501 672 L500 674 L499 675 L499 677 L498 678 L496 680 L495 681 L495 683 L494 684 L492 686 L491 687 L491 689 L491 689" stroke-width="2"/>
<path d="M731 639 L731 639 L731 639 L733 639 L734 639 L736 638 L737 637 L737 637" stroke-width="1.1"/>
<path d="M737 637 L738 637 L739 637 L741 635 L741 635" stroke-width="1.2"/>
<path d="M843 639 L843 639 L843 639 L841 637 L841 637" stroke-width="0.9"/>
<path d="M841 637 L840 637 L839 637 L837 637 L837 637" stroke-width="1"/>
<path d="M837 637 L836 637 L835 637 L833 639 L833 639" stroke-width="1.1"/>
<path d="M833 639 L832 640 L831 641 L829 643 L829 644 L829 645 L829 645" stroke-width="1.2"/>
<path d="M829 645 L828 645 L827 645 L825 645 L824 645 L822 645 L821 645 L821 645" stroke-width="1.3"/>
<path d="M821 645 L820 646 L819 647 L819 649 L818 649 L816 649 L815 649 L813 647 L813 647" stroke-width="1.4"/>
<path d="M813 647 L811 647" stroke-width="1.5"/>
<path d="M871 639 L871 639 L871 639 L873 641 L873 641" stroke-width="0.9"/>
<path d="M865 641 L865 641 L865 641 L867 643 L868 644 L869 645 L869 645" stroke-width="0.9"/>
<path d="M869 645 L871 647" stroke-width="1.1"/>
<path d="M871 647 L871 648 L871 649 L871 651 L872 652 L874 654 L875 655 L875 655" stroke-width="1.2"/>
<path d="M875 655 L876 656 L877 657 L879 657 L879 657" stroke-width="1.3"/>
<path d="M881 641 L881 641 L881 641 L883 643 L884 644 L885 645 L885 645" stroke-width="0.9"/>
<path d="M885 645 L886 646 L887 647 L889 649 L889 649" stroke-width="1"/>
<path d="M895 641 L895 641 L895 641 L893 643 L893 644 L893 646 L893 647 L893 647" stroke-width="0.9"/>
<path d="M893 647 L892 648 L891 649 L891 651 L891 651" stroke-width="1"/>
<path d="M891 651 L889 653" stroke-width="1.1"/>
<path d="M911 641 L911 641 L911 641 L911 643 L911 643" stroke-width="0.9"/>
<path d="M927 641 L927 641 L927 641 L927 643 L927 644 L927 645 L927 645" stroke-width="1"/>
<path d="M943 641 L943 641 L943 641 L943 643 L943 644 L943 646 L943 647 L943 649 L944 650 L945 651 L945 651" stroke-width="0.9"/>
<path d="M945 651 L945 652 L945 653 L945 655 L944 655 L943 655 L943 655" stroke-width="1"/>
<path d="M943 655 L942 656 L941 657 L939 659 L938 659 L937 659 L937 659" stroke-width="1.1"/>
<path d="M937 659 L936 659 L935 659 L933 659 L933 659" stroke-width="1.2"/>
<path d="M969 641 L969 641 L969 641 L968 643 L968 644 L969 646 L969 647 L969 647" stroke-width="0.9"/>
<path d="M969 647 L968 648 L967 649 L967 651 L967 652 L967 653 L967 653" stroke-width="1"/>
<path d="M967 653 L966 654 L965 655 L963 657 L963 657" stroke-width="1.2"/>
<path d="M963 657 L962 657 L961 657 L959 657 L959 657" stroke-width="1.3"/>
<path d="M959 657 L958 658 L957 659 L955 659 L954 659 L953 659 L953 659" stroke-width="1.4"/>
<path d="M953 659 L952 658 L951 658 L949 659 L948 659 L946 659 L945 659 L945 659" stroke-width="1.7"/>
<path d="M869 643 L869 643 L869 643 L869 645 L869 645" stroke-width="1"/>
<path d="M919 643 L919 643 L919 643 L919 645 L919 646 L919 647 L919 647" stroke-width="0.9"/>
<path d="M953 643 L953 643 L953 643 L953 645 L953 645" stroke-width="0.9"/>
<path d="M973 643 L973 643 L973 643 L974 645 L974 646 L972 648 L971 649 L971 649" stroke-width="0.9"/>
<path d="M971 649 L970 650 L969 651 L967 653 L967 653" stroke-width="1"/>
<path d="M789 645 L789 645 L789 645 L787 645 L787 645" stroke-width="0.9"/>
<path d="M787 645 L786 646 L785 647 L783 649 L783 650 L783 651 L783 651" stroke-width="1"/>
<path d="M783 651 L781 653" stroke-width="1.1"/>
<path d="M853 645 L853 645 L853 645 L855 647 L855 648 L855 650 L855 651 L855 651" stroke-width="0.9"/>
<path d="M855 651 L856 652 L857 653 L859 653 L860 654 L862 656 L863 657 L863 657" stroke-width="1"/>
<path d="M863 657 L864 658 L865 659 L867 661 L868 662 L869 663 L869 663" stroke-width="1.1"/>
<path d="M869 663 L870 663 L871 663 L873 663 L874 663 L876 663 L877 663 L877 663" stroke-width="1.2"/>
<path d="M877 663 L878 664 L879 665 L881 665 L882 665 L883 665 L883 665" stroke-width="1.3"/>
<path d="M737 647 L737 647 L737 647 L739 647 L739 647" stroke-width="0.9"/>
<path d="M739 647 L740 647 L741 647 L743 649 L743 649" stroke-width="1"/>
<path d="M743 649 L744 649 L745 649 L747 647 L747 647" stroke-width="1.1"/>
<path d="M747 647 L748 646 L749 645 L751 645 L752 645 L754 644 L755 643 L755 643" stroke-width="1.2"/>
<path d="M755 643 L756 642 L757 641 L759 641 L759 641" stroke-width="1.3"/>
<path d="M759 641 L761 641" stroke-width="1.5"/>
<path d="M831 647 L831 647 L831 647 L829 645 L829 645" stroke-width="1"/>
<path d="M755 649 L755 649 L755 649 L755 647 L755 647" stroke-width="0.9"/>
<path d="M755 647 L756 646 L757 645 L759 643 L759 642 L759 641 L759 641" stroke-width="1.2"/>
<path d="M797 649 L797 649 L797 649 L795 651 L794 652 L793 654 L793 655 L793 655" stroke-width="0.9"/>
<path d="M793 655 L792 656 L791 657 L789 659 L789 659" stroke-width="1"/>
<path d="M747 651 L747 651 L747 651 L749 649 L750 649 L752 648 L753 647 L753 647" stroke-width="0.9"/>
<path d="M753 647 L755 647" stroke-width="1.1"/>
<path d="M865 651 L865 651 L865 651 L867 651 L867 651" stroke-width="0.9"/>
<path d="M867 651 L868 652 L869 653 L871 653 L871 653" stroke-width="1"/>
<path d="M871 653 L872 654 L873 655 L875 657 L876 658 L878 659 L879 659 L881 659 L881 659" stroke-width="1.1"/>
<path d="M881 659 L881 661" stroke-width="1.2"/>
<path d="M935 651 L935 651 L935 651 L933 653 L933 653" stroke-width="0.9"/>
<path d="M933 653 L932 654 L931 655 L931 657 L931 657" stroke-width="1.1"/>
<path d="M771 653 L771 653 L771 653 L773 655 L774 655 L775 655 L775 655" stroke-width="0.9"/>
<path d="M851 653 L851 653 L851 653 L853 653 L853 653" stroke-width="0.9"/>
<path d="M853 653 L854 654 L855 655 L855 657 L855 658 L855 659 L855 659" stroke-width="1"/>
<path d="M855 659 L855 660 L855 661 L857 663 L857 664 L857 665 L857 665" stroke-width="1.1"/>
<path d="M857 665 L858 666 L858 667 L858 669 L858 670 L860 672 L861 673 L861 675 L861 676 L861 677 L861 677" stroke-width="1.3"/>
<path d="M861 677 L861 678 L861 679 L863 681 L863 681" stroke-width="1.4"/>
<path d="M863 681 L863 682 L863 683 L863 685 L864 686 L866 688 L867 689 L867 691 L867 692 L867 693 L867 693" stroke-width="1.5"/>
<path d="M867 693 L868 694 L869 695 L871 695 L871 695" stroke-width="1.6"/>
<path d="M871 695 L872 695 L873 695 L875 694 L876 694 L877 695 L877 695" stroke-width="1.7"/>
<path d="M877 695 L878 694 L879 693 L881 691 L882 690 L883 688 L883 687 L883 685 L884 685 L886 684 L887 683 L889 683 L890 683 L892 683 L893 683 L893 683" stroke-width="1.8"/>
<path d="M951 653 L951 653 L951 653 L949 655 L949 655" stroke-width="0.9"/>
<path d="M603 655 L603 655 L603 655 L603 657 L604 658 L604 660 L603 661 L603 663 L604 664 L605 666 L605 667 L605 669 L604 669 L603 670 L603 671 L601 673 L600 674 L599 676 L599 677 L597 679 L597 680 L596 682 L595 683 L595 685 L594 686 L593 688 L593 689 L594 691 L594 692 L594 694 L595 695 L597 695 L598 696 L600 698 L601 699 L603 701 L603 702 L603 704 L603 705 L603 707 L602 708 L600 709 L599 709 L597 711 L596 712 L595 714 L595 715 L595 715" stroke-width="2"/>
<path d="M787 655 L787 655 L787 655 L787 657 L787 657" stroke-width="0.9"/>
<path d="M881 655 L881 655 L881 655 L881 657 L881 657" stroke-width="1"/>
<path d="M727 657 L727 657 L727 657 L729 657 L730 658 L731 659 L731 659" stroke-width="1.2"/>
<path d="M731 659 L732 660 L733 661 L735 663 L736 663 L738 663 L739 663 L741 665 L741 665" stroke-width="1.3"/>
<path d="M741 665 L742 665 L743 665 L745 667 L746 667 L748 668 L749 668 L751 667 L752 667 L753 667 L753 667" stroke-width="1.5"/>
<path d="M753 667 L754 667 L755 667 L757 665 L758 665 L760 664 L761 663 L763 663 L764 663 L766 663 L767 663 L767 663" stroke-width="1.6"/>
<path d="M767 663 L768 662 L769 661 L771 659 L772 659 L774 660 L775 661 L775 661" stroke-width="1.7"/>
<path d="M771 657 L771 657 L771 657 L773 657 L773 657" stroke-width="0.9"/>
<path d="M773 657 L775 655" stroke-width="1"/>
<path d="M849 657 L849 657 L849 657 L851 659 L852 660 L853 661 L853 661" stroke-width="0.9"/>
<path d="M853 661 L853 662 L853 663 L855 663 L856 664 L857 665 L857 665" stroke-width="1"/>
<path d="M889 657 L889 657 L889 657 L887 659 L887 659" stroke-width="0.9"/>
<path d="M887 659 L885 659" stroke-width="1"/>
<path d="M909 657 L909 657 L909 657 L911 657 L912 657 L913 657 L913 657" stroke-width="0.9"/>
<path d="M913 657 L915 655" stroke-width="1"/>
<path d="M915 655 L916 655 L917 655 L919 655 L919 655" stroke-width="1.1"/>
<path d="M919 655 L919 657" stroke-width="1.2"/>
<path d="M919 657 L921 659" stroke-width="1.3"/>
<path d="M955 657 L955 657 L955 657 L953 659 L953 659" stroke-width="0.9"/>
<path d="M793 659 L793 659 L793 659 L791 659 L791 659" stroke-width="0.9"/>
<path d="M813 659 L813 659 L813 659 L811 659 L811 659" stroke-width="0.9"/>
<path d="M811 659 L810 660 L809 661 L807 663 L806 664 L804 666 L803 667 L803 667" stroke-width="1"/>
<path d="M803 667 L802 667 L801 667 L799 665 L799 665" stroke-width="1.1"/>
<path d="M799 665 L798 665 L797 665 L795 663 L794 663 L792 664 L791 665 L791 665" stroke-width="1.2"/>
<path d="M791 665 L790 666 L789 667 L787 669 L787 669" stroke-width="1.3"/>
<path d="M823 659 L823 659 L823 659 L821 661 L821 662 L821 663 L821 663" stroke-width="1"/>
<path d="M821 663 L820 664 L819 665 L819 667 L819 667" stroke-width="1.1"/>
<path d="M819 667 L818 668 L817 669 L817 671 L817 672 L817 673 L817 673" stroke-width="1.2"/>
<path d="M817 673 L816 673 L815 673 L813 671 L813 671" stroke-width="1.4"/>
<path d="M813 671 L812 671 L811 671 L809 670 L808 670 L806 670 L805 669 L805 669" stroke-width="1.5"/>
<path d="M805 669 L804 669 L803 669 L801 671 L800 671 L798 670 L797 669 L795 669 L794 669 L792 669 L791 669 L789 671 L789 671" stroke-width="1.6"/>
<path d="M897 659 L897 659 L897 659 L895 661 L894 662 L893 664 L893 665 L895 667 L895 667" stroke-width="0.9"/>
<path d="M895 667 L895 668 L895 669 L897 671 L897 671" stroke-width="1"/>
<path d="M897 671 L897 673" stroke-width="1.2"/>
<path d="M897 673 L897 674 L897 675 L896 677 L896 678 L897 679 L897 679" stroke-width="1.3"/>
<path d="M743 661 L743 661 L743 661 L745 663 L746 663 L747 663 L747 663" stroke-width="0.9"/>
<path d="M747 663 L748 664 L749 665 L751 665 L752 666 L753 667 L753 667" stroke-width="1"/>
<path d="M841 661 L841 661 L841 661 L843 663 L843 663" stroke-width="0.9"/>
<path d="M843 663 L844 664 L845 665 L845 667 L846 668 L847 669 L847 669" stroke-width="1"/>
<path d="M847 669 L847 670 L847 671 L847 673 L847 674 L847 676 L847 677 L846 679 L846 680 L847 681 L847 681" stroke-width="1.2"/>
<path d="M847 681 L846 682 L846 683 L847 685 L847 686 L847 687 L847 687" stroke-width="1.3"/>
<path d="M847 687 L849 689" stroke-width="1.4"/>
<path d="M849 689 L848 690 L847 691 L847 693 L847 694 L847 696 L847 697 L847 699 L847 699" stroke-width="1.5"/>
<path d="M847 699 L848 700 L849 701 L851 703 L851 704 L851 705 L851 705" stroke-width="1.8"/>
<path d="M757 663 L757 663 L757 663 L759 665 L759 665" stroke-width="0.9"/>
<path d="M917 663 L917 663 L917 663 L919 661 L919 661" stroke-width="0.9"/>
<path d="M919 661 L921 659" stroke-width="1"/>
<path d="M435 665 L435 665 L435 665 L435 667 L435 667" stroke-width="1.8"/>
<path d="M733 665 L733 665 L733 665 L735 665 L736 665 L738 665 L739 665 L739 665" stroke-width="1.1"/>
<path d="M739 665 L741 665" stroke-width="1.2"/>
<path d="M849 665 L849 665 L849 665 L849 667 L848 668 L847 669 L847 669" stroke-width="0.9"/>
<path d="M901 667 L901 667 L901 667 L899 669 L899 669" stroke-width="0.9"/>
<path d="M899 669 L897 671" stroke-width="1.1"/>
<path d="M945 667 L945 667 L945 667 L943 665 L942 664 L941 663 L941 663" stroke-width="0.9"/>
<path d="M821 669 L821 669 L821 669 L821 671 L821 671" stroke-width="0.9"/>
<path d="M821 671 L819 673" stroke-width="1"/>
<path d="M819 673 L817 673" stroke-width="1.2"/>
<path d="M469 671 L469 671 L469 671 L469 673 L469 673" stroke-width="1.9"/>
<path d="M825 671 L825 671 L825 671 L823 673 L822 673 L820 673 L819 673 L819 673" stroke-width="0.9"/>
<path d="M879 671 L879 671 L879 671 L881 673 L881 673" stroke-width="0.9"/>
<path d="M881 673 L882 674 L883 675 L885 675 L885 675" stroke-width="1.2"/>
<path d="M921 671 L921 671 L921 671 L923 671 L923 671" stroke-width="0.9"/>
<path d="M739 673 L739 673 L739 673 L741 673 L742 674 L743 675 L743 675" stroke-width="1"/>
<path d="M743 675 L744 675 L745 675 L747 675 L748 674 L750 674 L751 675 L751 675" stroke-width="1.1"/>
<path d="M751 675 L752 676 L753 677 L755 677 L755 677" stroke-width="1.2"/>
<path d="M795 673 L795 673 L795 673 L793 675 L793 675" stroke-width="0.9"/>
<path d="M873 673 L873 673 L873 673 L875 674 L876 674 L877 673 L877 673" stroke-width="1"/>
<path d="M877 673 L878 673 L879 673 L881 673 L881 673" stroke-width="1.1"/>
<path d="M811 675 L811 675 L811 675 L811 673 L811 672 L811 671 L811 671" stroke-width="0.9"/>
<path d="M831 675 L831 675 L831 675 L831 677 L831 677" stroke-width="0.9"/>
<path d="M831 677 L830 678 L829 679 L829 681 L829 681" stroke-width="1"/>
<path d="M829 681 L827 681" stroke-width="1.1"/>
<path d="M827 681 L825 683" stroke-width="1.2"/>
<path d="M825 683 L826 684 L827 685 L829 685 L829 685" stroke-width="1.3"/>
<path d="M829 685 L830 685 L831 685 L833 687 L833 688 L833 690 L833 691 L833 691" stroke-width="1.4"/>
<path d="M833 691 L834 692 L835 693 L837 695 L838 695 L839 695 L839 695" stroke-width="1.5"/>
<path d="M839 695 L840 696 L841 697 L843 698 L844 698 L846 698 L847 699 L847 699" stroke-width="1.6"/>
<path d="M839 675 L839 675 L839 675 L839 677 L839 677" stroke-width="0.9"/>
<path d="M839 677 L839 678 L839 679 L841 681 L842 682 L843 683 L843 683" stroke-width="1"/>
<path d="M843 683 L844 684 L845 685 L847 687 L847 687" stroke-width="1.1"/>
<path d="M859 675 L859 675 L859 675 L861 677 L861 677" stroke-width="0.9"/>
<path d="M903 675 L903 675 L903 675 L903 677 L903 677" stroke-width="0.9"/>
<path d="M903 677 L903 678 L903 679 L903 681 L904 682 L905 683 L905 683" stroke-width="1.1"/>
<path d="M905 683 L907 685" stroke-width="1.2"/>
<path d="M927 675 L927 675 L927 675 L925 677 L925 677" stroke-width="0.9"/>
<path d="M835 677 L835 677 L835 677 L833 679 L832 680 L830 681 L829 681 L829 681" stroke-width="0.9"/>
<path d="M735 679 L735 679 L735 679 L737 681 L737 681" stroke-width="1"/>
<path d="M737 681 L738 682 L739 683 L739 685 L739 685" stroke-width="1.1"/>
<path d="M739 685 L741 687" stroke-width="1.2"/>
<path d="M851 679 L851 679 L851 679 L851 681 L851 682 L851 683 L851 683" stroke-width="0.9"/>
<path d="M851 683 L851 684 L851 685 L849 687 L849 688 L849 689 L849 689" stroke-width="1"/>
<path d="M881 681 L881 681 L881 681 L883 681 L883 681" stroke-width="0.9"/>
<path d="M883 681 L884 681 L885 681 L887 679 L887 679" stroke-width="1"/>
<path d="M909 681 L909 681 L909 681 L909 683 L909 683" stroke-width="0.9"/>
<path d="M909 683 L909 684 L909 685 L909 687 L908 688 L907 689 L907 689" stroke-width="1"/>
<path d="M941 681 L941 681 L941 681 L939 679 L938 678 L937 677 L937 677" stroke-width="0.9"/>
<path d="M937 677 L939 675" stroke-width="1"/>
<path d="M939 675 L938 674 L937 673 L937 671 L936 671 L934 670 L933 669 L933 667 L933 667" stroke-width="1.1"/>
<path d="M933 667 L932 666 L931 665 L929 663 L928 662 L927 661 L927 661" stroke-width="1.2"/>
<path d="M497 683 L497 683 L497 683 L495 683 L495 683" stroke-width="1.3"/>
<path d="M685 683 L685 683 L685 683 L683 685 L683 686 L683 688 L683 689 L685 691 L686 692 L688 692 L689 691 L691 691 L692 691 L694 690 L695 690 L697 691 L698 691 L700 691 L701 691 L703 691 L704 690 L706 689 L707 689 L709 688 L710 688 L712 689 L713 689 L713 691 L714 692 L716 693 L717 693 L719 693 L720 694 L722 696 L723 697 L725 699 L725 699" stroke-width="2"/>
<path d="M911 685 L911 685 L911 685 L911 687 L911 687" stroke-width="0.9"/>
<path d="M911 687 L911 688 L911 689 L913 691 L913 691" stroke-width="1"/>
<path d="M521 687 L521 687 L521 687 L521 689 L521 690 L521 692 L521 693 L519 695 L519 695" stroke-width="1.5"/>
<path d="M519 695 L519 697" stroke-width="1.6"/>
<path d="M815 687 L815 687 L815 687 L813 689 L813 689" stroke-width="0.9"/>
<path d="M813 689 L811 691" stroke-width="1"/>
<path d="M811 691 L809 693" stroke-width="1.1"/>
<path d="M869 687 L869 687 L869 687 L871 689 L871 689" stroke-width="0.9"/>
<path d="M871 689 L871 690 L871 691 L873 693 L874 693 L875 693 L875 693" stroke-width="1"/>
<path d="M505 689 L505 689 L505 689 L503 691 L503 692 L503 693 L503 693" stroke-width="1"/>
<path d="M717 689 L717 689 L717 689 L719 691 L719 692 L719 693 L719 693" stroke-width="1.5"/>
<path d="M957 689 L957 689 L957 689 L957 687 L957 686 L957 685 L957 685" stroke-width="0.9"/>
<path d="M957 685 L958 684 L958 683 L957 681 L957 680 L957 679 L957 679" stroke-width="1.1"/>
<path d="M957 679 L957 678 L957 677 L958 675 L958 674 L956 672 L955 671 L955 671" stroke-width="1.3"/>
<path d="M955 671 L956 670 L956 669 L956 667 L956 666 L957 665 L957 665" stroke-width="1.4"/>
<path d="M957 665 L957 664 L957 663 L955 661 L954 660 L953 659 L953 659" stroke-width="1.5"/>
<path d="M529 691 L529 691 L529 691 L529 693 L529 694 L529 695 L529 695" stroke-width="1.2"/>
<path d="M529 695 L528 696 L527 697 L525 699 L525 699" stroke-width="1.3"/>
<path d="M539 691 L539 691 L539 691 L539 693 L538 694 L536 696 L535 697 L533 699 L532 700 L531 701 L531 701" stroke-width="1.5"/>
<path d="M855 691 L855 691 L855 691 L855 693 L855 693" stroke-width="0.9"/>
<path d="M855 693 L856 693 L857 693 L859 693 L859 693" stroke-width="1.1"/>
<path d="M859 693 L860 693 L861 693 L863 693 L864 693 L866 693 L867 693 L867 693" stroke-width="1.2"/>
<path d="M517 693 L517 693 L517 693 L519 695 L519 695" stroke-width="1"/>
<path d="M531 693 L531 693 L531 693 L531 695 L531 696 L531 697 L531 697" stroke-width="1.1"/>
<path d="M531 697 L531 698 L531 699 L531 701 L531 701" stroke-width="1.2"/>
<path d="M827 693 L827 693 L827 693 L829 693 L829 693" stroke-width="0.9"/>
<path d="M829 693 L830 692 L831 691 L833 691 L833 691" stroke-width="1"/>
<path d="M839 693 L839 693 L839 693 L839 695 L839 695" stroke-width="0.9"/>
<path d="M943 693 L943 693 L943 693 L941 693 L941 693" stroke-width="0.9"/>
<path d="M941 693 L939 693" stroke-width="1"/>
<path d="M939 693 L937 691" stroke-width="1.1"/>
<path d="M937 691 L936 690 L935 689 L933 689 L933 688 L933 687 L933 687" stroke-width="1.2"/>
<path d="M933 687 L932 686 L931 686 L929 687 L928 687 L927 687 L927 687" stroke-width="1.3"/>
<path d="M927 687 L926 688 L925 689 L923 691 L922 691 L920 692 L919 693 L917 693 L916 694 L915 695 L915 695" stroke-width="1.4"/>
<path d="M915 695 L913 697" stroke-width="1.5"/>
<path d="M525 695 L525 695 L525 695 L525 697 L525 698 L525 699 L525 699" stroke-width="1"/>
<path d="M651 695 L651 695 L651 695 L651 697 L651 698 L651 700 L651 701 L653 703 L654 704 L655 706 L655 707 L653 709 L653 710 L652 712 L651 713 L651 715 L652 716 L653 718 L653 719 L653 721 L653 722 L653 723 L653 723" stroke-width="2"/>
<path d="M867 695 L867 695 L867 695 L869 695 L869 695" stroke-width="0.9"/>
<path d="M889 695 L889 695 L889 695 L887 693 L887 692 L887 691 L887 691" stroke-width="0.9"/>
<path d="M887 691 L886 691 L885 691 L883 689 L883 689" stroke-width="1"/>
<path d="M925 695 L925 695 L925 695 L923 693 L923 693" stroke-width="0.9"/>
<path d="M923 693 L922 693 L921 693 L919 695 L919 695" stroke-width="1"/>
<path d="M919 695 L918 695 L917 695 L915 695 L915 695" stroke-width="1.1"/>
<path d="M551 697 L551 697 L551 697 L549 699 L549 700 L549 701 L549 701" stroke-width="1.3"/>
<path d="M549 701 L549 703" stroke-width="1.4"/>
<path d="M549 703 L549 705" stroke-width="1.5"/>
<path d="M831 697 L831 697 L831 697 L831 695 L832 694 L834 693 L835 693 L835 693" stroke-width="1"/>
<path d="M839 697 L839 697 L839 697 L841 697 L841 697" stroke-width="0.9"/>
<path d="M543 699 L543 699 L543 699 L543 701 L542 702 L541 703 L541 703" stroke-width="1"/>
<path d="M553 699 L553 699 L553 699 L551 701 L550 702 L549 703 L549 703" stroke-width="1.1"/>
<path d="M933 699 L933 699 L933 699 L931 699 L930 700 L929 701 L929 701" stroke-width="0.9"/>
<path d="M929 701 L928 702 L927 703 L925 705 L925 706 L925 707 L925 707" stroke-width="1"/>
<path d="M925 707 L924 707 L923 707 L921 709 L921 709" stroke-width="1.2"/>
<path d="M921 709 L920 710 L919 711 L917 713 L917 713" stroke-width="1.3"/>
<path d="M917 713 L916 714 L915 715 L915 717 L915 717" stroke-width="1.4"/>
<path d="M541 701 L541 701 L541 701 L541 703 L541 703" stroke-width="0.8"/>
<path d="M567 701 L567 701 L567 701 L565 703 L565 704 L564 706 L563 707 L563 709 L563 709" stroke-width="1.2"/>
<path d="M895 701 L895 701 L895 701 L897 701 L898 702 L899 704 L899 705 L899 705" stroke-width="0.9"/>
<path d="M899 705 L901 707" stroke-width="1"/>
<path d="M901 707 L902 708 L903 709 L905 709 L906 710 L907 711 L907 711" stroke-width="1.8"/>
<path d="M901 701 L901 701 L901 701 L903 702 L904 702 L905 701 L905 701" stroke-width="0.9"/>
<path d="M905 701 L907 703" stroke-width="1.1"/>
<path d="M557 703 L557 703 L557 703 L555 703 L554 704 L553 705 L553 705" stroke-width="1.1"/>
<path d="M553 705 L553 707" stroke-width="1.2"/>
<path d="M579 703 L579 703 L579 703 L579 705 L579 706 L578 708 L577 709 L577 711 L577 711" stroke-width="1.4"/>
<path d="M871 705 L871 705 L871 705 L869 703 L869 703" stroke-width="0.9"/>
<path d="M869 703 L869 702 L869 701 L869 699 L869 698 L869 697 L869 697" stroke-width="1"/>
<path d="M869 697 L871 695" stroke-width="1.1"/>
<path d="M913 705 L913 705 L913 705 L911 707 L911 707" stroke-width="0.9"/>
<path d="M921 705 L921 705 L921 705 L920 707 L920 708 L921 709 L921 709" stroke-width="0.9"/>
<path d="M617 707 L617 707 L617 707 L615 709 L615 710 L615 711 L615 711" stroke-width="1.6"/>
<path d="M615 711 L614 712 L613 713 L611 715 L611 716 L611 717 L611 717" stroke-width="1.7"/>
<path d="M863 707 L863 707 L863 707 L861 707 L861 707" stroke-width="0.9"/>
<path d="M927 707 L927 707 L927 707 L925 707 L925 707" stroke-width="1"/>
<path d="M949 707 L949 707 L949 707 L951 709 L952 710 L953 711 L953 711" stroke-width="1"/>
<path d="M953 711 L955 711" stroke-width="1.1"/>
<path d="M591 711 L591 711 L591 711 L591 713 L591 713" stroke-width="1.1"/>
<path d="M611 713 L611 713 L611 713 L611 715 L611 715" stroke-width="1.1"/>
<path d="M905 713 L905 713 L905 713 L907 711 L907 711" stroke-width="0.9"/>
<path d="M919 713 L919 713 L919 713 L917 713 L917 713" stroke-width="0.9"/>
<path d="M631 715 L631 715 L631 715 L631 717 L631 717" stroke-width="1.1"/>
<path d="M631 717 L632 718 L633 719 L633 721 L633 721" stroke-width="1.2"/>
<path d="M909 715 L909 715 L909 715 L909 713 L909 713" stroke-width="0.9"/>
<path d="M935 715 L935 715 L935 715 L935 717 L935 717" stroke-width="0.9"/>
<path d="M935 717 L935 719" stroke-width="1"/>
<path d="M935 719 L935 721" stroke-width="1.1"/>
<path d="M873 717 L873 717 L873 717 L875 715 L875 715" stroke-width="0.9"/>
<path d="M875 715 L876 714 L877 713 L879 711 L879 711" stroke-width="1"/>
<path d="M879 711 L880 711 L881 711 L883 712 L884 712 L886 711 L887 711 L889 711 L889 711" stroke-width="1.1"/>
<path d="M889 711 L890 712 L891 713 L893 713 L894 713 L895 713 L895 713" stroke-width="1.2"/>
<path d="M895 713 L896 712 L897 711 L899 709 L900 708 L901 707 L901 707" stroke-width="1.7"/>
<path d="M893 717 L893 717 L893 717 L895 715 L895 715" stroke-width="0.9"/>
<path d="M895 715 L895 713" stroke-width="1.6"/>
<path d="M933 717 L933 717 L933 717 L935 719 L935 719" stroke-width="0.9"/>
<path d="M893 721 L893 721 L893 721 L895 719 L895 719" stroke-width="0.9"/>
<path d="M895 719 L895 718 L895 717 L895 715 L895 715" stroke-width="1.6"/>
<path d="M877 727 L877 727 L877 727 L879 727 L880 727 L881 727 L881 727" stroke-width="1"/>
<path d="M881 727 L882 726 L883 725 L885 725 L886 725 L888 726 L889 727 L889 727" stroke-width="1.1"/>
<path d="M889 727 L889 729" stroke-width="1.2"/>
<path d="M889 729 L890 729 L891 729 L893 731 L893 731" stroke-width="1.3"/>
<path d="M893 731 L894 730 L895 729 L895 727 L896 726 L897 724 L897 723 L895 721 L895 720 L895 719 L895 719" stroke-width="1.5"/>
<path d="M887 729 L887 729 L887 729 L889 729 L889 729" stroke-width="0.9"/>
<path d="M879 737 L879 737 L879 737 L881 739 L881 739" stroke-width="0.9"/>
<path d="M881 739 L882 738 L883 737 L885 737 L886 737 L887 737 L887 737" stroke-width="1.1"/>
<path d="M887 737 L888 736 L889 735 L891 733 L892 732 L893 731 L893 731" stroke-width="1.2"/>
</g>
<path d="M760 404 L800 410 L840 418 L880 432" fill="none" stroke="#5a5a5a" stroke-width="4" stroke-linecap="round" filter="url(#b3)" opacity="0.8"/>
<path d="M790 426 L840 430 L880 442 L920 452" fill="none" stroke="#666666" stroke-width="3" stroke-linecap="round" filter="url(#b3)" opacity="0.8"/>
<path d="M830 396 L880 408 L930 424 L965 440" fill="none" stroke="#606060" stroke-width="3" stroke-linecap="round" filter="url(#b3)" opacity="0.8"/>
<path d="M720 488 L770 490 L820 486 L870 494 L905 500" fill="none" stroke="#5e5e5e" stroke-width="4" stroke-linecap="round" filter="url(#b3)" opacity="0.8"/>
<path d="M640 470 L680 480 L700 488" fill="none" stroke="#5a5a5a" stroke-width="4" stroke-linecap="round" filter="url(#b3)" opacity="0.8"/>
<g fill="#c4c4c4" filter="url(#b12)" opacity="0.8"><path d="M660 400 L745 388 L800 405 L860 430 L900 455 L880 492 L800 488 L720 486 L680 470 Z"/></g>
<g fill="#dadada" filter="url(#b8)"><path d="M672 402 L740 394 L767 405 L790 421 L812 440 L840 443 L862 449 L882 456 L893 467 L872 483 L850 478 L820 473 L788 478 L727 478 L700 473 L676 455 Z"/></g>
</g>
<g fill="#38b010" stroke="#082c08" stroke-width="1.7">
<circle cx="619.3" cy="561.2" r="6.7"/>
<circle cx="532.1" cy="568.3" r="8.6"/>
<circle cx="615.8" cy="597.6" r="10.7"/>
<circle cx="605.9" cy="559.8" r="10.7"/>
<circle cx="506.2" cy="604.7" r="6.1"/>
<circle cx="420" cy="546.7" r="9.2"/>
<circle cx="420.8" cy="609.3" r="10.7"/>
<circle cx="436.5" cy="574.4" r="6.1"/>
<circle cx="597.7" cy="474.2" r="9.2"/>
<circle cx="619.3" cy="445.6" r="7.6"/>
<circle cx="623.3" cy="579.7" r="10.7"/>
<circle cx="466.7" cy="557.8" r="9.2"/>
<circle cx="647.9" cy="580.1" r="6.7"/>
<circle cx="566.6" cy="583.5" r="7.6"/>
<circle cx="461.3" cy="569" r="6.7"/>
<circle cx="418.9" cy="639.1" r="9.2"/>
<circle cx="612.2" cy="499.9" r="10.7"/>
<circle cx="469" cy="488.3" r="10.7"/>
<circle cx="489.4" cy="543.8" r="10.7"/>
<circle cx="387" cy="489" r="6.7"/>
<circle cx="471.5" cy="579.6" r="8.6"/>
<circle cx="479.4" cy="592.6" r="6.7"/>
<circle cx="484.8" cy="516.1" r="8.6"/>
<circle cx="406.6" cy="522.3" r="9.2"/>
<circle cx="545.8" cy="652.4" r="8.6"/>
<circle cx="533.6" cy="535.6" r="10.7"/>
<circle cx="552.2" cy="608.2" r="8.6"/>
<circle cx="594.8" cy="582.1" r="6.7"/>
<circle cx="621.9" cy="461.3" r="8.6"/>
<circle cx="664" cy="560.5" r="8.6"/>
<circle cx="483.6" cy="560.6" r="7.6"/>
<circle cx="526.4" cy="555.5" r="9.2"/>
<circle cx="465.3" cy="531.4" r="6.1"/>
<circle cx="407.9" cy="543.6" r="9.2"/>
<circle cx="418.4" cy="524.8" r="7.6"/>
<circle cx="557" cy="499.4" r="9.2"/>
<circle cx="585" cy="532.4" r="9.2"/>
<circle cx="400" cy="534.1" r="6.7"/>
<circle cx="442.8" cy="619.2" r="6.1"/>
<circle cx="524.3" cy="667.9" r="6.1"/>
<circle cx="533.6" cy="504.5" r="10.7"/>
<circle cx="575.1" cy="573.8" r="6.1"/>
<circle cx="537.6" cy="579.4" r="8.6"/>
<circle cx="613" cy="545.3" r="9.2"/>
<circle cx="521" cy="580.8" r="6.7"/>
<circle cx="423.1" cy="549.9" r="8.6"/>
<circle cx="503.3" cy="518.5" r="8.6"/>
<circle cx="460.5" cy="588.8" r="6.1"/>
<circle cx="704" cy="506.7" r="6.1"/>
<circle cx="516.3" cy="520.6" r="10.7"/>
<circle cx="647.8" cy="531.2" r="10.7"/>
<circle cx="617.8" cy="472" r="7.6"/>
<circle cx="647.8" cy="486.3" r="7.6"/>
<circle cx="401.9" cy="550.4" r="6.7"/>
<circle cx="624.2" cy="521.9" r="6.7"/>
<circle cx="563.7" cy="560.8" r="7.6"/>
<circle cx="452.4" cy="518.9" r="6.1"/>
<circle cx="658.7" cy="637.6" r="6.7"/>
<circle cx="515.4" cy="569" r="10.7"/>
<circle cx="543.4" cy="594.6" r="10.7"/>
<circle cx="598.3" cy="522.2" r="9.2"/>
<circle cx="454.4" cy="486.3" r="8.6"/>
<circle cx="505.2" cy="545.2" r="6.7"/>
<circle cx="529.9" cy="596.2" r="8.6"/>
<circle cx="452.2" cy="576.3" r="6.1"/>
<circle cx="512.9" cy="630.8" r="9.2"/>
<circle cx="570" cy="621.5" r="9.2"/>
<circle cx="574.5" cy="638.4" r="6.7"/>
<circle cx="634.9" cy="508.6" r="8.6"/>
<circle cx="627" cy="462.7" r="7.6"/>
<circle cx="460.2" cy="595.4" r="9.2"/>
<circle cx="536.5" cy="640.5" r="8.6"/>
<circle cx="447.8" cy="618.4" r="8.6"/>
<circle cx="472" cy="548.5" r="9.2"/>
<circle cx="501.7" cy="579.1" r="6.7"/>
<circle cx="603.6" cy="619.8" r="7.6"/>
<circle cx="538.4" cy="634.3" r="6.7"/>
<circle cx="472.6" cy="499.7" r="7.6"/>
<circle cx="459.4" cy="621.8" r="6.7"/>
<circle cx="510.7" cy="506.1" r="10.7"/>
<circle cx="524.6" cy="606.3" r="7.6"/>
<circle cx="486.3" cy="495.2" r="9.2"/>
<circle cx="550.2" cy="510.9" r="9.2"/>
<circle cx="500.3" cy="621.7" r="6.1"/>
<circle cx="596.2" cy="608.9" r="6.7"/>
<circle cx="410.6" cy="560.5" r="9.2"/>
<circle cx="699.7" cy="530.4" r="6.7"/>
<circle cx="492" cy="603.4" r="10.7"/>
<circle cx="656.3" cy="488.4" r="6.7"/>
<circle cx="452.4" cy="556.1" r="9.2"/>
<circle cx="545.3" cy="559" r="7.6"/>
<circle cx="537.7" cy="491.4" r="10.7"/>
<circle cx="628.9" cy="567.8" r="8.6"/>
<circle cx="443.1" cy="472.5" r="10.7"/>
<circle cx="493.7" cy="505.3" r="10.7"/>
<circle cx="410.5" cy="509.7" r="9.2"/>
<circle cx="654.9" cy="498.5" r="8.6"/>
<circle cx="622.7" cy="575.7" r="9.2"/>
<circle cx="643.3" cy="597.7" r="7.6"/>
<circle cx="626.6" cy="596.9" r="9.2"/>
<circle cx="428.5" cy="560.2" r="8.6"/>
<circle cx="502.1" cy="619.5" r="9.2"/>
<circle cx="684.4" cy="471.7" r="7.6"/>
<circle cx="414.7" cy="531.4" r="7.6"/>
<circle cx="637.2" cy="606.8" r="7.6"/>
<circle cx="529.8" cy="519.7" r="10.7"/>
<circle cx="563.9" cy="628.5" r="7.6"/>
<circle cx="603.1" cy="473.9" r="9.2"/>
<circle cx="628" cy="449.4" r="6.7"/>
<circle cx="439.1" cy="606.2" r="8.6"/>
<circle cx="520.2" cy="545.9" r="8.6"/>
<circle cx="588.1" cy="568.4" r="9.2"/>
<circle cx="559.5" cy="569" r="6.7"/>
<circle cx="606.1" cy="551.3" r="9.2"/>
<circle cx="512" cy="535.3" r="8.6"/>
<circle cx="586.4" cy="618.6" r="8.6"/>
<circle cx="524.2" cy="657.8" r="6.7"/>
<circle cx="521.2" cy="583.1" r="9.2"/>
<circle cx="620.9" cy="559.2" r="7.6"/>
<circle cx="670.3" cy="531.2" r="10.7"/>
<circle cx="388.8" cy="514.9" r="10.7"/>
<circle cx="622.2" cy="611" r="10.7"/>
<circle cx="584.3" cy="475.4" r="7.6"/>
<circle cx="564.6" cy="534.9" r="10.7"/>
<circle cx="595.2" cy="485.4" r="6.7"/>
<circle cx="473.8" cy="521.1" r="10.7"/>
<circle cx="390.5" cy="519.4" r="9.2"/>
<circle cx="432.5" cy="473.2" r="8.6"/>
<circle cx="568.4" cy="508.4" r="9.2"/>
<circle cx="602" cy="619.1" r="7.6"/>
<circle cx="661.1" cy="519.9" r="6.7"/>
<circle cx="674.3" cy="610" r="7.6"/>
<circle cx="639.5" cy="610.7" r="7.6"/>
<circle cx="500.3" cy="595.3" r="6.1"/>
<circle cx="564.9" cy="534.9" r="6.1"/>
<circle cx="504.7" cy="523.9" r="9.2"/>
<circle cx="642" cy="474.5" r="7.6"/>
<circle cx="641.8" cy="568.2" r="8.6"/>
<circle cx="663.3" cy="446.4" r="6.7"/>
<circle cx="515.3" cy="596.9" r="6.7"/>
<circle cx="588.7" cy="475.8" r="9.2"/>
<circle cx="504.1" cy="570.4" r="9.2"/>
<circle cx="514.4" cy="622.9" r="6.1"/>
<circle cx="579" cy="619.6" r="8.6"/>
<circle cx="660.7" cy="456.3" r="6.1"/>
<circle cx="443.7" cy="561.2" r="6.7"/>
<circle cx="612.5" cy="619.8" r="10.7"/>
<circle cx="586.6" cy="490.7" r="7.6"/>
<circle cx="516.9" cy="654.6" r="10.7"/>
<circle cx="580.1" cy="531.8" r="7.6"/>
<circle cx="497.2" cy="531" r="6.7"/>
<circle cx="658.2" cy="549.4" r="10.7"/>
<circle cx="672.1" cy="521.5" r="6.7"/>
<circle cx="445.6" cy="499.5" r="10.7"/>
<circle cx="612.7" cy="569.3" r="8.6"/>
<circle cx="641" cy="640" r="6.7"/>
<circle cx="445.6" cy="570.8" r="7.6"/>
<circle cx="603.6" cy="515" r="10.7"/>
<circle cx="507.3" cy="550.7" r="6.1"/>
<circle cx="600.7" cy="590.6" r="7.6"/>
<circle cx="646.4" cy="563.7" r="9.2"/>
<circle cx="638.6" cy="459.6" r="6.7"/>
<circle cx="461.4" cy="472.7" r="8.6"/>
<circle cx="629.7" cy="444.8" r="6.1"/>
<circle cx="571.5" cy="543.9" r="7.6"/>
<circle cx="379.1" cy="559.6" r="6.1"/>
<circle cx="564.6" cy="654.6" r="6.7"/>
<circle cx="546.2" cy="568.3" r="7.6"/>
<circle cx="540" cy="607.6" r="8.6"/>
<circle cx="552.3" cy="607" r="8.6"/>
<circle cx="428.2" cy="594.5" r="9.2"/>
<circle cx="617" cy="498.7" r="10.7"/>
<circle cx="551.5" cy="632.7" r="8.6"/>
<circle cx="496.1" cy="511.9" r="9.2"/>
<circle cx="459" cy="545.3" r="7.6"/>
<circle cx="421.1" cy="514.9" r="6.7"/>
<circle cx="601.3" cy="546" r="7.6"/>
<circle cx="544.3" cy="520.2" r="8.6"/>
<circle cx="656.5" cy="575.7" r="6.1"/>
<circle cx="585.6" cy="548.2" r="7.6"/>
<circle cx="550.1" cy="535.6" r="10.7"/>
<circle cx="369.4" cy="545.9" r="6.7"/>
<circle cx="569.5" cy="603.9" r="8.6"/>
<circle cx="412.1" cy="625.3" r="10.7"/>
<circle cx="447.6" cy="521.1" r="9.2"/>
<circle cx="594.7" cy="647.5" r="7.6"/>
<circle cx="581.8" cy="594.5" r="6.1"/>
<circle cx="505.8" cy="593.1" r="6.7"/>
<circle cx="630.3" cy="560.5" r="7.6"/>
<circle cx="624.5" cy="507.6" r="7.6"/>
<circle cx="510.5" cy="508.3" r="6.7"/>
<circle cx="531.2" cy="495.8" r="7.6"/>
<circle cx="603.7" cy="604.4" r="10.7"/>
<circle cx="349.9" cy="520.4" r="6.7"/>
<circle cx="508.8" cy="535.1" r="6.7"/>
<circle cx="686.8" cy="559.1" r="9.2"/>
<circle cx="525.4" cy="508.3" r="9.2"/>
<circle cx="679.5" cy="505.9" r="10.7"/>
<circle cx="418.2" cy="491.2" r="7.6"/>
<circle cx="526.5" cy="533.4" r="6.7"/>
<circle cx="624.1" cy="432.8" r="7.6"/>
<circle cx="470.4" cy="507.1" r="10.7"/>
<circle cx="516.6" cy="563.9" r="6.1"/>
<circle cx="640.4" cy="617.4" r="6.7"/>
<circle cx="673.2" cy="484.8" r="7.6"/>
<circle cx="540.4" cy="585.4" r="9.2"/>
<circle cx="589.3" cy="524.5" r="6.7"/>
<circle cx="581.1" cy="580.7" r="9.2"/>
<circle cx="432.5" cy="523.5" r="10.7"/>
<circle cx="641.8" cy="519.4" r="7.6"/>
<circle cx="392.9" cy="566.2" r="6.7"/>
<circle cx="573.3" cy="572.1" r="7.6"/>
<circle cx="503.5" cy="499" r="6.7"/>
<circle cx="487.2" cy="569.4" r="7.6"/>
<circle cx="519.8" cy="545.7" r="8.6"/>
<circle cx="655.4" cy="545.9" r="7.6"/>
<circle cx="600" cy="505.1" r="6.7"/>
<circle cx="695.7" cy="492.5" r="9.2"/>
<circle cx="482.2" cy="531.4" r="6.7"/>
<circle cx="626.7" cy="491.7" r="10.7"/>
<circle cx="417.5" cy="499.3" r="6.7"/>
<circle cx="633.5" cy="484.7" r="9.2"/>
<circle cx="600.5" cy="534.3" r="7.6"/>
<circle cx="603.2" cy="595.2" r="6.7"/>
<circle cx="645.1" cy="494.8" r="10.7"/>
<circle cx="546.7" cy="536.1" r="9.2"/>
<circle cx="644.4" cy="462.3" r="6.7"/>
<circle cx="676.8" cy="578.2" r="10.7"/>
<circle cx="647.5" cy="589.5" r="9.2"/>
<circle cx="566.5" cy="504.1" r="6.1"/>
<circle cx="490.6" cy="488.2" r="8.6"/>
<circle cx="526.2" cy="628.6" r="8.6"/>
<circle cx="448.1" cy="592.8" r="10.7"/>
<circle cx="566.2" cy="561.6" r="8.6"/>
<circle cx="608.1" cy="534" r="6.7"/>
<circle cx="651.8" cy="531.4" r="6.7"/>
<circle cx="485" cy="547.9" r="10.7"/>
<circle cx="538" cy="665.7" r="8.6"/>
<circle cx="455.7" cy="605.9" r="6.1"/>
<circle cx="412.9" cy="532.7" r="8.6"/>
<circle cx="629.3" cy="621.9" r="8.6"/>
<circle cx="667.6" cy="476.4" r="6.1"/>
<circle cx="587.2" cy="496.8" r="6.7"/>
<circle cx="521.7" cy="520.5" r="9.2"/>
<circle cx="444.1" cy="548.4" r="6.7"/>
<circle cx="637.3" cy="579.5" r="10.7"/>
<circle cx="581.3" cy="555.6" r="6.7"/>
<circle cx="586.5" cy="635.4" r="7.6"/>
<circle cx="615.4" cy="536.4" r="9.2"/>
<circle cx="442.1" cy="536.5" r="7.6"/>
<circle cx="438.2" cy="559.7" r="6.7"/>
<circle cx="512" cy="581.2" r="6.7"/>
<circle cx="601.3" cy="559.2" r="8.6"/>
<circle cx="431.9" cy="548.4" r="9.2"/>
<circle cx="498.6" cy="556.4" r="8.6"/>
<circle cx="661.3" cy="506.8" r="10.7"/>
<circle cx="451.4" cy="512.4" r="10.7"/>
<circle cx="427.9" cy="536.9" r="9.2"/>
<circle cx="554.3" cy="639.1" r="6.7"/>
<circle cx="430.1" cy="500" r="7.6"/>
<circle cx="469.5" cy="581.7" r="7.6"/>
<circle cx="607.1" cy="457.1" r="9.2"/>
<circle cx="482.9" cy="581.8" r="7.6"/>
<circle cx="489.6" cy="522.7" r="6.7"/>
<circle cx="605.4" cy="607.8" r="10.7"/>
<circle cx="605.1" cy="579.5" r="9.2"/>
<circle cx="627.2" cy="636.3" r="7.6"/>
<circle cx="630.6" cy="591.8" r="6.7"/>
<circle cx="540.2" cy="547.4" r="7.6"/>
<circle cx="603" cy="570" r="7.6"/>
<circle cx="652.2" cy="623.2" r="10.7"/>
<circle cx="428.5" cy="619" r="7.6"/>
<circle cx="628.3" cy="548.9" r="7.6"/>
<circle cx="563.7" cy="624.6" r="8.6"/>
<circle cx="533.7" cy="622.8" r="6.7"/>
<circle cx="554.4" cy="555.9" r="8.6"/>
<circle cx="645" cy="523.2" r="9.2"/>
<circle cx="626.8" cy="551.7" r="6.7"/>
<circle cx="628.9" cy="473.8" r="7.6"/>
<circle cx="466.1" cy="534.8" r="10.7"/>
<circle cx="551.5" cy="584.1" r="8.6"/>
<circle cx="570" cy="547.3" r="8.6"/>
<circle cx="424.5" cy="563" r="8.6"/>
<circle cx="593.5" cy="531.7" r="7.6"/>
<circle cx="479.1" cy="610" r="9.2"/>
<circle cx="579.8" cy="508.5" r="7.6"/>
<circle cx="552.2" cy="576.8" r="10.7"/>
<circle cx="536.5" cy="560.4" r="8.6"/>
<circle cx="477.9" cy="624.5" r="6.1"/>
<circle cx="526.5" cy="647.7" r="6.7"/>
<circle cx="688.2" cy="514.3" r="8.6"/>
<circle cx="608.1" cy="484.3" r="8.6"/>
<circle cx="533.3" cy="620.9" r="10.7"/>
<circle cx="641.8" cy="546" r="7.6"/>
<circle cx="475.7" cy="562" r="10.7"/>
<circle cx="435.7" cy="519.5" r="10.7"/>
<circle cx="538.5" cy="535" r="7.6"/>
<circle cx="574.2" cy="498" r="10.7"/>
<circle cx="575.5" cy="595.3" r="9.2"/>
<circle cx="656.3" cy="520.9" r="10.7"/>
<circle cx="440.6" cy="603.9" r="9.2"/>
<circle cx="426.9" cy="504.6" r="6.1"/>
<circle cx="531.3" cy="545.5" r="9.2"/>
<circle cx="488.4" cy="592.6" r="7.6"/>
<circle cx="401.3" cy="488.7" r="6.7"/>
<circle cx="635.9" cy="533.8" r="9.2"/>
<circle cx="520.5" cy="486.5" r="6.7"/>
<circle cx="576.9" cy="491.4" r="6.1"/>
<circle cx="544.9" cy="589.3" r="8.6"/>
<circle cx="538.7" cy="510" r="9.2"/>
<circle cx="455.8" cy="604.7" r="7.6"/>
<circle cx="616.1" cy="475.6" r="6.1"/>
<circle cx="583" cy="607" r="9.2"/>
<circle cx="643.2" cy="429.8" r="9.2"/>
<circle cx="557.8" cy="485.9" r="7.6"/>
<circle cx="621.4" cy="606.9" r="7.6"/>
<circle cx="471" cy="548.5" r="7.6"/>
<circle cx="474.2" cy="593.3" r="9.2"/>
<circle cx="638.1" cy="584.4" r="9.2"/>
<circle cx="470.9" cy="518.2" r="10.7"/>
<circle cx="687.4" cy="592.3" r="6.7"/>
<circle cx="576.7" cy="517.9" r="7.6"/>
<circle cx="357.5" cy="531.8" r="7.6"/>
<circle cx="424.4" cy="506.9" r="6.7"/>
<circle cx="536.6" cy="522.1" r="8.6"/>
<circle cx="511.1" cy="559.3" r="8.6"/>
<circle cx="391.2" cy="506.1" r="6.7"/>
<circle cx="545.7" cy="477.2" r="6.7"/>
<circle cx="669.2" cy="618.8" r="9.2"/>
<circle cx="437.1" cy="633" r="10.7"/>
<circle cx="442.1" cy="589.8" r="6.7"/>
<circle cx="645.6" cy="448.1" r="10.7"/>
<circle cx="494.5" cy="531.2" r="9.2"/>
<circle cx="440.8" cy="534.1" r="10.7"/>
<circle cx="580.5" cy="483.5" r="6.7"/>
<circle cx="636.4" cy="556.7" r="9.2"/>
<circle cx="664" cy="588.8" r="7.6"/>
<circle cx="568.7" cy="604.1" r="8.6"/>
<circle cx="425" cy="532.2" r="9.2"/>
<circle cx="619.6" cy="532" r="10.7"/>
<circle cx="436.1" cy="549.9" r="6.7"/>
<circle cx="529.1" cy="595.9" r="9.2"/>
<circle cx="478.6" cy="502.1" r="8.6"/>
<circle cx="616" cy="591.3" r="10.7"/>
<circle cx="479.6" cy="534.4" r="6.7"/>
<circle cx="606.4" cy="485.2" r="10.7"/>
<circle cx="588.1" cy="596.7" r="7.6"/>
<circle cx="505.4" cy="491.8" r="9.2"/>
<circle cx="528.2" cy="640.7" r="9.2"/>
<circle cx="452.2" cy="536.3" r="9.2"/>
<circle cx="676.6" cy="550.7" r="8.6"/>
<circle cx="593.7" cy="547.8" r="6.1"/>
<circle cx="453" cy="546.6" r="6.1"/>
<circle cx="519.4" cy="642.9" r="7.6"/>
<circle cx="652.2" cy="607.7" r="6.7"/>
<circle cx="359.6" cy="503.3" r="9.2"/>
<circle cx="666.8" cy="501.5" r="7.6"/>
<circle cx="559.4" cy="592.6" r="10.7"/>
<circle cx="486.9" cy="580.1" r="8.6"/>
<circle cx="584.1" cy="504.2" r="10.7"/>
<circle cx="482.2" cy="507.5" r="6.7"/>
<circle cx="665.1" cy="534.5" r="7.6"/>
<circle cx="548.6" cy="624.7" r="9.2"/>
<circle cx="604.3" cy="639.8" r="7.6"/>
<circle cx="496.6" cy="472.3" r="6.1"/>
<circle cx="528.6" cy="564" r="7.6"/>
<circle cx="466.5" cy="605.2" r="9.2"/>
<circle cx="398" cy="530.7" r="6.1"/>
<circle cx="378.7" cy="501.5" r="6.1"/>
<circle cx="558.8" cy="550.9" r="6.1"/>
<circle cx="594.7" cy="557.9" r="8.6"/>
<circle cx="384.7" cy="544.6" r="6.7"/>
<circle cx="575.8" cy="520" r="9.2"/>
<circle cx="473" cy="569.6" r="6.7"/>
<circle cx="542.9" cy="497.9" r="9.2"/>
<circle cx="433.3" cy="484.9" r="9.2"/>
<circle cx="507.4" cy="605.6" r="7.6"/>
<circle cx="589.6" cy="459.4" r="8.6"/>
<circle cx="524.3" cy="605.8" r="9.2"/>
<circle cx="610.1" cy="582.6" r="7.6"/>
<circle cx="630.8" cy="499.9" r="9.2"/>
<circle cx="593" cy="507.8" r="10.7"/>
<circle cx="562" cy="617.1" r="7.6"/>
<circle cx="493.7" cy="604.2" r="6.7"/>
<circle cx="370.9" cy="522.1" r="8.6"/>
<circle cx="681.4" cy="533" r="10.7"/>
<circle cx="462.2" cy="520.5" r="8.6"/>
<circle cx="635" cy="619.4" r="9.2"/>
<circle cx="421.8" cy="580.2" r="7.6"/>
<circle cx="629.5" cy="532.9" r="7.6"/>
<circle cx="591.3" cy="604.3" r="9.2"/>
<circle cx="462.3" cy="560.6" r="6.7"/>
<circle cx="399.8" cy="506.8" r="6.7"/>
<circle cx="648.9" cy="470.5" r="6.1"/>
<circle cx="657.4" cy="596.5" r="7.6"/>
<circle cx="557.9" cy="523.9" r="7.6"/>
<circle cx="516" cy="620.5" r="8.6"/>
<circle cx="688.7" cy="550.1" r="6.1"/>
<circle cx="624.1" cy="487.4" r="9.2"/>
<circle cx="511.6" cy="588.9" r="6.1"/>
<circle cx="650" cy="504.6" r="10.7"/>
<circle cx="648.7" cy="512.5" r="8.6"/>
<circle cx="607.3" cy="510.1" r="6.7"/>
<circle cx="579.1" cy="565.1" r="10.7"/>
<circle cx="602.7" cy="496.5" r="7.6"/>
<circle cx="589.1" cy="521.7" r="6.7"/>
<circle cx="631.4" cy="500.4" r="8.6"/>
<circle cx="643.3" cy="545.7" r="6.7"/>
<circle cx="549.1" cy="503.6" r="9.2"/>
<circle cx="446.2" cy="503.8" r="6.7"/>
<circle cx="495" cy="558.9" r="8.6"/>
<circle cx="552.1" cy="518" r="9.2"/>
<circle cx="589.7" cy="579.9" r="6.1"/>
<circle cx="460.8" cy="495.9" r="9.2"/>
<circle cx="543.7" cy="544.6" r="6.7"/>
<circle cx="656.6" cy="427.4" r="6.7"/>
<circle cx="565.5" cy="593.7" r="10.7"/>
<circle cx="410.7" cy="499.9" r="6.1"/>
<circle cx="544.2" cy="617.7" r="7.6"/>
<circle cx="379.5" cy="535.8" r="6.1"/>
<circle cx="536.5" cy="605.6" r="6.7"/>
<circle cx="675" cy="521.3" r="8.6"/>
<circle cx="495.2" cy="583" r="8.6"/>
<circle cx="413" cy="556" r="10.7"/>
<circle cx="451.6" cy="584" r="8.6"/>
<circle cx="660" cy="610.1" r="8.6"/>
<circle cx="644.8" cy="489.5" r="10.7"/>
<circle cx="469.9" cy="604.2" r="6.7"/>
<circle cx="613.8" cy="618.1" r="10.7"/>
<circle cx="613.8" cy="522" r="8.6"/>
<circle cx="526" cy="638.5" r="6.1"/>
<circle cx="401.3" cy="514.7" r="10.7"/>
<circle cx="651.3" cy="556.9" r="9.2"/>
<circle cx="557.7" cy="543.3" r="7.6"/>
<circle cx="508.6" cy="633.7" r="6.1"/>
<circle cx="463.8" cy="505.3" r="9.2"/>
<circle cx="629.2" cy="524.8" r="10.7"/>
<circle cx="438.8" cy="510.5" r="6.7"/>
<circle cx="630.7" cy="476.3" r="6.7"/>
<circle cx="356" cy="512.2" r="12.2"/>
<circle cx="369.7" cy="498.4" r="10.7"/>
<circle cx="368.2" cy="532" r="10.7"/>
<circle cx="377.3" cy="507.6" r="9.2"/>
<circle cx="386.5" cy="521.3" r="11.6"/>
<circle cx="386.5" cy="519.8" r="4.9"/>
<circle cx="394.1" cy="512.2" r="9.8"/>
<circle cx="397.2" cy="539.7" r="11.6"/>
<circle cx="383.5" cy="561" r="12.2"/>
<circle cx="392.6" cy="564" r="10.7"/>
<circle cx="384.4" cy="560.4" r="6.7"/>
<circle cx="415.5" cy="487.7" r="13.7"/>
<circle cx="417" cy="490.8" r="6.7"/>
<circle cx="403.3" cy="500" r="9.2"/>
<circle cx="404.8" cy="526" r="9.2"/>
<circle cx="411" cy="544.2" r="4.6"/>
<circle cx="418.6" cy="555" r="12.2"/>
<circle cx="420" cy="570.2" r="6.7"/>
<circle cx="418.6" cy="512.2" r="10.7"/>
<circle cx="426.2" cy="510.6" r="10.7"/>
<circle cx="435.4" cy="509.1" r="10.7"/>
<circle cx="423.2" cy="524.4" r="6.7"/>
<circle cx="420.1" cy="533.6" r="9.2"/>
<circle cx="432.3" cy="567.2" r="6.7"/>
<circle cx="436.9" cy="524.4" r="6.7"/>
<circle cx="443" cy="535" r="6.7"/>
<circle cx="450.6" cy="478.6" r="12.2"/>
<circle cx="447.6" cy="493.8" r="10.7"/>
<circle cx="465.9" cy="487.7" r="6.7"/>
<circle cx="458.3" cy="507.6" r="6.7"/>
<circle cx="453.7" cy="521.3" r="7.6"/>
<circle cx="462.9" cy="538.1" r="6.7"/>
<circle cx="446" cy="548.8" r="12.2"/>
<circle cx="453.7" cy="556.5" r="7.6"/>
<circle cx="453.7" cy="556.5" r="3.7"/>
<circle cx="427.7" cy="590" r="10.7"/>
<circle cx="443" cy="582.4" r="10.7"/>
<circle cx="461.3" cy="584" r="4.6"/>
<circle cx="458.3" cy="593" r="6.1"/>
<circle cx="456.8" cy="602.3" r="4.6"/>
<circle cx="411" cy="622.1" r="13.7"/>
<circle cx="411" cy="622.1" r="6.1"/>
<circle cx="415.5" cy="611.4" r="10.7"/>
<circle cx="433.8" cy="617.5" r="12.2"/>
<circle cx="462.9" cy="610" r="10.7"/>
<circle cx="469" cy="623.7" r="9.2"/>
<circle cx="472" cy="588.5" r="9.2"/>
<circle cx="484.2" cy="590" r="8.6"/>
<circle cx="482.7" cy="606.9" r="9.2"/>
<circle cx="473.6" cy="515.2" r="10.7"/>
<circle cx="473.6" cy="533.6" r="6.1"/>
<circle cx="482.7" cy="545.8" r="7.6"/>
<circle cx="493.4" cy="466.4" r="13.7"/>
<circle cx="496.5" cy="493.8" r="10.7"/>
<circle cx="493.4" cy="507.6" r="12.2"/>
<circle cx="501" cy="522.9" r="6.7"/>
<circle cx="488.8" cy="524.4" r="4.6"/>
<circle cx="496.5" cy="548.8" r="6.7"/>
<circle cx="493.4" cy="564.1" r="9.2"/>
<circle cx="479.7" cy="561" r="6.1"/>
<circle cx="501" cy="573.3" r="10.7"/>
<circle cx="496.5" cy="585.5" r="6.7"/>
<circle cx="510.2" cy="585.5" r="8.6"/>
<circle cx="501" cy="622.1" r="8.6"/>
<circle cx="502.6" cy="640.5" r="12.2"/>
<circle cx="488.8" cy="614.5" r="9.2"/>
<circle cx="516.3" cy="487.7" r="6.7"/>
<circle cx="527" cy="477" r="6.7"/>
<circle cx="537.7" cy="475.5" r="6.7"/>
<circle cx="543.8" cy="490.8" r="4.6"/>
<circle cx="540.8" cy="501.5" r="4.6"/>
<circle cx="516.3" cy="538.1" r="6.7"/>
<circle cx="519.4" cy="524.4" r="6.7"/>
<circle cx="527" cy="529" r="4.6"/>
<circle cx="513.3" cy="558" r="6.7"/>
<circle cx="519.4" cy="573.3" r="6.7"/>
<circle cx="537.7" cy="559.5" r="9.2"/>
<circle cx="549.9" cy="558" r="6.1"/>
<circle cx="549.9" cy="539.7" r="9.2"/>
<circle cx="543.8" cy="516.8" r="6.7"/>
<circle cx="540.8" cy="573.3" r="6.1"/>
<circle cx="549.9" cy="582.4" r="6.7"/>
<circle cx="539.2" cy="588.5" r="6.7"/>
<circle cx="525.5" cy="603.8" r="10.7"/>
<circle cx="534.6" cy="619.1" r="7.6"/>
<circle cx="537.7" cy="632.8" r="4.6"/>
<circle cx="546.9" cy="628.2" r="9.2"/>
<circle cx="527" cy="649.6" r="10.7"/>
<circle cx="517.8" cy="668" r="12.2"/>
<circle cx="524" cy="675.6" r="6.7"/>
<circle cx="557.5" cy="649.6" r="6.7"/>
<circle cx="556" cy="613" r="7.6"/>
<circle cx="663.2" cy="424.2" r="14.7"/>
<circle cx="626.5" cy="440.4" r="12.2"/>
<circle cx="598" cy="451.1" r="13.8"/>
<circle cx="649.4" cy="446.6" r="11.6"/>
<circle cx="662.3" cy="455.7" r="10.7"/>
<circle cx="656.2" cy="452.7" r="6.1"/>
<circle cx="615.8" cy="461.8" r="12.2"/>
<circle cx="660.8" cy="472.5" r="10.7"/>
<circle cx="630.2" cy="471" r="9.2"/>
<circle cx="621" cy="478.7" r="9.2"/>
<circle cx="613.4" cy="477.1" r="10.7"/>
<circle cx="623" cy="478" r="6"/>
<circle cx="584.3" cy="481.7" r="8.6"/>
<circle cx="569" cy="489.4" r="12.2"/>
<circle cx="553.8" cy="489.4" r="8.6"/>
<circle cx="543" cy="487.8" r="6.1"/>
<circle cx="714.3" cy="478.7" r="10.7"/>
<circle cx="729.5" cy="481.7" r="10.7"/>
<circle cx="732.6" cy="497" r="12.2"/>
<circle cx="718.8" cy="489.4" r="4.6"/>
<circle cx="702" cy="524.5" r="14.7"/>
<circle cx="706.6" cy="520" r="3.7"/>
<circle cx="700.5" cy="514.7" r="4.6"/>
<circle cx="692.9" cy="503.1" r="10.7"/>
<circle cx="679.1" cy="490.9" r="10.7"/>
<circle cx="666.9" cy="498.5" r="8.6"/>
<circle cx="645.5" cy="489.4" r="6.7"/>
<circle cx="648.5" cy="507.7" r="7.6"/>
<circle cx="598" cy="497" r="8.6"/>
<circle cx="598" cy="512.3" r="6.7"/>
<circle cx="587.4" cy="509.2" r="6.7"/>
<circle cx="566" cy="521.5" r="10.7"/>
<circle cx="546.1" cy="518.4" r="6.7"/>
<circle cx="676" cy="539.8" r="12.2"/>
<circle cx="662.3" cy="542.9" r="11.6"/>
<circle cx="639.4" cy="539.8" r="7.6"/>
<circle cx="631.7" cy="549" r="9.2"/>
<circle cx="616.4" cy="559.7" r="10.7"/>
<circle cx="584.3" cy="562.7" r="6.7"/>
<circle cx="567.5" cy="573.4" r="6.7"/>
<circle cx="550.7" cy="536.7" r="9.2"/>
<circle cx="552.2" cy="558.1" r="6.7"/>
<circle cx="619.5" cy="581.1" r="8.6"/>
<circle cx="634.8" cy="582.6" r="6.7"/>
<circle cx="584.3" cy="593.3" r="10.7"/>
<circle cx="605.7" cy="591.8" r="10.7"/>
<circle cx="627.1" cy="597.9" r="10.7"/>
<circle cx="650" cy="591.8" r="6.1"/>
<circle cx="662.3" cy="585.7" r="10.7"/>
<circle cx="668.4" cy="599.4" r="6.7"/>
<circle cx="682.2" cy="605.5" r="10.7"/>
<circle cx="685.2" cy="614.7" r="9.2"/>
<circle cx="657.7" cy="625.4" r="9.2"/>
<circle cx="631.7" cy="617.8" r="9.2"/>
<circle cx="613.4" cy="616.2" r="7.6"/>
<circle cx="602.7" cy="630" r="12.2"/>
<circle cx="604.2" cy="640.7" r="13.8"/>
<circle cx="573.6" cy="617.8" r="6.7"/>
<circle cx="559.9" cy="619.3" r="10.7"/>
<circle cx="546.1" cy="636.1" r="10.7"/>
<circle cx="559.9" cy="649.9" r="10.7"/>
<circle cx="566.9" cy="663.6" r="6.7"/>
<circle cx="653.1" cy="666.7" r="12.2"/>
<circle cx="662.3" cy="672.8" r="11.6"/>
<circle cx="652.5" cy="684.4" r="12.2"/>
<circle cx="594.4" cy="688.7" r="9.2"/>
<circle cx="624.4" cy="695.1" r="8.6"/>
<circle cx="613.4" cy="524.5" r="6.7"/>
<circle cx="575.2" cy="555.1" r="9.2"/>
<circle cx="914.3" cy="457.5" r="14.7"/>
<circle cx="869.7" cy="500.5" r="11"/>
<circle cx="835.4" cy="511.3" r="10.5"/>
<circle cx="847.8" cy="511.3" r="7"/>
</g>
<rect x="40.4" y="353.2" width="1010.9" height="419.3" fill="none" stroke="#1c1c1c" stroke-width="2.6"/>
<g stroke="#111" stroke-width="2">
<path d="M105.6 344.5 V353"/>
<path d="M374 344.5 V353"/>
<path d="M641.3 344.5 V353"/>
<path d="M909 344.5 V353"/>
<path d="M32 373.9 H40.5"/>
<path d="M32 509.9 H40.5"/>
<path d="M32 645.6 H40.5"/>
</g>
<g fill="#333">
<text x="90.24" y="339.24" font-size="16.00" font-family='"Liberation Serif", serif' textLength="32.68" lengthAdjust="spacingAndGlyphs">70°E</text>
<text x="357.34" y="338.84" font-size="16.15" font-family='"Liberation Serif", serif' textLength="32.99" lengthAdjust="spacingAndGlyphs">80°E</text>
<text x="624.81" y="338.84" font-size="16.15" font-family='"Liberation Serif", serif'>90°E</text>
<text x="888.10" y="338.84" font-size="16.15" font-family='"Liberation Serif", serif' textLength="41.34" lengthAdjust="spacingAndGlyphs">100°E</text>
<text transform="rotate(-90)" x="-391.83" y="27.04" font-size="16.15" font-family='"Liberation Serif", serif'>40°N</text>
<text transform="rotate(-90)" x="-527.59" y="27.04" font-size="16.15" font-family='"Liberation Serif", serif' textLength="35.01" lengthAdjust="spacingAndGlyphs">35°N</text>
<text transform="rotate(-90)" x="-663.29" y="27.04" font-size="16.15" font-family='"Liberation Serif", serif' textLength="35.01" lengthAdjust="spacingAndGlyphs">30°N</text>
</g>
<g fill="#111">
<text stroke="currentColor" stroke-width="0.45" x="48.94" y="315.49" font-size="29.34" font-family='"Liberation Serif", serif' textLength="35.31" lengthAdjust="spacingAndGlyphs">(b)</text>
<text x="69.26" y="383.00" font-size="15.65" font-family='"Liberation Sans", sans-serif' textLength="13.03" lengthAdjust="spacingAndGlyphs">N</text>
</g>
<path d="M75.3 389.5 L63.5 428.5 L75.3 415.5 Z" fill="#111"/>
<path d="M75.3 389.5 L87.2 428.5 L75.3 415.5 Z" fill="#fff" stroke="#111" stroke-width="1.2"/>
<g fill="#333">
<text x="92.55" y="543.98" font-size="21.03" font-family='"Liberation Serif", serif' textLength="101.30" lengthAdjust="spacingAndGlyphs">Unit : µg/L</text>
</g>
<g fill="#38a816" stroke="#10300a" stroke-width="1.5">
<circle cx="98.9" cy="570.5" r="3.2"/>
<circle cx="98.9" cy="596.4" r="5.1"/>
<circle cx="98.9" cy="621.4" r="6.9"/>
<circle cx="98.9" cy="646.2" r="9.3"/>
<circle cx="98.9" cy="672.8" r="11.1"/>
<circle cx="98.9" cy="705.2" r="13"/>
<circle cx="98.9" cy="744.6" r="14.4"/>
</g>
<g fill="#333" font-family='"Liberation Serif", serif' font-size="18">
<text x="119.1" y="577.8">0</text><text x="141.3" y="577.8" text-anchor="middle">–</text><text x="155" y="577.8">1.7</text>
<text x="119.9" y="603.1">1.7</text><text x="154.7" y="603.1" text-anchor="middle">–</text><text x="167.8" y="603.1">2.5</text>
<text x="119.9" y="628">2.5</text><text x="154.7" y="628" text-anchor="middle">–</text><text x="167.8" y="628">2.8</text>
<text x="119.9" y="653.4">2.8</text><text x="154.7" y="653.4" text-anchor="middle">–</text><text x="167.8" y="653.4">3.0</text>
<text x="119.9" y="681.7">3.0</text><text x="154.7" y="681.7" text-anchor="middle">–</text><text x="167.8" y="681.7">3.3</text>
<text x="119.9" y="714.8">3.3</text><text x="154.7" y="714.8" text-anchor="middle">–</text><text x="167.8" y="714.8">4.1</text>
<text x="119.9" y="755.3">4.1</text><text x="154.7" y="755.3" text-anchor="middle">–</text><text x="167.8" y="755.3">5.8</text>
</g>
<rect x="291.3" y="742.8" width="73.7" height="6" fill="#000"/>
<rect x="365" y="743.3" width="71.5" height="5" fill="#fff" stroke="#222" stroke-width="1"/>
<g fill="#444">
<text x="289.32" y="737.81" font-size="9.44" font-family='"Liberation Sans", sans-serif'>0</text>
<text x="355.20" y="737.81" font-size="9.44" font-family='"Liberation Sans", sans-serif' textLength="16.79" lengthAdjust="spacingAndGlyphs">300</text>
<text x="427.29" y="737.81" font-size="9.44" font-family='"Liberation Sans", sans-serif' textLength="17.11" lengthAdjust="spacingAndGlyphs">600</text>
<text x="438.30" y="748.00" font-size="8.14" font-family='"Liberation Sans", sans-serif' textLength="14.38" lengthAdjust="spacingAndGlyphs">km</text>
</g>
<g fill="#7f7f7f">
<rect x="117.3" y="953.6" width="4" height="50.3"/>
<rect x="135.4" y="960.5" width="4.5" height="43.4"/>
<rect x="139.5" y="950" width="4.6" height="53.9"/>
<rect x="153.4" y="954" width="6" height="49.9"/>
<rect x="159" y="960.5" width="4.5" height="43.4"/>
<rect x="163.1" y="966.7" width="4.6" height="37.2"/>
<rect x="167.3" y="962" width="5.9" height="41.9"/>
<rect x="172.8" y="949.4" width="4.6" height="54.5"/>
<rect x="177" y="946" width="6" height="57.9"/>
<rect x="185.4" y="953.6" width="5.4" height="50.3"/>
<rect x="192.3" y="955" width="2.4" height="48.9"/>
<rect x="194.3" y="936" width="3.4" height="67.9"/>
<rect x="207.6" y="936" width="4.6" height="67.9"/>
<rect x="215.4" y="957.8" width="5.1" height="46.1"/>
<rect x="220.1" y="950.8" width="3.1" height="53.1"/>
<rect x="222.8" y="963" width="4.1" height="40.9"/>
<rect x="229.2" y="956" width="5.2" height="47.9"/>
<rect x="234" y="960.5" width="4" height="43.4"/>
<rect x="237.6" y="957" width="4.3" height="46.9"/>
<rect x="245.1" y="923" width="8.1" height="80.9"/>
<rect x="252.8" y="963" width="3.8" height="40.9"/>
<rect x="262.6" y="966" width="4.3" height="37.9"/>
<rect x="266.5" y="953.6" width="4.8" height="50.3"/>
<rect x="270.9" y="955" width="5.1" height="48.9"/>
<rect x="275.6" y="951.7" width="7.4" height="52.2"/>
<rect x="282.6" y="952" width="7.3" height="51.9"/>
<rect x="289.5" y="957.8" width="4.6" height="46.1"/>
<rect x="293.7" y="969" width="4.5" height="34.9"/>
<rect x="300.6" y="953.6" width="4.6" height="50.3"/>
<rect x="304.8" y="936" width="4.6" height="67.9"/>
<rect x="310.9" y="968" width="4" height="35.9"/>
<rect x="315.9" y="939" width="4.6" height="64.9"/>
<rect x="320.1" y="952" width="4.5" height="51.9"/>
<rect x="324.2" y="980" width="3.2" height="23.9"/>
<rect x="327" y="960" width="2.4" height="43.9"/>
<rect x="329" y="959" width="8.8" height="44.9"/>
<rect x="337.4" y="964" width="3.5" height="39.9"/>
<rect x="340.5" y="961" width="4.2" height="42.9"/>
<rect x="344.3" y="964" width="2.7" height="39.9"/>
<rect x="346.6" y="945" width="4.2" height="58.9"/>
<rect x="351.9" y="942.8" width="4.3" height="61.1"/>
<rect x="358.1" y="942.8" width="4.2" height="61.1"/>
<rect x="361.9" y="955.9" width="7.3" height="48"/>
<rect x="368.8" y="955.9" width="4.2" height="48"/>
<rect x="372.6" y="937.5" width="5" height="66.4"/>
<rect x="377.2" y="958" width="2.7" height="45.9"/>
<rect x="381" y="953.6" width="3.5" height="50.3"/>
<rect x="384.1" y="965.8" width="4.2" height="38.1"/>
<rect x="387.9" y="947.4" width="4.2" height="56.5"/>
<rect x="391.7" y="968.9" width="2.7" height="35"/>
<rect x="394" y="942" width="4.2" height="61.9"/>
<rect x="397.8" y="946" width="3.5" height="57.9"/>
<rect x="400.9" y="958" width="5.8" height="45.9"/>
<rect x="406.3" y="945" width="4.2" height="58.9"/>
<rect x="410.1" y="958" width="2.7" height="45.9"/>
<rect x="414.7" y="962.7" width="3.4" height="41.2"/>
<rect x="417.7" y="968.9" width="4.3" height="35"/>
<rect x="421.6" y="967" width="2.7" height="36.9"/>
<rect x="423.9" y="951" width="3.4" height="52.9"/>
<rect x="426.9" y="945" width="3.8" height="58.9"/>
<rect x="433.8" y="945" width="5" height="58.9"/>
<rect x="438.4" y="956.6" width="4.2" height="47.3"/>
<rect x="442.2" y="950.5" width="4.2" height="53.4"/>
<rect x="446" y="958" width="5" height="45.9"/>
<rect x="452.9" y="954.3" width="5" height="49.6"/>
<rect x="457.5" y="951" width="5" height="52.9"/>
<rect x="462.1" y="959.7" width="5" height="44.2"/>
<rect x="466.7" y="952.8" width="5" height="51.1"/>
<rect x="471.3" y="959.7" width="6.5" height="44.2"/>
<rect x="477.4" y="949" width="4.2" height="54.9"/>
<rect x="481.2" y="962" width="3.5" height="41.9"/>
<rect x="484.3" y="954.3" width="5" height="49.6"/>
<rect x="491.9" y="971" width="4.3" height="32.9"/>
<rect x="495.8" y="961" width="8" height="42.9"/>
<rect x="505.7" y="958" width="5.8" height="45.9"/>
<rect x="511.1" y="942.8" width="4.2" height="61.1"/>
<rect x="514.9" y="939" width="4.5" height="64.9"/>
<rect x="519" y="943.6" width="5" height="60.3"/>
<rect x="523.6" y="939.8" width="3.4" height="64.1"/>
<rect x="526.6" y="959.7" width="2.7" height="44.2"/>
<rect x="528.9" y="982.6" width="2.7" height="21.3"/>
<rect x="531.2" y="942" width="4.2" height="61.9"/>
<rect x="535" y="949" width="5.8" height="54.9"/>
<rect x="540.4" y="972" width="2.7" height="31.9"/>
<rect x="543.5" y="954.3" width="3.4" height="49.6"/>
<rect x="546.5" y="961" width="3.5" height="42.9"/>
<rect x="549.6" y="952" width="3.4" height="51.9"/>
<rect x="552.6" y="958" width="3.5" height="45.9"/>
<rect x="558" y="962.7" width="3.5" height="41.2"/>
<rect x="561.1" y="950.5" width="4.2" height="53.4"/>
<rect x="564.9" y="965" width="5" height="38.9"/>
<rect x="569.5" y="949" width="5" height="54.9"/>
<rect x="574.1" y="961" width="2.7" height="42.9"/>
<rect x="576.4" y="952" width="4.2" height="51.9"/>
<rect x="580.2" y="959" width="3.5" height="44.9"/>
<rect x="583.3" y="954.3" width="3.4" height="49.6"/>
<rect x="586.3" y="945" width="3.5" height="58.9"/>
<rect x="592.4" y="960.4" width="5" height="43.5"/>
<rect x="597" y="952.8" width="3.5" height="51.1"/>
<rect x="600.1" y="948.2" width="4.2" height="55.7"/>
<rect x="603.9" y="966.6" width="4.2" height="37.3"/>
<rect x="607.7" y="955.9" width="4.3" height="48"/>
<rect x="611.6" y="961" width="4.2" height="42.9"/>
<rect x="615.4" y="955.9" width="4.2" height="48"/>
<rect x="619.2" y="960.4" width="2.7" height="43.5"/>
<rect x="621.5" y="946" width="3.5" height="57.9"/>
<rect x="624.6" y="952.8" width="6.5" height="51.1"/>
<rect x="630.7" y="942.8" width="4.2" height="61.1"/>
<rect x="634.5" y="954.3" width="2.7" height="49.6"/>
<rect x="638.3" y="946.7" width="4.3" height="57.2"/>
<rect x="646.8" y="961" width="2.7" height="42.9"/>
<rect x="649.1" y="944.4" width="4.2" height="59.5"/>
<rect x="656.4" y="956.6" width="3.8" height="47.3"/>
<rect x="659.8" y="952" width="4.2" height="51.9"/>
<rect x="663.6" y="959.7" width="2.7" height="44.2"/>
<rect x="678.9" y="952" width="4.2" height="51.9"/>
<rect x="682.7" y="972" width="4.2" height="31.9"/>
<rect x="695" y="970.4" width="2.7" height="33.5"/>
<rect x="697.3" y="946.7" width="3.9" height="57.2"/>
<rect x="704.9" y="984" width="4.2" height="19.9"/>
<rect x="720.5" y="948" width="4.2" height="55.9"/>
<rect x="724.3" y="977" width="3.7" height="26.9"/>
<rect x="741.4" y="947.4" width="4.4" height="56.5"/>
<rect x="748.5" y="955" width="4" height="48.9"/>
<rect x="921.5" y="965.8" width="4.2" height="38.1"/>
<rect x="941.1" y="950.5" width="4.4" height="53.4"/>
<rect x="978.5" y="957.5" width="4.2" height="46.4"/>
<rect x="1053.5" y="940.5" width="3.9" height="63.4"/>
</g>
<g stroke="#333" stroke-width="1.8" fill="none">
<path d="M116.7 822 V1003.9"/>
<path d="M102.2 1003.9 H1057.5"/>
<path d="M102.2 838 H116.7"/>
<path d="M102.2 920.9 H116.7"/>
<path d="M102.2 1003.9 H116.7"/>
<path d="M146.9 1003.9 V1017"/>
<path d="M371.8 1003.9 V1017"/>
<path d="M596.8 1003.9 V1017"/>
<path d="M821.7 1003.9 V1017"/>
<path d="M1046.7 1003.9 V1017"/>
</g>
<g fill="#111">
<text stroke="currentColor" stroke-width="0.45" x="50.83" y="805.07" font-size="29.89" font-family='"Liberation Serif", serif' textLength="33.84" lengthAdjust="spacingAndGlyphs">(c)</text>
<text x="143.81" y="852.29" font-size="23.30" font-family='"Liberation Serif", serif' textLength="181.24" lengthAdjust="spacingAndGlyphs">Spearman r = 0.07</text>
<text x="145.67" y="882.87" font-size="22.21" font-family='"Liberation Serif", serif' textLength="81.55" lengthAdjust="spacingAndGlyphs">P = 0.24</text>
<text x="72.12" y="843.80" font-size="18.79" font-family='"Liberation Serif", serif' textLength="19.77" lengthAdjust="spacingAndGlyphs">12</text>
<text x="82.38" y="926.94" font-size="15.67" font-family='"Liberation Serif", serif' textLength="8.95" lengthAdjust="spacingAndGlyphs">6</text>
<text x="82.37" y="1009.33" font-size="16.89" font-family='"Liberation Serif", serif' textLength="9.17" lengthAdjust="spacingAndGlyphs">0</text>
<text x="136.10" y="1042.60" font-size="19.70" font-family='"Liberation Serif", serif' textLength="22.61" lengthAdjust="spacingAndGlyphs">80</text>
<text x="360.70" y="1042.60" font-size="19.70" font-family='"Liberation Serif", serif' textLength="22.39" lengthAdjust="spacingAndGlyphs">85</text>
<text x="586.35" y="1042.60" font-size="19.70" font-family='"Liberation Serif", serif' textLength="21.61" lengthAdjust="spacingAndGlyphs">90</text>
<text x="810.84" y="1042.60" font-size="19.85" font-family='"Liberation Serif", serif' textLength="22.15" lengthAdjust="spacingAndGlyphs">95</text>
<text x="1031.88" y="1042.60" font-size="19.70" font-family='"Liberation Serif", serif' textLength="30.33" lengthAdjust="spacingAndGlyphs">100</text>
<text x="449.37" y="1065.56" font-size="21.10" font-family='"Liberation Serif", serif' textLength="137.66" lengthAdjust="spacingAndGlyphs">Longitude (E)</text>
<text transform="rotate(-90)" x="-972.52" y="54.86" font-size="20.66" font-family='"Liberation Serif", serif' textLength="117.10" lengthAdjust="spacingAndGlyphs">Chl-a (µg/L)</text>
</g>
<g fill="#7f7f7f">
<rect x="1188.2" y="288.2" width="57.8" height="2.2"/>
<rect x="1196.3" y="315.5" width="49.7" height="2.2"/>
<rect x="1200.5" y="326.4" width="45.5" height="2.2"/>
<rect x="1185.9" y="336.3" width="60.1" height="2.2"/>
<rect x="1206.7" y="340.9" width="39.3" height="2.2"/>
<rect x="1185.9" y="345.6" width="60.1" height="2.2"/>
<rect x="1202.8" y="354.2" width="43.2" height="2.2"/>
<rect x="1190.7" y="359.5" width="55.3" height="2.2"/>
<rect x="1206.3" y="369.5" width="39.7" height="3"/>
<rect x="1193.3" y="372.1" width="52.7" height="3"/>
<rect x="1211.5" y="374.7" width="34.5" height="3"/>
<rect x="1188.8" y="377.9" width="57.2" height="2.4"/>
<rect x="1207" y="379.9" width="39" height="3"/>
<rect x="1193.3" y="382.5" width="52.7" height="2.3"/>
<rect x="1207.6" y="384.4" width="38.4" height="2.4"/>
<rect x="1193.3" y="386.4" width="52.7" height="3"/>
<rect x="1198.5" y="389" width="47.5" height="4.3"/>
<rect x="1205" y="396.7" width="41" height="2.4"/>
<rect x="1202.4" y="398.7" width="43.6" height="5.6"/>
<rect x="1210.2" y="403.9" width="35.8" height="2.3"/>
<rect x="1197.2" y="405.8" width="48.8" height="5.6"/>
<rect x="1207.6" y="411.6" width="38.4" height="2.4"/>
<rect x="1188.1" y="414.2" width="57.9" height="3"/>
<rect x="1207.6" y="416.8" width="38.4" height="2.4"/>
<rect x="1196.6" y="419.4" width="49.4" height="3"/>
<rect x="1195.9" y="422.7" width="50.1" height="4.3"/>
<rect x="1203.7" y="429.8" width="42.3" height="3"/>
<rect x="1182.3" y="433" width="63.7" height="2.4"/>
<rect x="1203.7" y="435.6" width="42.3" height="2.4"/>
<rect x="1170" y="437.6" width="76" height="2.3"/>
<rect x="1199.8" y="439.5" width="46.2" height="3.7"/>
<rect x="1191.4" y="442.8" width="54.6" height="2.9"/>
<rect x="1190.7" y="445.3" width="55.3" height="4.3"/>
<rect x="1194" y="449.2" width="52" height="3"/>
<rect x="1201.1" y="451.8" width="44.9" height="4.3"/>
<rect x="1200.5" y="455.7" width="45.5" height="4.3"/>
<rect x="1181.7" y="459.6" width="64.3" height="4.3"/>
<rect x="1198.5" y="463.5" width="47.5" height="4.3"/>
<rect x="1183" y="467.4" width="63" height="3"/>
<rect x="1169.7" y="470" width="76.3" height="3"/>
<rect x="1206.3" y="472.6" width="39.7" height="3"/>
<rect x="1211.5" y="477.1" width="34.5" height="3.6"/>
<rect x="1195.9" y="480.3" width="50.1" height="3"/>
<rect x="1202.4" y="482.9" width="43.6" height="3.7"/>
<rect x="1189.4" y="486.2" width="56.6" height="3.6"/>
<rect x="1202.4" y="489.4" width="43.6" height="2.4"/>
<rect x="1195.9" y="493.3" width="50.1" height="4.3"/>
<rect x="1189.4" y="497.2" width="56.6" height="3"/>
<rect x="1203" y="503.3" width="43" height="6.2"/>
<rect x="1192" y="511.4" width="54" height="4.8"/>
<rect x="1200" y="515.8" width="46" height="4.4"/>
<rect x="1190" y="519.8" width="56" height="4.4"/>
<rect x="1198" y="523.8" width="48" height="4.4"/>
<rect x="1192" y="527.8" width="54" height="4.4"/>
<rect x="1204" y="531.8" width="42" height="4.6"/>
<rect x="1196" y="538.3" width="50" height="5.1"/>
<rect x="1213" y="543" width="33" height="7.3"/>
<rect x="1198" y="552.2" width="48" height="4"/>
<rect x="1203" y="555.8" width="43" height="4.4"/>
<rect x="1196" y="559.8" width="50" height="4.4"/>
<rect x="1201" y="563.8" width="45" height="3"/>
<rect x="1187" y="566.4" width="59" height="2.2"/>
<rect x="1200" y="568.2" width="46" height="4"/>
<rect x="1195" y="571.8" width="51" height="3"/>
<rect x="1183.6" y="574.4" width="62.4" height="2"/>
<rect x="1198" y="577.7" width="48" height="4.5"/>
<rect x="1203" y="581.8" width="43" height="4.4"/>
<rect x="1194" y="585.8" width="52" height="4.4"/>
<rect x="1200" y="589.8" width="46" height="2.6"/>
<rect x="1186" y="592" width="60" height="2.2"/>
<rect x="1196" y="593.8" width="50" height="4.4"/>
<rect x="1202" y="597.8" width="44" height="4.4"/>
<rect x="1193" y="601.8" width="53" height="4.1"/>
<rect x="1192" y="607.8" width="54" height="4.4"/>
<rect x="1187" y="611.8" width="59" height="4.4"/>
<rect x="1196" y="615.8" width="50" height="4.4"/>
<rect x="1190" y="619.8" width="56" height="4.4"/>
<rect x="1200" y="623.8" width="46" height="5.2"/>
<rect x="1189" y="629" width="57" height="2"/>
<rect x="1182" y="631" width="64" height="3.2"/>
<rect x="1200" y="633.8" width="46" height="4.4"/>
<rect x="1205" y="637.8" width="41" height="5.1"/>
<rect x="1203" y="646.3" width="43" height="2.2"/>
<rect x="1201" y="655.4" width="45" height="2.4"/>
<rect x="1186" y="658" width="60" height="2.2"/>
<rect x="1203" y="676.7" width="43" height="3"/>
<rect x="1208" y="701.2" width="38" height="2.2"/>
<rect x="1190.5" y="709.8" width="55.5" height="2.2"/>
<rect x="1196" y="715.5" width="50" height="4.3"/>
<rect x="1209" y="720.5" width="37" height="2.2"/>
<rect x="1203" y="735.9" width="43" height="2.2"/>
<rect x="1205" y="743.7" width="41" height="2.2"/>
</g>
<g stroke="#666" stroke-width="1.8" fill="none">
<path d="M1246 288 V757.4"/>
<path d="M1071.5 757.4 H1246"/>
<path d="M1246 388.4 H1253"/>
<path d="M1246 529.5 H1253"/>
<path d="M1246 669.8 H1253"/>
<path d="M1085 757.4 V764"/>
<path d="M1164.6 757.4 V764"/>
<path d="M1244.7 757.4 V764"/>
</g>
<g fill="#111">
<text stroke="currentColor" stroke-width="0.45" x="1065.85" y="328.39" font-size="29.34" font-family='"Liberation Serif", serif' textLength="35.09" lengthAdjust="spacingAndGlyphs">(d)</text>
</g>
<g fill="#333">
<text x="1256.46" y="393.56" font-size="14.48" font-family='"Liberation Serif", serif' textLength="14.16" lengthAdjust="spacingAndGlyphs">36</text>
<text x="1255.90" y="534.15" font-size="14.63" font-family='"Liberation Serif", serif' textLength="13.22" lengthAdjust="spacingAndGlyphs">33</text>
<text x="1255.20" y="675.25" font-size="14.52" font-family='"Liberation Serif", serif' textLength="13.22" lengthAdjust="spacingAndGlyphs">30</text>
<text stroke="currentColor" stroke-width="0.35" x="1077.21" y="781.40" font-size="13.33" font-family='"Liberation Serif", serif' textLength="12.79" lengthAdjust="spacingAndGlyphs">12</text>
<text stroke="currentColor" stroke-width="0.35" x="1159.91" y="781.27" font-size="13.13" font-family='"Liberation Serif", serif' textLength="6.16" lengthAdjust="spacingAndGlyphs">6</text>
<text stroke="currentColor" stroke-width="0.35" x="1239.51" y="781.27" font-size="13.04" font-family='"Liberation Serif", serif' textLength="7.38" lengthAdjust="spacingAndGlyphs">0</text>
<text stroke="currentColor" stroke-width="0.35" x="1116.44" y="801.23" font-size="16.15" font-family='"Liberation Serif", serif' textLength="84.06" lengthAdjust="spacingAndGlyphs">Chl-a (µg/L)</text>
<text x="1067.82" y="691.76" font-size="16.93" font-family='"Liberation Serif", serif' textLength="117.09" lengthAdjust="spacingAndGlyphs">Spearman =–0.11</text>
<text x="1072.12" y="723.06" font-size="15.74" font-family='"Liberation Serif", serif' textLength="53.69" lengthAdjust="spacingAndGlyphs">P = 0.04</text>
<text transform="rotate(-90)" x="-595.92" y="1288.75" font-size="15.60" font-family='"Liberation Serif", serif' textLength="85.70" lengthAdjust="spacingAndGlyphs">Latitude (N)</text>
</g>
</svg></body></html>
